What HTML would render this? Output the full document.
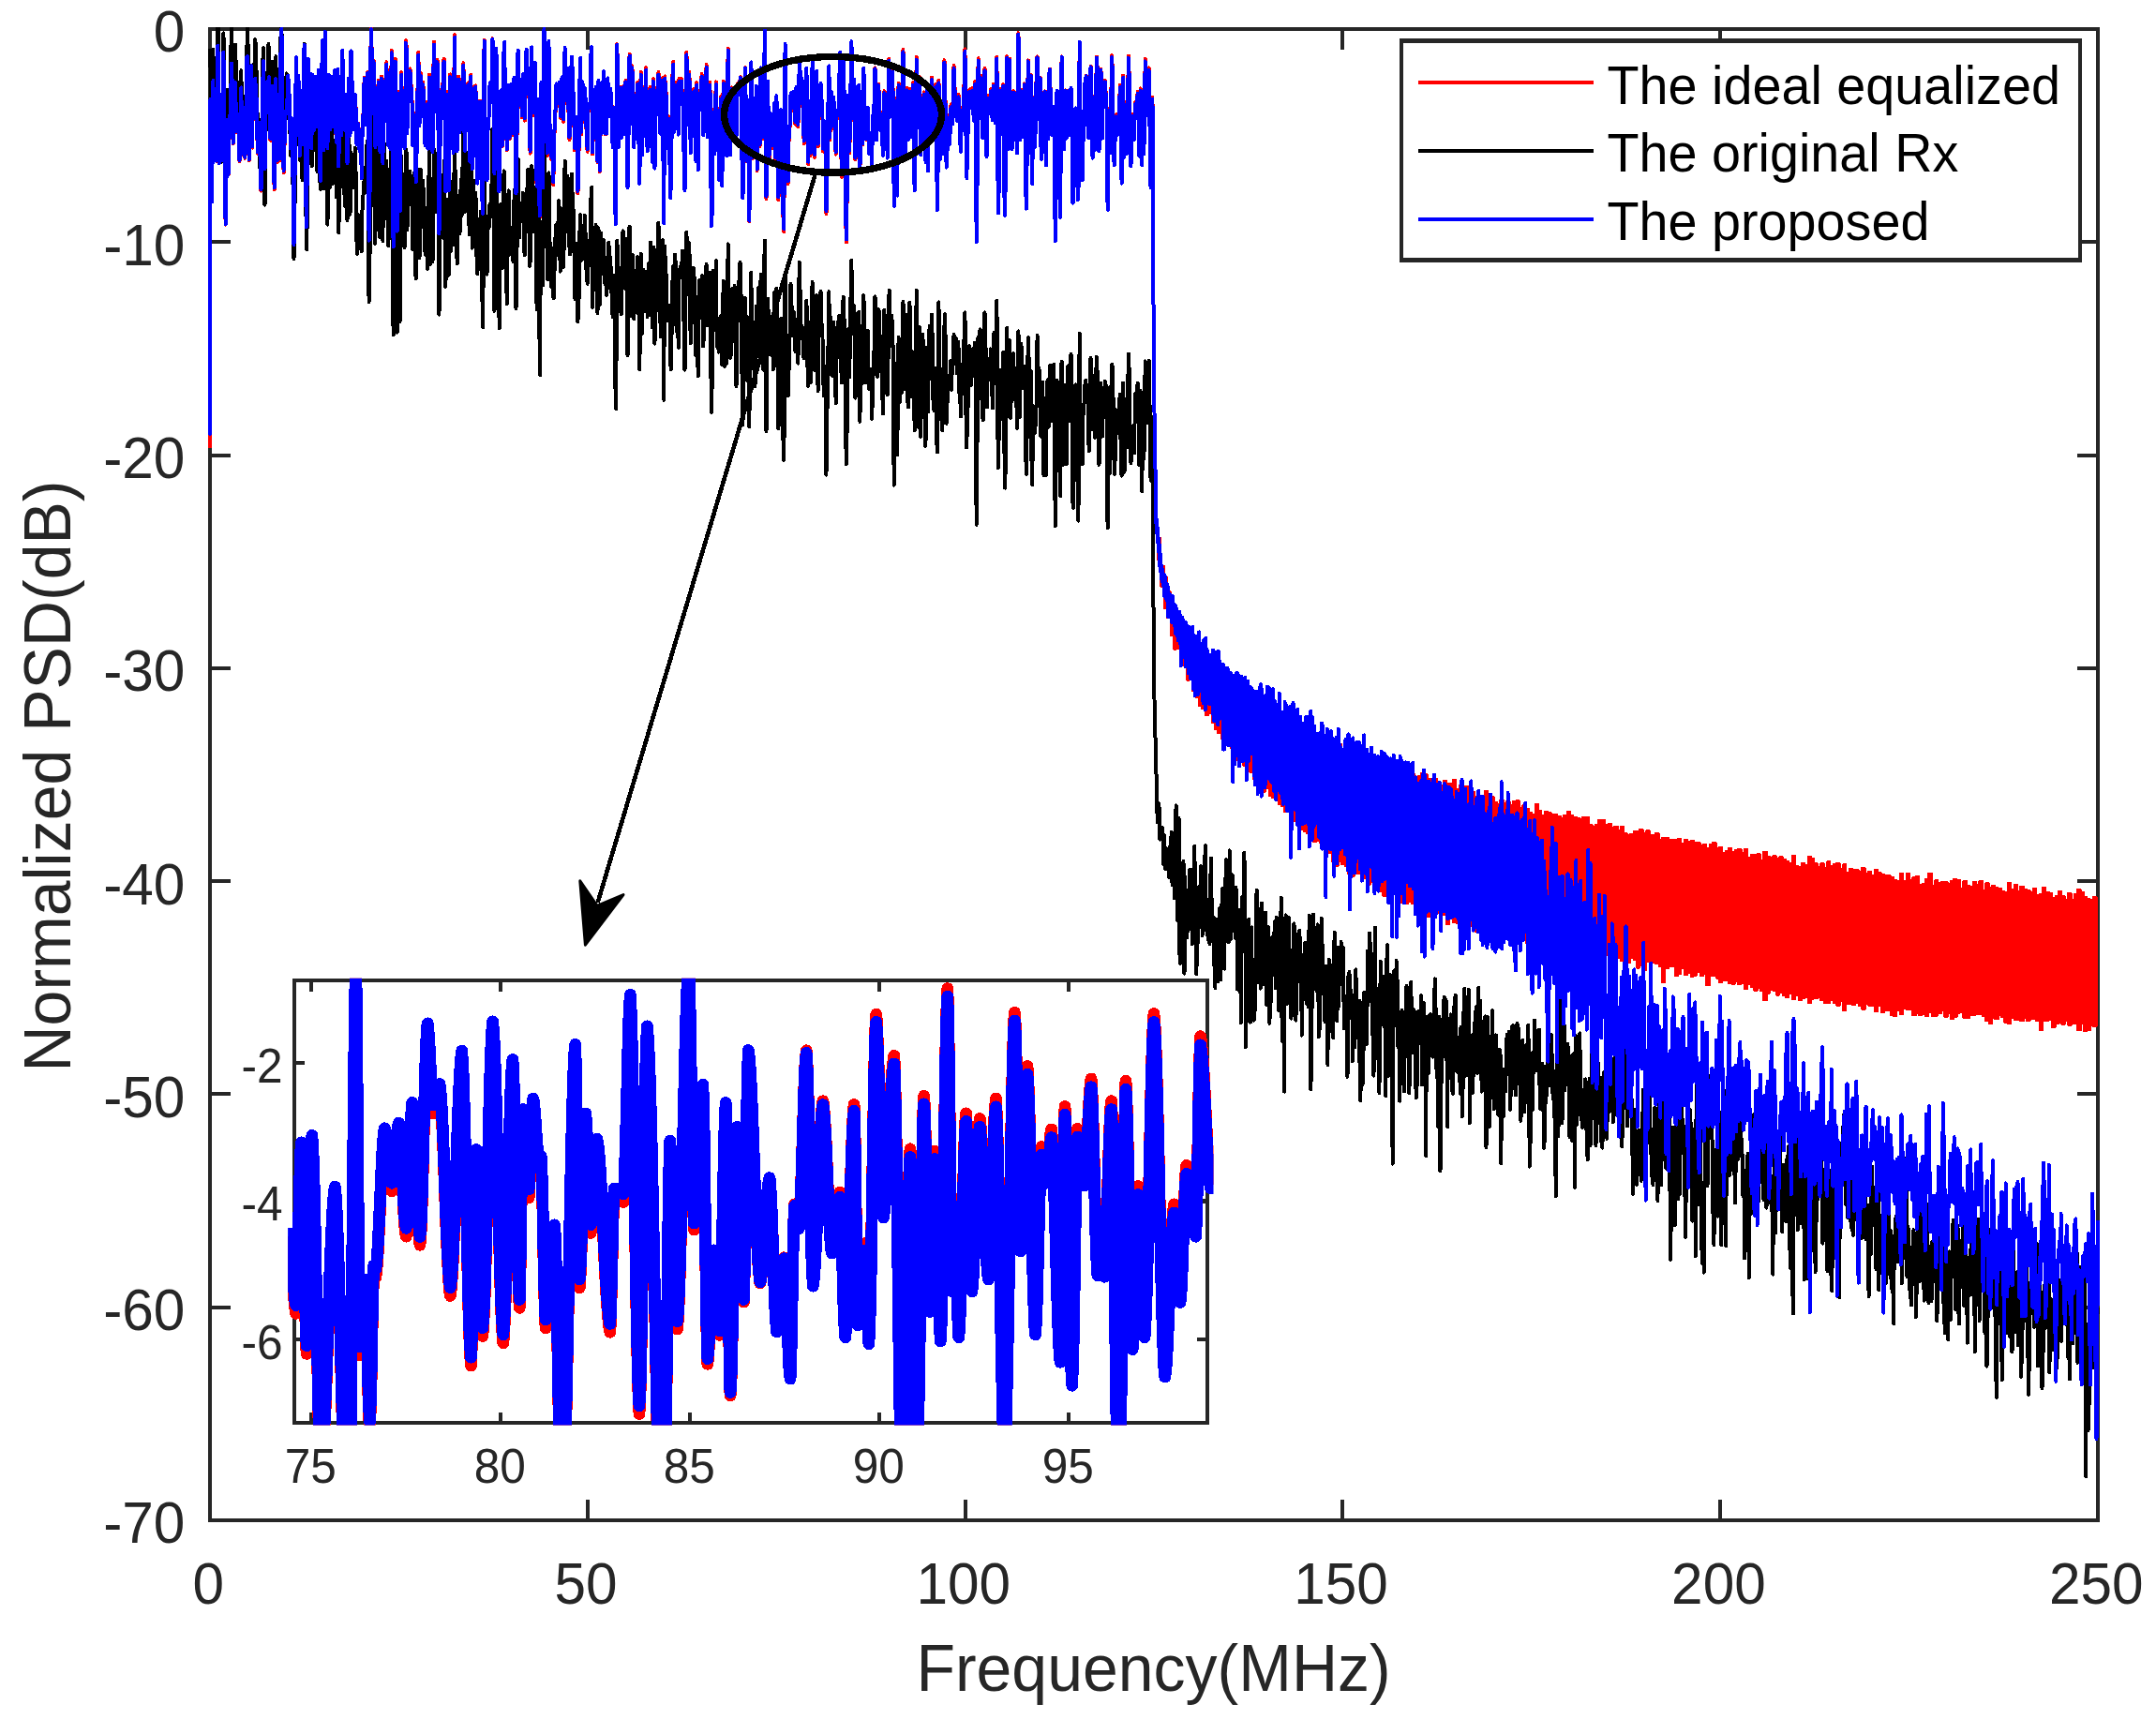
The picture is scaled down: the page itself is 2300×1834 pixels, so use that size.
<!DOCTYPE html>
<html><head><meta charset="utf-8"><title>Normalized PSD</title><style>html,body{margin:0;padding:0;background:#fff}svg{display:block}</style></head><body>
<svg width="2300" height="1834" viewBox="0 0 2300 1834" font-family="'Liberation Sans', Arial, Helvetica, sans-serif">
<rect width="2300" height="1834" fill="#fff"/>
<defs><clipPath id="cm"><rect x="222.0" y="29.0" width="2018.0" height="1595.0"/></clipPath><clipPath id="ci"><rect x="307.1" y="1043.8" width="987.4" height="476.7"/></clipPath></defs>
<g stroke="#262626" stroke-width="4" fill="none" stroke-linecap="butt" shape-rendering="crispEdges">
<rect x="224.0" y="31.0" width="2014.0" height="1591.0"/>
<path d="M626.8 1622.0v-22M626.8 31.0v22"/>
<path d="M1029.6 1622.0v-22M1029.6 31.0v22"/>
<path d="M1432.4 1622.0v-22M1432.4 31.0v22"/>
<path d="M1835.2 1622.0v-22M1835.2 31.0v22"/>
<path d="M224.0 258.3h22M2238.0 258.3h-22"/>
<path d="M224.0 485.6h22M2238.0 485.6h-22"/>
<path d="M224.0 712.9h22M2238.0 712.9h-22"/>
<path d="M224.0 940.1h22M2238.0 940.1h-22"/>
<path d="M224.0 1167.4h22M2238.0 1167.4h-22"/>
<path d="M224.0 1394.7h22M2238.0 1394.7h-22"/>
</g>
<g fill="#262626" font-size="60.3">
<text transform="translate(222.2 1711.2) scale(1 1.03)" text-anchor="middle">0</text>
<text transform="translate(625.0 1711.2) scale(1 1.03)" text-anchor="middle">50</text>
<text transform="translate(1027.8 1711.2) scale(1 1.03)" text-anchor="middle">100</text>
<text transform="translate(1430.6 1711.2) scale(1 1.03)" text-anchor="middle">150</text>
<text transform="translate(1833.4 1711.2) scale(1 1.03)" text-anchor="middle">200</text>
<text transform="translate(2236.2 1711.2) scale(1 1.03)" text-anchor="middle">250</text>
<text transform="translate(197.4 55.4) scale(1 1.03)" text-anchor="end">0</text>
<text transform="translate(197.4 282.7) scale(1 1.03)" text-anchor="end">-10</text>
<text transform="translate(197.4 510.0) scale(1 1.03)" text-anchor="end">-20</text>
<text transform="translate(197.4 737.3) scale(1 1.03)" text-anchor="end">-30</text>
<text transform="translate(197.4 964.5) scale(1 1.03)" text-anchor="end">-40</text>
<text transform="translate(197.4 1191.8) scale(1 1.03)" text-anchor="end">-50</text>
<text transform="translate(197.4 1419.1) scale(1 1.03)" text-anchor="end">-60</text>
<text transform="translate(197.4 1646.4) scale(1 1.03)" text-anchor="end">-70</text>
</g>
<g fill="#262626" font-size="68">
<text transform="translate(1230.5 1803.8) scale(1 1.035)" text-anchor="middle">Frequency(MHz)</text>
<text transform="translate(75.2 828.0) rotate(-90) scale(1 1.035)" text-anchor="middle">Normalized PSD(dB)</text>
</g>
<g clip-path="url(#cm)" fill="none" stroke-width="4" stroke-linejoin="round" stroke-linecap="round" shape-rendering="crispEdges">
<polygon points="1235.0,573.7 1238.4,573.7 1238.4,604.0 1241.8,604.0 1241.8,616.0 1245.2,616.0 1245.2,630.8 1248.6,630.8 1248.6,641.5 1251.9,641.5 1251.9,648.1 1255.3,648.1 1255.3,663.3 1258.7,663.3 1258.7,662.7 1262.1,662.7 1262.1,664.2 1265.5,664.2 1265.5,675.4 1268.9,675.4 1268.9,686.1 1272.2,686.1 1272.2,685.3 1275.6,685.3 1275.6,691.8 1279.0,691.8 1279.0,699.9 1282.4,699.9 1282.4,701.0 1285.8,701.0 1285.8,699.7 1289.2,699.7 1289.2,701.9 1292.5,701.9 1292.5,708.1 1295.9,708.1 1295.9,711.9 1299.3,711.9 1299.3,713.1 1302.7,713.1 1302.7,721.0 1306.1,721.0 1306.1,723.0 1309.5,723.0 1309.5,725.6 1312.8,725.6 1312.8,728.0 1316.2,728.0 1316.2,730.6 1319.6,730.6 1319.6,732.1 1323.0,732.1 1323.0,732.7 1326.4,732.7 1326.4,739.0 1329.8,739.0 1329.8,739.5 1333.2,739.5 1333.2,742.3 1336.5,742.3 1336.5,744.3 1339.9,744.3 1339.9,742.6 1343.3,742.6 1343.3,749.0 1346.7,749.0 1346.7,746.0 1350.1,746.0 1350.1,753.1 1353.5,753.1 1353.5,759.9 1356.8,759.9 1356.8,758.0 1360.2,758.0 1360.2,761.8 1363.6,761.8 1363.6,758.8 1367.0,758.8 1367.0,768.4 1370.4,768.4 1370.4,766.8 1373.8,766.8 1373.8,774.1 1377.1,774.1 1377.1,770.9 1380.5,770.9 1380.5,777.5 1383.9,777.5 1383.9,771.8 1387.3,771.8 1387.3,775.2 1390.7,775.2 1390.7,779.0 1394.1,779.0 1394.1,779.0 1397.4,779.0 1397.4,786.0 1400.8,786.0 1400.8,786.0 1404.2,786.0 1404.2,789.5 1407.6,789.5 1407.6,788.5 1411.0,788.5 1411.0,796.2 1414.4,796.2 1414.4,789.4 1417.7,789.4 1417.7,796.8 1421.1,796.8 1421.1,800.5 1424.5,800.5 1424.5,794.1 1427.9,794.1 1427.9,794.1 1431.3,794.1 1431.3,799.0 1434.7,799.0 1434.7,808.7 1438.0,808.7 1438.0,803.5 1441.4,803.5 1441.4,807.5 1444.8,807.5 1444.8,808.7 1448.2,808.7 1448.2,812.0 1451.6,812.0 1451.6,809.4 1455.0,809.4 1455.0,812.4 1458.3,812.4 1458.3,809.4 1461.7,809.4 1461.7,816.2 1465.1,816.2 1465.1,812.1 1468.5,812.1 1468.5,813.7 1471.9,813.7 1471.9,812.1 1475.3,812.1 1475.3,821.0 1478.6,821.0 1478.6,819.0 1482.0,819.0 1482.0,819.9 1485.4,819.9 1485.4,819.2 1488.8,819.2 1488.8,821.3 1492.2,821.3 1492.2,824.3 1495.6,824.3 1495.6,824.3 1498.9,824.3 1498.9,823.2 1502.3,823.2 1502.3,826.6 1505.7,826.6 1505.7,826.3 1509.1,826.3 1509.1,832.0 1512.5,832.0 1512.5,828.3 1515.9,828.3 1515.9,825.3 1519.2,825.3 1519.2,826.0 1522.6,826.0 1522.6,830.9 1526.0,830.9 1526.0,832.4 1529.4,832.4 1529.4,830.7 1532.8,830.7 1532.8,833.5 1536.2,833.5 1536.2,837.8 1539.5,837.8 1539.5,833.2 1542.9,833.2 1542.9,835.9 1546.3,835.9 1546.3,836.0 1549.7,836.0 1549.7,831.9 1553.1,831.9 1553.1,841.5 1556.5,841.5 1556.5,838.1 1559.8,838.1 1559.8,840.1 1563.2,840.1 1563.2,838.9 1566.6,838.9 1566.6,839.4 1570.0,839.4 1570.0,845.2 1573.4,845.2 1573.4,850.1 1576.8,850.1 1576.8,850.3 1580.1,850.3 1580.1,850.9 1583.5,850.9 1583.5,843.8 1586.9,843.8 1586.9,855.3 1590.3,855.3 1590.3,850.3 1593.7,850.3 1593.7,855.8 1597.1,855.8 1597.1,857.9 1600.4,857.9 1600.4,853.8 1603.8,853.8 1603.8,857.1 1607.2,857.1 1607.2,855.2 1610.6,855.2 1610.6,859.4 1614.0,859.4 1614.0,855.2 1617.4,855.2 1617.4,854.4 1620.7,854.4 1620.7,861.7 1624.1,861.7 1624.1,859.4 1627.5,859.4 1627.5,863.2 1630.9,863.2 1630.9,866.8 1634.3,866.8 1634.3,868.5 1637.7,868.5 1637.7,857.5 1641.1,857.5 1641.1,865.3 1644.4,865.3 1644.4,869.7 1647.8,869.7 1647.8,865.6 1651.2,865.6 1651.2,866.9 1654.6,866.9 1654.6,869.3 1658.0,869.3 1658.0,868.6 1661.4,868.6 1661.4,870.9 1664.7,870.9 1664.7,872.6 1668.1,872.6 1668.1,870.0 1671.5,870.0 1671.5,866.3 1674.9,866.3 1674.9,870.0 1678.3,870.0 1678.3,871.8 1681.7,871.8 1681.7,872.6 1685.0,872.6 1685.0,873.5 1688.4,873.5 1688.4,871.8 1691.8,871.8 1691.8,871.8 1695.2,871.8 1695.2,880.2 1698.6,880.2 1698.6,882.2 1702.0,882.2 1702.0,879.9 1705.3,879.9 1705.3,875.1 1708.7,875.1 1708.7,875.1 1712.1,875.1 1712.1,879.8 1715.5,879.8 1715.5,878.6 1718.9,878.6 1718.9,883.2 1722.3,883.2 1722.3,881.5 1725.6,881.5 1725.6,885.6 1729.0,885.6 1729.0,882.0 1732.4,882.0 1732.4,889.3 1735.8,889.3 1735.8,890.8 1739.2,890.8 1739.2,890.0 1742.6,890.0 1742.6,887.1 1745.9,887.1 1745.9,886.5 1749.3,886.5 1749.3,885.1 1752.7,885.1 1752.7,888.8 1756.1,888.8 1756.1,886.4 1759.5,886.4 1759.5,890.7 1762.9,890.7 1762.9,891.0 1766.2,891.0 1766.2,889.0 1769.6,889.0 1769.6,895.9 1773.0,895.9 1773.0,894.2 1776.4,894.2 1776.4,893.8 1779.8,893.8 1779.8,895.9 1783.2,895.9 1783.2,896.1 1786.5,896.1 1786.5,896.2 1789.9,896.2 1789.9,895.2 1793.3,895.2 1793.3,900.3 1796.7,900.3 1796.7,895.6 1800.1,895.6 1800.1,898.1 1803.5,898.1 1803.5,896.8 1806.8,896.8 1806.8,899.1 1810.2,899.1 1810.2,898.8 1813.6,898.8 1813.6,902.4 1817.0,902.4 1817.0,901.0 1820.4,901.0 1820.4,905.1 1823.8,905.1 1823.8,901.4 1827.1,901.4 1827.1,899.1 1830.5,899.1 1830.5,905.3 1833.9,905.3 1833.9,903.6 1837.3,903.6 1837.3,910.0 1840.7,910.0 1840.7,908.1 1844.1,908.1 1844.1,904.9 1847.4,904.9 1847.4,909.0 1850.8,909.0 1850.8,907.3 1854.2,907.3 1854.2,905.9 1857.6,905.9 1857.6,910.3 1861.0,910.3 1861.0,905.5 1864.4,905.5 1864.4,914.8 1867.7,914.8 1867.7,912.3 1871.1,912.3 1871.1,912.1 1874.5,912.1 1874.5,911.4 1877.9,911.4 1877.9,917.8 1881.3,917.8 1881.3,908.9 1884.7,908.9 1884.7,913.6 1888.0,913.6 1888.0,914.6 1891.4,914.6 1891.4,913.4 1894.8,913.4 1894.8,916.3 1898.2,916.3 1898.2,914.3 1901.6,914.3 1901.6,916.8 1905.0,916.8 1905.0,918.5 1908.3,918.5 1908.3,920.6 1911.7,920.6 1911.7,913.0 1915.1,913.0 1915.1,924.3 1918.5,924.3 1918.5,925.0 1921.9,925.0 1921.9,920.6 1925.3,920.6 1925.3,923.0 1928.6,923.0 1928.6,913.7 1932.0,913.7 1932.0,916.1 1935.4,916.1 1935.4,921.4 1938.8,921.4 1938.8,925.3 1942.2,925.3 1942.2,921.4 1945.6,921.4 1945.6,926.0 1949.0,926.0 1949.0,919.4 1952.3,919.4 1952.3,924.3 1955.7,924.3 1955.7,921.7 1959.1,921.7 1959.1,920.9 1962.5,920.9 1962.5,926.6 1965.9,926.6 1965.9,922.4 1969.3,922.4 1969.3,930.5 1972.6,930.5 1972.6,927.0 1976.0,927.0 1976.0,928.2 1979.4,928.2 1979.4,928.4 1982.8,928.4 1982.8,930.3 1986.2,930.3 1986.2,925.9 1989.6,925.9 1989.6,932.0 1992.9,932.0 1992.9,930.1 1996.3,930.1 1996.3,933.8 1999.7,933.8 1999.7,927.8 2003.1,927.8 2003.1,930.6 2006.5,930.6 2006.5,932.7 2009.9,932.7 2009.9,934.2 2013.2,934.2 2013.2,933.9 2016.6,933.9 2016.6,935.8 2020.0,935.8 2020.0,939.2 2023.4,939.2 2023.4,939.9 2026.8,939.9 2026.8,931.6 2030.2,931.6 2030.2,939.8 2033.5,939.8 2033.5,932.1 2036.9,932.1 2036.9,939.1 2040.3,939.1 2040.3,936.4 2043.7,936.4 2043.7,934.9 2047.1,934.9 2047.1,943.6 2050.5,943.6 2050.5,943.4 2053.8,943.4 2053.8,938.3 2057.2,938.3 2057.2,931.7 2060.6,931.7 2060.6,945.0 2064.0,945.0 2064.0,939.4 2067.4,939.4 2067.4,941.5 2070.8,941.5 2070.8,940.5 2074.1,940.5 2074.1,941.1 2077.5,941.1 2077.5,942.9 2080.9,942.9 2080.9,939.6 2084.3,939.6 2084.3,938.1 2087.7,938.1 2087.7,939.2 2091.1,939.2 2091.1,948.3 2094.4,948.3 2094.4,940.1 2097.8,940.1 2097.8,944.8 2101.2,944.8 2101.2,946.0 2104.6,946.0 2104.6,941.2 2108.0,941.2 2108.0,943.6 2111.4,943.6 2111.4,939.9 2114.7,939.9 2114.7,949.8 2118.1,949.8 2118.1,942.4 2121.5,942.4 2121.5,947.0 2124.9,947.0 2124.9,944.9 2128.3,944.9 2128.3,947.2 2131.7,947.2 2131.7,947.8 2135.0,947.8 2135.0,950.7 2138.4,950.7 2138.4,951.7 2141.8,951.7 2141.8,941.8 2145.2,941.8 2145.2,948.6 2148.6,948.6 2148.6,944.2 2152.0,944.2 2152.0,950.5 2155.3,950.5 2155.3,945.6 2158.7,945.6 2158.7,949.3 2162.1,949.3 2162.1,950.3 2165.5,950.3 2165.5,952.2 2168.9,952.2 2168.9,948.0 2172.3,948.0 2172.3,954.5 2175.6,954.5 2175.6,954.3 2179.0,954.3 2179.0,947.0 2182.4,947.0 2182.4,952.0 2185.8,952.0 2185.8,952.7 2189.2,952.7 2189.2,958.3 2192.6,958.3 2192.6,955.9 2195.9,955.9 2195.9,950.5 2199.3,950.5 2199.3,956.1 2202.7,956.1 2202.7,960.2 2206.1,960.2 2206.1,952.6 2209.5,952.6 2209.5,960.1 2212.9,960.1 2212.9,954.3 2216.2,954.3 2216.2,949.2 2219.6,949.2 2219.6,952.2 2223.0,952.2 2223.0,957.0 2226.4,957.0 2226.4,959.3 2229.8,959.3 2229.8,960.4 2233.2,960.4 2233.2,957.2 2236.5,957.2 2236.5,1095.2 2233.2,1095.2 2233.2,1093.9 2229.8,1093.9 2229.8,1099.1 2226.4,1099.1 2226.4,1100.3 2223.0,1100.3 2223.0,1091.8 2219.6,1091.8 2219.6,1099.4 2216.2,1099.4 2216.2,1092.0 2212.9,1092.0 2212.9,1091.7 2209.5,1091.7 2209.5,1093.5 2206.1,1093.5 2206.1,1089.3 2202.7,1089.3 2202.7,1092.5 2199.3,1092.5 2199.3,1090.5 2195.9,1090.5 2195.9,1092.0 2192.6,1092.0 2192.6,1096.0 2189.2,1096.0 2189.2,1088.3 2185.8,1088.3 2185.8,1088.6 2182.4,1088.6 2182.4,1089.3 2179.0,1089.3 2179.0,1099.4 2175.6,1099.4 2175.6,1089.4 2172.3,1089.4 2172.3,1087.2 2168.9,1087.2 2168.9,1087.3 2165.5,1087.3 2165.5,1089.3 2162.1,1089.3 2162.1,1086.2 2158.7,1086.2 2158.7,1089.3 2155.3,1089.3 2155.3,1088.4 2152.0,1088.4 2152.0,1088.4 2148.6,1088.4 2148.6,1086.3 2145.2,1086.3 2145.2,1092.3 2141.8,1092.3 2141.8,1090.8 2138.4,1090.8 2138.4,1084.7 2135.0,1084.7 2135.0,1083.4 2131.7,1083.4 2131.7,1087.2 2128.3,1087.2 2128.3,1085.6 2124.9,1085.6 2124.9,1092.2 2121.5,1092.2 2121.5,1089.2 2118.1,1089.2 2118.1,1084.1 2114.7,1084.1 2114.7,1082.2 2111.4,1082.2 2111.4,1081.5 2108.0,1081.5 2108.0,1082.5 2104.6,1082.5 2104.6,1082.9 2101.2,1082.9 2101.2,1085.9 2097.8,1085.9 2097.8,1086.0 2094.4,1086.0 2094.4,1080.0 2091.1,1080.0 2091.1,1080.5 2087.7,1080.5 2087.7,1084.5 2084.3,1084.5 2084.3,1087.3 2080.9,1087.3 2080.9,1080.9 2077.5,1080.9 2077.5,1084.6 2074.1,1084.6 2074.1,1077.8 2070.8,1077.8 2070.8,1080.9 2067.4,1080.9 2067.4,1083.5 2064.0,1083.5 2064.0,1084.3 2060.6,1084.3 2060.6,1080.1 2057.2,1080.1 2057.2,1084.4 2053.8,1084.4 2053.8,1082.0 2050.5,1082.0 2050.5,1083.2 2047.1,1083.2 2047.1,1081.4 2043.7,1081.4 2043.7,1083.0 2040.3,1083.0 2040.3,1077.4 2036.9,1077.4 2036.9,1077.1 2033.5,1077.1 2033.5,1075.8 2030.2,1075.8 2030.2,1082.4 2026.8,1082.4 2026.8,1078.1 2023.4,1078.1 2023.4,1084.3 2020.0,1084.3 2020.0,1083.0 2016.6,1083.0 2016.6,1078.1 2013.2,1078.1 2013.2,1077.9 2009.9,1077.9 2009.9,1079.8 2006.5,1079.8 2006.5,1072.5 2003.1,1072.5 2003.1,1079.4 1999.7,1079.4 1999.7,1072.8 1996.3,1072.8 1996.3,1072.5 1992.9,1072.5 1992.9,1071.1 1989.6,1071.1 1989.6,1076.5 1986.2,1076.5 1986.2,1073.2 1982.8,1073.2 1982.8,1070.0 1979.4,1070.0 1979.4,1071.7 1976.0,1071.7 1976.0,1070.6 1972.6,1070.6 1972.6,1071.3 1969.3,1071.3 1969.3,1077.8 1965.9,1077.8 1965.9,1068.2 1962.5,1068.2 1962.5,1072.5 1959.1,1072.5 1959.1,1070.0 1955.7,1070.0 1955.7,1066.8 1952.3,1066.8 1952.3,1070.3 1949.0,1070.3 1949.0,1069.7 1945.6,1069.7 1945.6,1066.9 1942.2,1066.9 1942.2,1063.8 1938.8,1063.8 1938.8,1064.8 1935.4,1064.8 1935.4,1065.5 1932.0,1065.5 1932.0,1070.2 1928.6,1070.2 1928.6,1064.4 1925.3,1064.4 1925.3,1065.1 1921.9,1065.1 1921.9,1067.1 1918.5,1067.1 1918.5,1062.2 1915.1,1062.2 1915.1,1066.1 1911.7,1066.1 1911.7,1059.8 1908.3,1059.8 1908.3,1064.1 1905.0,1064.1 1905.0,1062.4 1901.6,1062.4 1901.6,1058.9 1898.2,1058.9 1898.2,1061.6 1894.8,1061.6 1894.8,1057.0 1891.4,1057.0 1891.4,1056.2 1888.0,1056.2 1888.0,1059.6 1884.7,1059.6 1884.7,1067.4 1881.3,1067.4 1881.3,1056.8 1877.9,1056.8 1877.9,1054.3 1874.5,1054.3 1874.5,1056.6 1871.1,1056.6 1871.1,1052.9 1867.7,1052.9 1867.7,1050.1 1864.4,1050.1 1864.4,1055.1 1861.0,1055.1 1861.0,1048.7 1857.6,1048.7 1857.6,1049.8 1854.2,1049.8 1854.2,1047.2 1850.8,1047.2 1850.8,1049.7 1847.4,1049.7 1847.4,1048.9 1844.1,1048.9 1844.1,1046.3 1840.7,1046.3 1840.7,1046.4 1837.3,1046.4 1837.3,1047.9 1833.9,1047.9 1833.9,1043.5 1830.5,1043.5 1830.5,1041.1 1827.1,1041.1 1827.1,1041.3 1823.8,1041.3 1823.8,1051.3 1820.4,1051.3 1820.4,1038.7 1817.0,1038.7 1817.0,1040.7 1813.6,1040.7 1813.6,1037.0 1810.2,1037.0 1810.2,1040.5 1806.8,1040.5 1806.8,1041.7 1803.5,1041.7 1803.5,1038.4 1800.1,1038.4 1800.1,1040.4 1796.7,1040.4 1796.7,1032.9 1793.3,1032.9 1793.3,1038.9 1789.9,1038.9 1789.9,1040.9 1786.5,1040.9 1786.5,1031.1 1783.2,1031.1 1783.2,1030.8 1779.8,1030.8 1779.8,1033.1 1776.4,1033.1 1776.4,1048.2 1773.0,1048.2 1773.0,1031.2 1769.6,1031.2 1769.6,1028.1 1766.2,1028.1 1766.2,1026.5 1762.9,1026.5 1762.9,1026.1 1759.5,1026.1 1759.5,1026.1 1756.1,1026.1 1756.1,1034.9 1752.7,1034.9 1752.7,1030.3 1749.3,1030.3 1749.3,1032.5 1745.9,1032.5 1745.9,1023.9 1742.6,1023.9 1742.6,1021.8 1739.2,1021.8 1739.2,1027.2 1735.8,1027.2 1735.8,1023.7 1732.4,1023.7 1732.4,1024.9 1729.0,1024.9 1729.0,1022.1 1725.6,1022.1 1725.6,1019.5 1722.3,1019.5 1722.3,1027.1 1718.9,1027.1 1718.9,1020.9 1715.5,1020.9 1715.5,1018.7 1712.1,1018.7 1712.1,1023.5 1708.7,1023.5 1708.7,1016.3 1705.3,1016.3 1705.3,1017.0 1702.0,1017.0 1702.0,1019.4 1698.6,1019.4 1698.6,1017.7 1695.2,1017.7 1695.2,1017.9 1691.8,1017.9 1691.8,1014.3 1688.4,1014.3 1688.4,1016.1 1685.0,1016.1 1685.0,1020.5 1681.7,1020.5 1681.7,1013.7 1678.3,1013.7 1678.3,1012.6 1674.9,1012.6 1674.9,1012.6 1671.5,1012.6 1671.5,1016.0 1668.1,1016.0 1668.1,1013.9 1664.7,1013.9 1664.7,1008.7 1661.4,1008.7 1661.4,1011.2 1658.0,1011.2 1658.0,1010.1 1654.6,1010.1 1654.6,1011.2 1651.2,1011.2 1651.2,1004.4 1647.8,1004.4 1647.8,1007.3 1644.4,1007.3 1644.4,1006.0 1641.1,1006.0 1641.1,1003.7 1637.7,1003.7 1637.7,1003.3 1634.3,1003.3 1634.3,1002.4 1630.9,1002.4 1630.9,1006.3 1627.5,1006.3 1627.5,1000.3 1624.1,1000.3 1624.1,1001.1 1620.7,1001.1 1620.7,1001.1 1617.4,1001.1 1617.4,1000.8 1614.0,1000.8 1614.0,998.5 1610.6,998.5 1610.6,996.4 1607.2,996.4 1607.2,1001.5 1603.8,1001.5 1603.8,996.1 1600.4,996.1 1600.4,997.6 1597.1,997.6 1597.1,995.7 1593.7,995.7 1593.7,1001.1 1590.3,1001.1 1590.3,1002.5 1586.9,1002.5 1586.9,994.7 1583.5,994.7 1583.5,991.6 1580.1,991.6 1580.1,994.6 1576.8,994.6 1576.8,993.5 1573.4,993.5 1573.4,988.0 1570.0,988.0 1570.0,986.7 1566.6,986.7 1566.6,990.9 1563.2,990.9 1563.2,984.4 1559.8,984.4 1559.8,984.3 1556.5,984.3 1556.5,984.6 1553.1,984.6 1553.1,983.7 1549.7,983.7 1549.7,979.9 1546.3,979.9 1546.3,985.9 1542.9,985.9 1542.9,975.8 1539.5,975.8 1539.5,975.4 1536.2,975.4 1536.2,974.1 1532.8,974.1 1532.8,972.0 1529.4,972.0 1529.4,972.5 1526.0,972.5 1526.0,978.3 1522.6,978.3 1522.6,967.8 1519.2,967.8 1519.2,967.9 1515.9,967.9 1515.9,965.2 1512.5,965.2 1512.5,967.2 1509.1,967.2 1509.1,963.8 1505.7,963.8 1505.7,961.9 1502.3,961.9 1502.3,964.3 1498.9,964.3 1498.9,957.9 1495.6,957.9 1495.6,962.9 1492.2,962.9 1492.2,955.2 1488.8,955.2 1488.8,954.3 1485.4,954.3 1485.4,951.7 1482.0,951.7 1482.0,954.4 1478.6,954.4 1478.6,955.5 1475.3,955.5 1475.3,950.8 1471.9,950.8 1471.9,947.1 1468.5,947.1 1468.5,943.9 1465.1,943.9 1465.1,940.8 1461.7,940.8 1461.7,943.9 1458.3,943.9 1458.3,936.5 1455.0,936.5 1455.0,934.9 1451.6,934.9 1451.6,932.3 1448.2,932.3 1448.2,931.1 1444.8,931.1 1444.8,934.7 1441.4,934.7 1441.4,932.6 1438.0,932.6 1438.0,924.0 1434.7,924.0 1434.7,921.9 1431.3,921.9 1431.3,918.9 1427.9,918.9 1427.9,923.7 1424.5,923.7 1424.5,919.3 1421.1,919.3 1421.1,909.6 1417.7,909.6 1417.7,909.0 1414.4,909.0 1414.4,903.1 1411.0,903.1 1411.0,899.5 1407.6,899.5 1407.6,896.5 1404.2,896.5 1404.2,897.9 1400.8,897.9 1400.8,893.1 1397.4,893.1 1397.4,889.2 1394.1,889.2 1394.1,887.3 1390.7,887.3 1390.7,885.2 1387.3,885.2 1387.3,881.0 1383.9,881.0 1383.9,876.3 1380.5,876.3 1380.5,868.1 1377.1,868.1 1377.1,865.0 1373.8,865.0 1373.8,866.4 1370.4,866.4 1370.4,859.7 1367.0,859.7 1367.0,858.1 1363.6,858.1 1363.6,853.2 1360.2,853.2 1360.2,851.0 1356.8,851.0 1356.8,848.8 1353.5,848.8 1353.5,840.5 1350.1,840.5 1350.1,844.5 1346.7,844.5 1346.7,835.5 1343.3,835.5 1343.3,832.6 1339.9,832.6 1339.9,830.8 1336.5,830.8 1336.5,823.6 1333.2,823.6 1333.2,817.8 1329.8,817.8 1329.8,816.7 1326.4,816.7 1326.4,809.7 1323.0,809.7 1323.0,811.0 1319.6,811.0 1319.6,802.4 1316.2,802.4 1316.2,798.5 1312.8,798.5 1312.8,795.8 1309.5,795.8 1309.5,793.5 1306.1,793.5 1306.1,788.0 1302.7,788.0 1302.7,782.2 1299.3,782.2 1299.3,778.1 1295.9,778.1 1295.9,771.0 1292.5,771.0 1292.5,761.3 1289.2,761.3 1289.2,763.3 1285.8,763.3 1285.8,756.4 1282.4,756.4 1282.4,753.2 1279.0,753.2 1279.0,743.7 1275.6,743.7 1275.6,737.2 1272.2,737.2 1272.2,724.0 1268.9,724.0 1268.9,725.5 1265.5,725.5 1265.5,709.8 1262.1,709.8 1262.1,704.1 1258.7,704.1 1258.7,692.0 1255.3,692.0 1255.3,692.5 1251.9,692.5 1251.9,678.3 1248.6,678.3 1248.6,659.3 1245.2,659.3 1245.2,649.2 1241.8,649.2 1241.8,625.5 1238.4,625.5 1238.4,597.0 1235.0,597.0" fill="#f00" stroke="#f00" stroke-width="2"/>
<path stroke="#f00" d="M224.0 476.5L224.5 105.7L225.0 134.3L225.5 187.6L226.0 215.5L226.5 178.5L227.0 118.2L227.4 86.0L227.9 113.7L228.4 153.2L228.9 154.1L229.4 118.2L229.9 111.2L230.4 144.0L230.9 171.9L231.4 148.2L231.9 90.1L232.4 48.8L232.9 77.5L233.3 146.0L233.8 174.5L234.3 146.5L234.8 120.3L235.3 131.2L235.8 156.4L236.3 171.8L236.8 153.9L237.3 116.4L237.8 77.7L238.3 56.6L238.8 75.8L239.2 121.9L239.7 177.6L240.2 222.7L240.7 239.6L241.2 216.4L241.7 176.3L242.2 140.0L242.7 128.2L243.2 158.0L243.7 186.3L244.2 158.8L244.7 123.8L245.1 128.5L245.6 131.3L246.1 113.3L246.6 85.3L247.1 68.1L247.6 87.8L248.1 129.1L248.6 153.4L249.1 143.6L249.6 123.6L250.1 102.0L250.6 88.3L251.0 92.2L251.5 109.5L252.0 129.4L252.5 140.9L253.0 138.0L253.5 130.1L254.0 122.8L254.5 125.2L255.0 153.7L255.5 172.2L256.0 156.1L256.5 126.3L256.9 98.9L257.4 94.3L257.9 155.2L258.4 164.7L258.9 152.3L259.4 141.8L259.9 143.5L260.4 152.6L260.9 163.0L261.4 168.9L261.9 156.1L262.4 124.9L262.8 88.5L263.3 62.3L263.8 61.2L264.3 85.8L264.8 121.6L265.3 154.4L265.8 171.4L266.3 156.9L266.8 124.6L267.3 90.6L267.8 71.4L268.3 89.3L268.7 130.0L269.2 157.7L269.7 113.4L270.2 91.7L270.7 106.5L271.2 118.1L271.7 102.8L272.2 85.1L272.7 93.1L273.2 104.6L273.7 106.8L274.2 118.2L274.6 158.6L275.1 164.0L275.6 153.6L276.1 140.8L276.6 132.5L277.1 142.7L277.6 173.8L278.1 202.0L278.6 203.6L279.1 182.4L279.6 149.6L280.1 113.6L280.5 83.4L281.0 66.7L281.5 85.5L282.0 137.1L282.5 182.2L283.0 178.2L283.5 125.3L284.0 99.9L284.5 105.9L285.0 114.0L285.5 116.8L286.0 104.3L286.4 87.3L286.9 83.9L287.4 111.7L287.9 143.6L288.4 149.3L288.9 145.3L289.4 149.9L289.9 144.3L290.4 118.1L290.9 93.8L291.4 100.6L291.9 145.4L292.3 192.5L292.8 202.1L293.3 156.5L293.8 100.9L294.3 86.1L294.8 122.7L295.3 166.0L295.8 173.0L296.3 141.4L296.8 121.3L297.3 137.3L297.8 162.2L298.2 171.2L298.7 141.0L299.2 89.3L299.7 41.3L300.2 33.2L300.7 44.8L301.2 89.2L301.7 138.7L302.2 175.4L302.7 184.1L303.2 169.2L303.7 147.4L304.1 129.7L304.6 124.5L305.1 121.9L305.6 118.4L306.1 116.0L306.6 105.1L307.1 83.1L307.6 87.4L308.1 99.2L308.6 103.4L309.1 108.0L309.6 147.5L310.0 161.0L310.5 151.7L311.0 138.6L311.5 128.7L312.0 138.7L312.5 191.1L313.0 247.8L313.5 263.6L314.0 237.2L314.5 192.1L315.0 139.5L315.5 92.9L315.9 63.8L316.4 80.2L316.9 139.2L317.4 132.8L317.9 101.1L318.4 83.7L318.9 104.7L319.4 141.5L319.9 169.0L320.4 156.8L320.9 111.7L321.4 99.2L321.8 128.1L322.3 157.0L322.8 152.2L323.3 123.7L323.8 86.9L324.3 57.2L324.8 50.3L325.3 86.5L325.8 146.9L326.3 207.7L326.8 244.8L327.3 230.5L327.7 174.8L328.2 109.0L328.7 65.0L329.2 70.9L329.7 109.6L330.2 142.9L330.7 117.3L331.2 81.0L331.7 128.6L332.2 160.5L332.7 138.2L333.2 102.5L333.6 81.9L334.1 102.0L334.6 135.1L335.1 141.0L335.6 121.2L336.1 96.3L336.6 83.6L337.1 94.5L337.6 115.2L338.1 133.8L338.6 137.3L339.1 116.7L339.5 89.4L340.0 76.3L340.5 101.2L341.0 146.8L341.5 186.8L342.0 194.3L342.5 163.0L343.0 114.4L343.5 68.7L344.0 44.6L344.5 73.8L345.0 131.0L345.4 161.5L345.9 125.8L346.4 67.0L346.9 35.3L347.4 88.0L347.9 142.7L348.4 126.4L348.9 141.2L349.4 159.2L349.9 135.5L350.4 100.0L350.9 80.8L351.4 102.9L351.8 135.4L352.3 139.5L352.8 119.0L353.3 94.3L353.8 82.9L354.3 94.5L354.8 115.4L355.3 133.6L355.8 135.8L356.3 114.4L356.8 87.4L357.3 75.6L357.7 94.6L358.2 127.0L358.7 152.6L359.2 147.5L359.7 106.2L360.2 74.6L360.7 117.3L361.2 178.2L361.7 157.0L362.2 110.1L362.7 82.2L363.2 99.7L363.6 130.3L364.1 144.5L364.6 93.0L365.1 54.3L365.6 65.1L366.1 85.6L366.6 109.5L367.1 129.3L367.6 139.0L368.1 132.9L368.6 120.5L369.1 107.7L369.5 100.7L370.0 130.4L370.5 174.6L371.0 164.0L371.5 118.4L372.0 83.9L372.5 94.0L373.0 124.2L373.5 144.6L374.0 105.5L374.5 54.3L375.0 61.6L375.4 80.7L375.9 104.5L376.4 125.6L376.9 137.6L377.4 134.2L377.9 122.6L378.4 109.3L378.9 100.9L379.4 108.4L379.9 132.6L380.4 153.3L380.9 153.7L381.3 142.7L381.8 132.0L382.3 131.8L382.8 144.0L383.3 157.6L383.8 160.3L384.3 146.2L384.8 138.0L385.3 165.6L385.8 189.3L386.3 153.5L386.8 132.1L387.2 130.3L387.7 115.8L388.2 96.6L388.7 83.1L389.2 87.6L389.7 110.4L390.2 132.0L390.7 132.1L391.2 108.9L391.7 82.7L392.2 76.9L392.7 124.2L393.1 197.9L393.6 255.4L394.1 253.9L394.6 193.9L395.1 110.0L395.6 37.2L396.1 29.6L396.6 54.2L397.1 114.7L397.6 119.4L398.1 90.6L398.6 64.7L399.0 71.0L399.5 105.2L400.0 141.9L400.5 155.7L401.0 130.2L401.5 98.1L402.0 92.4L402.5 98.6L403.0 100.2L403.5 90.2L404.0 85.8L404.5 104.3L404.9 134.6L405.4 160.1L405.9 158.1L406.4 97.9L406.9 81.6L407.4 117.8L407.9 160.5L408.4 171.9L408.9 125.1L409.4 85.2L409.9 88.7L410.4 97.0L410.8 102.3L411.3 93.7L411.8 76.2L412.3 66.2L412.8 83.3L413.3 116.2L413.8 145.4L414.3 152.4L414.8 141.5L415.3 129.3L415.8 131.8L416.3 156.1L416.7 148.4L417.2 100.5L417.7 53.5L418.2 57.8L418.7 142.0L419.2 235.7L419.7 260.8L420.2 223.0L420.7 162.1L421.2 101.2L421.7 63.0L422.2 77.5L422.6 141.8L423.1 212.0L423.6 244.0L424.1 207.2L424.6 143.7L425.1 97.6L425.6 113.9L426.1 175.9L426.6 222.7L427.1 197.7L427.6 128.4L428.1 77.2L428.5 91.2L429.0 132.5L429.5 147.5L430.0 114.9L430.5 95.0L431.0 122.1L431.5 155.4L432.0 147.2L432.5 93.2L433.0 43.1L433.5 46.4L434.0 95.3L434.4 139.5L434.9 116.8L435.4 76.8L435.9 89.5L436.4 103.6L436.9 95.6L437.4 73.4L437.9 77.3L438.4 89.3L438.9 93.9L439.4 98.1L439.9 137.3L440.3 152.3L440.8 143.3L441.3 130.4L441.8 120.5L442.3 124.4L442.8 152.1L443.3 182.6L443.8 191.6L444.3 174.1L444.8 143.7L445.3 107.9L445.8 76.0L446.2 55.8L446.7 72.2L447.2 131.9L447.7 127.4L448.2 96.0L448.7 77.7L449.2 96.3L449.7 117.4L450.2 111.0L450.7 94.6L451.2 87.5L451.7 95.2L452.1 109.4L452.6 126.5L453.1 142.3L453.6 152.7L454.1 145.6L454.6 109.2L455.1 112.9L455.6 135.0L456.1 155.4L456.6 155.8L457.1 132.7L457.6 101.7L458.0 79.9L458.5 103.1L459.0 155.7L459.5 148.0L460.0 134.8L460.5 128.7L461.0 149.9L461.5 159.5L462.0 121.3L462.5 68.8L463.0 44.7L463.5 65.0L463.9 97.3L464.4 116.0L464.9 109.1L465.4 94.1L465.9 76.7L466.4 63.5L466.9 66.0L467.4 119.4L467.9 195.1L468.4 246.7L468.9 231.4L469.4 170.3L469.8 111.1L470.3 95.4L470.8 106.6L471.3 116.0L471.8 110.2L472.3 95.7L472.8 78.2L473.3 64.4L473.8 62.8L474.3 101.1L474.8 159.2L475.3 201.6L475.8 195.5L476.2 153.1L476.7 109.1L477.2 98.0L477.7 140.6L478.2 192.6L478.7 200.7L479.2 150.3L479.7 92.1L480.2 79.4L480.7 115.9L481.2 148.8L481.7 132.6L482.1 98.7L482.6 108.0L483.1 144.1L483.6 160.1L484.1 120.2L484.6 61.9L485.1 37.2L485.6 95.7L486.1 143.5L486.6 125.3L487.1 144.6L487.6 158.3L488.0 132.3L488.5 97.3L489.0 81.9L489.5 106.7L490.0 138.1L490.5 138.6L491.0 117.0L491.5 93.0L492.0 84.8L492.5 112.5L493.0 127.7L493.5 104.8L493.9 74.5L494.4 67.2L494.9 94.7L495.4 133.6L495.9 158.5L496.4 144.9L496.9 110.7L497.4 94.3L497.9 99.6L498.4 104.4L498.9 97.4L499.4 88.3L499.8 99.2L500.3 127.1L500.8 156.2L501.3 170.6L501.8 123.4L502.3 80.0L502.8 106.1L503.3 150.8L503.8 178.8L504.3 148.3L504.8 97.1L505.3 99.4L505.7 140.5L506.2 164.5L506.7 131.3L507.2 91.4L507.7 99.5L508.2 134.1L508.7 172.7L509.2 194.3L509.7 188.5L510.2 173.5L510.7 153.4L511.2 132.7L511.6 116.2L512.1 107.5L512.6 115.8L513.1 137.4L513.6 166.2L514.1 195.3L514.6 217.6L515.1 226.8L515.6 179.1L516.1 97.6L516.6 42.6L517.1 96.2L517.5 166.2L518.0 154.7L518.5 142.3L519.0 161.3L519.5 191.8L520.0 170.2L520.5 136.6L521.0 137.1L521.5 125.3L522.0 106.3L522.5 90.6L523.0 87.9L523.4 98.0L523.9 108.6L524.4 102.8L524.9 70.3L525.4 41.2L525.9 50.2L526.4 95.1L526.9 149.3L527.4 184.9L527.9 171.7L528.4 118.1L528.9 65.3L529.3 51.5L529.8 66.7L530.3 92.4L530.8 124.5L531.3 157.4L531.8 185.6L532.3 204.3L532.8 203.3L533.3 156.1L533.8 104.1L534.3 96.7L534.8 122.0L535.2 149.9L535.7 156.1L536.2 136.8L536.7 105.3L537.2 71.8L537.7 47.4L538.2 45.3L538.7 87.6L539.2 135.8L539.7 142.0L540.2 132.0L540.7 160.1L541.1 155.4L541.6 122.6L542.1 91.9L542.6 92.9L543.1 125.2L543.6 148.2L544.1 136.2L544.6 111.5L545.1 91.4L545.6 92.2L546.1 109.8L546.6 131.0L547.0 143.7L547.5 132.9L548.0 106.2L548.5 84.3L549.0 91.5L549.5 132.2L550.0 180.3L550.5 208.2L551.0 190.7L551.5 146.3L552.0 94.9L552.5 57.9L552.9 55.9L553.4 86.9L553.9 109.2L554.4 104.1L554.9 93.9L555.4 87.6L555.9 96.2L556.4 113.5L556.9 125.6L557.4 116.1L557.9 92.1L558.4 80.9L558.8 93.7L559.3 114.4L559.8 128.7L560.3 118.1L560.8 85.9L561.3 57.2L561.8 55.3L562.3 71.7L562.8 81.6L563.3 79.0L563.8 75.2L564.3 77.5L564.7 113.6L565.2 157.0L565.7 163.6L566.2 121.2L566.7 70.1L567.2 53.0L567.7 76.2L568.2 108.1L568.7 122.9L569.2 114.5L569.7 98.8L570.2 81.6L570.6 69.4L571.1 74.2L571.6 115.9L572.1 169.1L572.6 201.3L573.1 185.4L573.6 144.3L574.1 108.6L574.6 113.4L575.1 174.4L575.6 233.0L576.1 224.9L576.5 156.3L577.0 92.6L577.5 91.0L578.0 130.7L578.5 177.5L579.0 203.2L579.5 160.7L580.0 79.1L580.5 33.7L581.0 67.6L581.5 137.0L582.0 152.5L582.4 117.4L582.9 105.0L583.4 135.7L583.9 166.1L584.4 148.8L584.9 92.0L585.4 46.7L585.9 72.0L586.4 139.9L586.9 140.1L587.4 136.0L587.9 158.6L588.3 170.5L588.8 158.0L589.3 146.5L589.8 168.5L590.3 197.3L590.8 170.9L591.3 141.1L591.8 141.0L592.3 128.3L592.8 109.3L593.3 94.2L593.8 92.2L594.2 99.8L594.7 108.2L595.2 109.9L595.7 101.8L596.2 92.1L596.7 90.4L597.2 103.5L597.7 120.4L598.2 126.5L598.7 108.7L599.2 86.4L599.7 85.2L600.1 102.3L600.6 122.1L601.1 129.8L601.6 108.4L602.1 74.7L602.6 53.6L603.1 61.9L603.6 78.3L604.1 82.1L604.6 78.6L605.1 75.4L605.6 80.0L606.1 97.0L606.5 119.8L607.0 139.7L607.5 149.2L608.0 139.1L608.5 118.3L609.0 93.5L609.5 72.9L610.0 63.2L610.5 73.1L611.0 90.5L611.5 102.0L612.0 101.6L612.4 128.3L612.9 160.6L613.4 155.4L613.9 143.4L614.4 131.6L614.9 127.3L615.4 149.1L615.9 184.2L616.4 206.5L616.9 196.5L617.4 169.6L617.9 133.7L618.3 98.0L618.8 71.6L619.3 64.3L619.8 119.7L620.3 143.4L620.8 117.1L621.3 90.1L621.8 95.0L622.3 119.7L622.8 124.0L623.3 109.4L623.8 96.7L624.2 99.9L624.7 111.6L625.2 127.7L625.7 144.2L626.2 156.9L626.7 161.8L627.2 129.9L627.7 113.7L628.2 114.1L628.7 114.7L629.2 115.2L629.7 112.8L630.1 85.9L630.6 53.2L631.1 52.5L631.6 114.6L632.1 164.4L632.6 147.8L633.1 114.4L633.6 101.5L634.1 106.9L634.6 110.9L635.1 102.9L635.6 94.7L636.0 107.7L636.5 135.6L637.0 163.1L637.5 173.4L638.0 122.5L638.5 87.4L639.0 115.7L639.5 159.0L640.0 183.0L640.5 147.4L641.0 99.8L641.5 96.4L641.9 104.0L642.4 110.4L642.9 106.2L643.4 89.9L643.9 77.0L644.4 88.7L644.9 121.9L645.4 142.8L645.9 139.3L646.4 139.2L646.9 143.0L647.4 125.8L647.8 98.2L648.3 83.7L648.8 94.2L649.3 112.3L649.8 124.0L650.3 116.7L650.8 100.8L651.3 94.5L651.8 102.1L652.3 115.9L652.8 132.5L653.3 147.5L653.7 157.3L654.2 149.1L654.7 114.4L655.2 125.1L655.7 164.2L656.2 209.6L656.7 239.0L657.2 210.9L657.7 117.8L658.2 47.2L658.7 62.3L659.2 113.3L659.6 156.4L660.1 155.7L660.6 124.9L661.1 94.5L661.6 92.8L662.1 122.9L662.6 146.5L663.1 136.6L663.6 113.1L664.1 93.0L664.6 92.3L665.1 108.5L665.5 128.9L666.0 141.7L666.5 132.9L667.0 107.7L667.5 85.8L668.0 89.9L668.5 126.3L669.0 171.2L669.5 198.7L670.0 184.8L670.5 144.4L671.0 96.3L671.4 60.4L671.9 57.9L672.4 97.8L672.9 130.8L673.4 118.6L673.9 88.9L674.4 70.3L674.9 87.6L675.4 123.6L675.9 154.3L676.4 155.2L676.9 125.1L677.3 99.8L677.8 104.8L678.3 122.1L678.8 137.4L679.3 135.9L679.8 112.1L680.3 87.6L680.8 89.8L681.3 130.9L681.8 178.1L682.3 193.2L682.8 152.5L683.2 97.4L683.7 76.9L684.2 108.7L684.7 151.1L685.2 162.7L685.7 134.3L686.2 111.9L686.7 117.3L687.2 127.1L687.7 130.5L688.2 109.6L688.7 80.6L689.1 72.3L689.6 97.4L690.1 134.1L690.6 158.6L691.1 147.3L691.6 115.0L692.1 98.2L692.6 103.0L693.1 107.7L693.6 101.6L694.1 92.7L694.6 102.0L695.0 127.8L695.5 155.5L696.0 170.0L696.5 128.0L697.0 84.3L697.5 107.6L698.0 149.6L698.5 177.0L699.0 150.8L699.5 101.9L700.0 93.8L700.5 100.8L700.9 107.6L701.4 105.6L701.9 90.8L702.4 77.0L702.9 83.9L703.4 115.1L703.9 138.8L704.4 137.2L704.9 135.8L705.4 140.4L705.9 127.0L706.4 100.3L706.8 83.3L707.3 132.1L707.8 221.7L708.3 235.4L708.8 115.0L709.3 81.4L709.8 91.9L710.3 99.9L710.8 99.1L711.3 127.3L711.8 155.4L712.3 149.5L712.7 138.0L713.2 127.1L713.7 124.4L714.2 149.2L714.7 186.2L715.2 208.2L715.7 196.3L716.2 168.3L716.7 131.8L717.2 96.1L717.7 70.3L718.2 65.9L718.6 120.3L719.1 138.0L719.6 112.1L720.1 87.6L720.6 94.7L721.1 117.8L721.6 120.1L722.1 105.9L722.6 94.6L723.1 109.8L723.6 140.9L724.1 132.6L724.5 84.1L725.0 94.1L725.5 108.2L726.0 105.8L726.5 84.1L727.0 83.8L727.5 94.8L728.0 101.0L728.5 101.2L729.0 122.7L729.5 159.6L730.0 192.1L730.5 200.2L730.9 171.9L731.4 125.7L731.9 80.8L732.4 55.7L732.9 75.4L733.4 117.5L733.9 130.3L734.4 107.4L734.9 80.3L735.4 77.1L735.9 104.4L736.4 139.9L736.8 160.6L737.3 144.3L737.8 112.9L738.3 100.8L738.8 106.0L739.3 109.8L739.8 102.4L740.3 94.7L740.8 107.0L741.3 133.4L741.8 159.4L742.3 169.1L742.7 121.1L743.2 88.2L743.7 115.0L744.2 155.9L744.7 178.5L745.2 144.9L745.7 100.1L746.2 97.1L746.7 104.3L747.2 110.4L747.7 106.5L748.2 91.2L748.6 79.1L749.1 90.3L749.6 121.6L750.1 141.4L750.6 138.1L751.1 135.6L751.6 130.0L752.1 126.0L752.6 113.2L753.1 87.9L753.6 69.1L754.1 79.4L754.5 115.9L755.0 143.5L755.5 139.1L756.0 122.1L756.5 102.0L757.0 87.7L757.5 94.1L758.0 139.5L758.5 198.3L759.0 238.4L759.5 229.5L760.0 183.5L760.4 134.9L760.9 117.1L761.4 139.9L761.9 161.7L762.4 151.9L762.9 126.3L763.4 99.9L763.9 87.4L764.4 136.5L764.9 157.0L765.4 146.8L765.9 136.0L766.3 143.3L766.8 182.3L767.3 189.2L767.8 158.8L768.3 121.3L768.8 103.2L769.3 131.6L769.8 176.7L770.3 195.3L770.8 160.1L771.3 108.8L771.8 86.5L772.2 114.2L772.7 148.5L773.2 144.6L773.7 112.2L774.2 110.6L774.7 141.5L775.2 164.2L775.7 137.8L776.2 85.1L776.7 51.5L777.2 90.6L777.7 145.5L778.1 135.0L778.6 143.2L779.1 163.6L779.6 145.1L780.1 113.3L780.6 93.3L781.1 109.2L781.6 139.3L782.1 146.9L782.6 130.0L783.1 107.7L783.6 95.2L784.0 104.0L784.5 122.4L785.0 139.6L785.5 144.2L786.0 126.8L786.5 102.4L787.0 89.1L787.5 89.0L788.0 88.9L788.5 88.8L789.0 88.2L789.5 85.1L789.9 82.3L790.4 91.8L790.9 122.3L791.4 162.0L791.9 195.9L792.4 210.8L792.9 193.4L793.4 159.1L793.9 119.0L794.4 86.4L794.9 72.3L795.4 91.1L795.8 125.9L796.3 159.0L796.8 172.0L797.3 140.8L797.8 107.1L798.3 134.4L798.8 203.0L799.3 236.0L799.8 207.3L800.3 155.0L800.8 100.7L801.3 67.0L801.7 80.0L802.2 128.8L802.7 169.3L803.2 168.6L803.7 150.5L804.2 139.0L804.7 148.0L805.2 162.0L805.7 159.3L806.2 124.1L806.7 93.2L807.2 123.1L807.6 182.0L808.1 169.4L808.6 128.0L809.1 99.9L809.6 112.2L810.1 139.5L810.6 155.9L811.1 115.2L811.6 74.1L812.1 94.6L812.6 129.6L813.1 148.2L813.5 144.7L814.0 145.4L814.5 147.3L815.0 111.1L815.5 57.8L816.0 35.2L816.5 84.4L817.0 162.7L817.5 212.0L818.0 187.3L818.5 129.2L819.0 89.5L819.4 106.4L819.9 147.4L820.4 173.0L820.9 154.6L821.4 126.6L821.9 123.5L822.4 127.3L822.9 131.9L823.4 134.9L823.9 139.0L824.4 149.9L824.9 158.3L825.3 144.1L825.8 113.1L826.3 113.2L826.8 151.3L827.3 170.7L827.8 138.3L828.3 104.9L828.8 117.4L829.3 154.3L829.8 193.2L830.3 213.2L830.8 205.4L831.2 188.8L831.7 167.2L832.2 145.5L832.7 128.6L833.2 120.1L833.7 130.9L834.2 155.0L834.7 186.4L835.2 217.4L835.7 240.4L836.2 247.0L836.7 190.8L837.1 103.5L837.6 49.7L838.1 112.7L838.6 172.1L839.1 160.8L839.6 150.6L840.1 170.6L840.6 196.1L841.1 172.1L841.6 145.8L842.1 145.7L842.6 134.2L843.0 117.1L843.5 103.7L844.0 102.0L844.5 108.8L845.0 116.4L845.5 117.8L846.0 110.5L846.5 101.7L847.0 100.3L847.5 112.2L848.0 127.3L848.5 132.6L848.9 116.4L849.4 96.5L849.9 95.5L850.4 111.0L850.9 128.7L851.4 135.5L851.9 116.0L852.4 85.7L852.9 66.8L853.4 74.5L853.9 89.3L854.4 92.5L854.9 89.4L855.3 86.4L855.8 90.6L856.3 106.1L856.8 126.7L857.3 144.5L857.8 153.0L858.3 143.7L858.8 124.8L859.3 102.5L859.8 83.9L860.3 75.3L860.8 93.1L861.2 127.5L861.7 160.9L862.2 175.4L862.7 145.5L863.2 110.7L863.7 119.7L864.2 149.9L864.7 165.8L865.2 150.0L865.7 120.0L866.2 88.4L866.7 68.2L867.1 73.0L867.6 97.9L868.1 130.3L868.6 157.5L869.1 167.7L869.6 150.2L870.1 119.8L870.6 91.0L871.1 78.6L871.6 101.6L872.1 138.1L872.6 156.3L873.0 104.9L873.5 99.0L874.0 113.0L874.5 120.4L875.0 102.1L875.5 91.6L876.0 100.3L876.5 109.6L877.0 110.0L877.5 127.5L878.0 161.1L878.5 159.9L878.9 149.7L879.4 138.6L879.9 132.6L880.4 153.6L880.9 195.9L881.4 227.9L881.9 223.0L882.4 196.3L882.9 158.5L883.4 119.0L883.9 88.0L884.4 73.1L884.8 116.2L885.3 149.5L885.8 128.7L886.3 102.0L886.8 100.6L887.3 122.7L887.8 131.3L888.3 119.3L888.8 106.3L889.3 106.8L889.8 116.4L890.3 130.7L890.7 146.0L891.2 158.3L891.7 164.7L892.2 141.4L892.7 120.6L893.2 120.9L893.7 121.5L894.2 122.0L894.7 121.6L895.2 100.8L895.7 69.6L896.2 58.8L896.6 87.7L897.1 135.4L897.6 177.4L898.1 188.7L898.6 152.5L899.1 100.2L899.6 68.3L900.1 77.9L900.6 103.4L901.1 139.0L901.6 178.8L902.1 215.8L902.5 243.7L903.0 258.2L903.5 221.3L904.0 147.4L904.5 104.8L905.0 119.8L905.5 146.3L906.0 163.4L906.5 152.9L907.0 125.9L907.5 92.0L908.0 62.3L908.4 46.5L908.9 73.8L909.4 122.2L909.9 128.1L910.4 114.5L910.9 97.7L911.4 86.6L911.9 113.6L912.4 170.5L912.9 168.2L913.4 149.7L913.9 139.8L914.3 149.9L914.8 163.3L915.3 157.4L915.8 120.6L916.3 92.0L916.8 129.2L917.3 184.1L917.8 165.8L918.3 123.9L918.8 98.6L919.3 113.8L919.8 141.1L920.2 154.2L920.7 108.7L921.2 73.3L921.7 82.9L922.2 101.1L922.7 122.4L923.2 140.1L923.7 148.8L924.2 143.5L924.7 132.3L925.2 120.9L925.7 114.6L926.1 125.1L926.6 147.5L927.1 163.6L927.6 160.8L928.1 150.3L928.6 141.7L929.1 146.6L929.6 166.6L930.1 179.8L930.6 149.7L931.1 123.1L931.6 127.7L932.0 128.7L932.5 110.9L933.0 85.9L933.5 72.4L934.0 93.9L934.5 130.7L935.0 148.6L935.5 138.5L936.0 120.0L936.5 101.0L937.0 89.8L937.5 95.1L937.9 111.2L938.4 128.4L938.9 137.5L939.4 133.9L939.9 126.5L940.4 120.3L940.9 124.7L941.4 151.0L941.9 164.0L942.4 147.8L942.9 120.6L943.4 97.2L943.8 98.6L944.3 153.6L944.8 156.6L945.3 145.1L945.8 136.4L946.3 148.2L946.8 166.3L947.3 142.5L947.8 95.4L948.3 62.6L948.8 71.8L949.3 99.7L949.7 122.0L950.2 121.2L950.7 109.4L951.2 93.9L951.7 80.4L952.2 74.3L952.7 105.2L953.2 162.7L953.7 211.8L954.2 217.1L954.7 177.4L955.2 128.6L955.6 105.3L956.1 136.6L956.6 185.9L957.1 206.0L957.6 167.7L958.1 112.4L958.6 88.5L959.1 116.1L959.6 149.9L960.1 145.6L960.6 113.4L961.1 112.0L961.5 142.7L962.0 165.0L962.5 138.3L963.0 85.9L963.5 52.7L964.0 92.0L964.5 146.1L965.0 135.4L965.5 143.8L966.0 163.8L966.5 145.2L967.0 113.4L967.4 93.6L967.9 109.5L968.4 139.4L968.9 146.7L969.4 129.7L969.9 107.3L970.4 94.9L970.9 103.8L971.4 122.0L971.9 139.1L972.4 143.5L972.9 126.0L973.3 101.5L973.8 88.2L974.3 109.8L974.8 152.1L975.3 190.7L975.8 200.3L976.3 172.7L976.8 128.0L977.3 84.8L977.8 61.0L978.3 80.8L978.8 121.5L979.2 133.1L979.7 110.6L980.2 84.5L980.7 81.9L981.2 108.7L981.7 143.0L982.2 162.7L982.7 146.2L983.2 115.8L983.7 104.5L984.2 109.6L984.7 113.1L985.2 105.7L985.6 98.4L986.1 110.7L986.6 136.5L987.1 161.6L987.6 170.4L988.1 123.0L988.6 92.1L989.1 118.6L989.6 158.4L990.1 179.7L990.6 146.2L991.1 103.0L991.5 100.5L992.0 107.5L992.5 113.4L993.0 109.3L993.5 94.2L994.0 82.6L994.5 94.0L995.0 124.6L995.5 143.5L996.0 140.2L996.5 140.3L997.0 143.6L997.4 127.5L997.9 102.0L998.4 89.6L998.9 123.9L999.4 182.2L999.9 221.3L1000.4 197.0L1000.9 132.6L1001.4 85.6L1001.9 98.9L1002.4 139.5L1002.9 167.0L1003.3 150.9L1003.8 122.2L1004.3 122.3L1004.8 143.2L1005.3 161.6L1005.8 155.1L1006.3 125.5L1006.8 89.4L1007.3 64.2L1007.8 66.8L1008.3 91.8L1008.8 126.4L1009.2 158.2L1009.7 175.9L1010.2 170.0L1010.7 152.6L1011.2 133.9L1011.7 123.3L1012.2 130.8L1012.7 146.1L1013.2 151.1L1013.7 133.9L1014.2 113.9L1014.7 111.4L1015.1 117.0L1015.6 124.2L1016.1 129.6L1016.6 120.5L1017.1 78.1L1017.6 70.1L1018.1 80.9L1018.6 96.0L1019.1 109.2L1019.6 115.0L1020.1 118.8L1020.6 124.4L1021.0 126.2L1021.5 115.0L1022.0 101.5L1022.5 100.7L1023.0 109.9L1023.5 123.9L1024.0 139.2L1024.5 152.0L1025.0 158.9L1025.5 138.9L1026.0 115.0L1026.5 115.3L1026.9 115.8L1027.4 116.4L1027.9 116.6L1028.4 97.7L1028.9 66.3L1029.4 52.3L1029.9 81.3L1030.4 132.1L1030.9 177.1L1031.4 187.3L1031.9 149.4L1032.4 141.1L1032.8 136.4L1033.3 121.5L1033.8 104.8L1034.3 95.4L1034.8 98.8L1035.3 106.8L1035.8 112.6L1036.3 109.7L1036.8 100.8L1037.3 93.9L1037.8 98.6L1038.3 113.5L1038.7 126.0L1039.2 122.0L1039.7 101.2L1040.2 86.9L1040.7 122.5L1041.2 196.0L1041.7 255.9L1042.2 246.7L1042.7 168.4L1043.2 86.4L1043.7 62.2L1044.2 75.6L1044.6 87.1L1045.1 85.8L1045.6 82.3L1046.1 80.8L1046.6 90.6L1047.1 109.2L1047.6 129.5L1048.1 144.0L1048.6 144.8L1049.1 130.9L1049.6 109.6L1050.1 88.0L1050.5 73.1L1051.0 74.5L1051.5 101.2L1052.0 137.5L1052.5 164.8L1053.0 161.2L1053.5 121.9L1054.0 102.3L1054.5 104.8L1055.0 108.8L1055.5 112.2L1056.0 111.8L1056.4 104.1L1056.9 95.6L1057.4 95.2L1057.9 107.8L1058.4 122.6L1058.9 126.3L1059.4 109.0L1059.9 89.8L1060.4 90.8L1060.9 106.9L1061.4 124.2L1061.9 129.1L1062.3 108.1L1062.8 77.8L1063.3 60.7L1063.8 96.4L1064.3 167.1L1064.8 225.4L1065.3 225.2L1065.8 175.3L1066.3 118.6L1066.8 95.1L1067.3 106.4L1067.8 125.3L1068.2 141.0L1068.7 141.3L1069.2 121.3L1069.7 97.6L1070.2 90.1L1070.7 124.4L1071.2 180.2L1071.7 225.4L1072.2 228.1L1072.7 189.0L1073.2 132.7L1073.7 82.7L1074.1 60.2L1074.6 97.5L1075.1 151.1L1075.6 157.3L1076.1 112.5L1076.6 64.3L1077.1 62.8L1077.6 124.1L1078.1 145.3L1078.6 132.9L1079.1 157.1L1079.6 157.3L1080.0 129.3L1080.5 100.4L1081.0 97.2L1081.5 124.7L1082.0 147.6L1082.5 139.6L1083.0 118.0L1083.5 98.9L1084.0 101.0L1084.5 134.4L1085.0 162.1L1085.5 139.9L1085.9 81.5L1086.4 35.2L1086.9 51.6L1087.4 115.5L1087.9 148.2L1088.4 134.4L1088.9 111.8L1089.4 96.0L1089.9 100.3L1090.4 117.3L1090.9 135.6L1091.4 144.6L1091.8 130.9L1092.3 106.4L1092.8 89.3L1093.3 104.5L1093.8 150.4L1094.3 199.0L1094.8 221.6L1095.3 196.8L1095.8 149.0L1096.3 97.7L1096.8 64.3L1097.3 72.4L1097.7 112.8L1098.2 135.0L1098.7 116.7L1099.2 89.0L1099.7 80.0L1100.2 125.7L1100.7 184.9L1101.2 195.4L1101.7 153.7L1102.2 108.9L1102.7 103.6L1103.2 126.4L1103.6 151.1L1104.1 156.0L1104.6 138.8L1105.1 111.2L1105.6 82.1L1106.1 61.1L1106.6 60.4L1107.1 99.1L1107.6 126.1L1108.1 117.5L1108.6 101.3L1109.1 86.2L1109.6 82.6L1110.0 114.2L1110.5 156.1L1111.0 169.1L1111.5 153.7L1112.0 137.4L1112.5 139.2L1113.0 153.3L1113.5 161.1L1114.0 135.0L1114.5 97.3L1115.0 97.5L1115.5 161.0L1115.9 175.8L1116.4 139.7L1116.9 102.2L1117.4 100.0L1117.9 124.8L1118.4 147.9L1118.9 132.0L1119.4 77.7L1119.9 73.6L1120.4 88.4L1120.9 109.2L1121.4 129.4L1121.8 142.9L1122.3 143.8L1122.8 134.8L1123.3 122.8L1123.8 113.6L1124.3 118.9L1124.8 160.2L1125.3 216.2L1125.8 256.7L1126.3 244.0L1126.8 169.1L1127.3 99.5L1127.7 96.6L1128.2 132.4L1128.7 155.5L1129.2 131.7L1129.7 105.9L1130.2 146.3L1130.7 218.7L1131.2 231.4L1131.7 159.9L1132.2 77.1L1132.7 60.3L1133.2 120.2L1133.6 146.7L1134.1 132.5L1134.6 155.7L1135.1 158.9L1135.6 131.9L1136.1 102.3L1136.6 96.5L1137.1 122.9L1137.6 147.3L1138.1 141.2L1138.6 120.1L1139.1 100.3L1139.5 97.1L1140.0 111.1L1140.5 130.3L1141.0 143.6L1141.5 138.2L1142.0 115.5L1142.5 93.9L1143.0 96.0L1143.5 140.5L1144.0 194.1L1144.5 216.7L1145.0 206.4L1145.4 187.1L1145.9 163.1L1146.4 139.7L1146.9 122.3L1147.4 115.3L1147.9 126.0L1148.4 146.4L1148.9 171.9L1149.4 196.1L1149.9 213.1L1150.4 212.6L1150.9 156.6L1151.3 81.7L1151.8 44.5L1152.3 123.3L1152.8 166.0L1153.3 153.5L1153.8 145.9L1154.3 170.3L1154.8 191.9L1155.3 160.4L1155.8 139.1L1156.3 125.6L1156.8 105.2L1157.2 90.1L1157.7 86.7L1158.2 83.4L1158.7 80.8L1159.2 86.8L1159.7 103.4L1160.2 124.0L1160.7 140.9L1161.2 146.8L1161.7 135.8L1162.2 116.0L1162.7 93.7L1163.1 76.2L1163.6 70.7L1164.1 91.6L1164.6 127.0L1165.1 158.7L1165.6 167.7L1166.1 133.4L1166.6 102.7L1167.1 117.6L1167.6 147.9L1168.1 158.7L1168.6 140.3L1169.0 109.2L1169.5 78.4L1170.0 60.7L1170.5 69.5L1171.0 96.2L1171.5 128.7L1172.0 154.1L1172.5 160.1L1173.0 140.1L1173.5 108.9L1174.0 81.6L1174.5 73.8L1174.9 100.4L1175.4 136.2L1175.9 146.3L1176.4 92.5L1176.9 94.2L1177.4 108.4L1177.9 112.6L1178.4 92.4L1178.9 85.8L1179.4 95.3L1179.9 103.6L1180.4 103.2L1180.8 140.4L1181.3 209.0L1181.8 222.0L1182.3 159.2L1182.8 115.8L1183.3 129.6L1183.8 152.0L1184.3 161.6L1184.8 141.8L1185.3 106.9L1185.8 73.8L1186.3 59.1L1186.7 75.0L1187.2 105.9L1187.7 140.8L1188.2 167.1L1188.7 173.8L1189.2 161.1L1189.7 141.7L1190.2 125.8L1190.7 122.2L1191.2 129.5L1191.7 138.3L1192.2 141.5L1192.6 137.6L1193.1 139.7L1193.6 140.0L1194.1 120.1L1194.6 95.6L1195.1 90.7L1195.6 124.6L1196.1 170.2L1196.6 193.3L1197.1 162.0L1197.6 109.6L1198.1 80.7L1198.5 105.3L1199.0 146.3L1199.5 165.4L1200.0 142.1L1200.5 116.9L1201.0 124.2L1201.5 146.5L1202.0 161.6L1202.5 148.2L1203.0 115.6L1203.5 80.5L1204.0 59.8L1204.4 69.3L1204.9 97.4L1205.4 132.5L1205.9 162.0L1206.4 175.0L1206.9 165.0L1207.4 146.4L1207.9 128.8L1208.4 121.6L1208.9 132.4L1209.4 147.0L1209.9 147.0L1210.3 127.0L1210.8 109.7L1211.3 108.8L1211.8 110.0L1212.3 111.1L1212.8 110.3L1213.3 101.3L1213.8 97.8L1214.3 114.7L1214.8 141.8L1215.3 164.3L1215.8 161.3L1216.2 107.1L1216.7 94.3L1217.2 127.0L1217.7 164.9L1218.2 173.8L1218.7 131.3L1219.2 96.7L1219.7 124.7L1220.2 162.0L1220.7 145.9L1221.2 99.9L1221.7 63.0L1222.1 66.8L1222.6 93.7L1223.1 118.1L1223.6 120.3L1224.1 109.5L1224.6 94.2L1225.1 80.1L1225.6 72.5L1226.1 93.3L1226.6 141.3L1227.1 186.4L1227.6 198.0L1228.0 168.5L1228.5 127.4L1229.0 103.4L1229.5 111.3L1230.0 185.3L1230.5 324.8L1231.0 407.4L1231.5 440.3L1232.0 466.0L1232.5 499.9L1233.0 523.3L1233.5 558.9L1234.0 554.8L1234.4 569.9L1234.9 562.9L1235.4 579.2L1235.9 574.4L1236.4 589.8L1236.9 581.4L1237.4 604.7L1237.9 591.2L1238.4 610.9L1238.9 603.5"/>
<path stroke="#000" d="M224.0 53.7L224.5 72.0L225.0 119.5L225.5 182.4L226.0 192.4L226.5 143.1L227.0 81.5L227.4 53.0L227.9 81.3L228.4 123.7L228.9 131.4L229.4 94.6L229.9 81.4L230.4 110.0L230.9 136.2L231.4 113.1L231.9 54.9L232.4 10.6L232.9 38.1L233.3 112.2L233.8 157.0L234.3 145.3L234.8 109.7L235.3 114.4L235.8 145.9L236.3 172.6L236.8 168.4L237.3 131.4L237.8 68.3L238.3 35.4L238.8 47.1L239.2 84.3L239.7 137.0L240.2 181.2L240.7 191.4L241.2 166.6L241.7 139.6L242.2 115.7L242.7 95.7L243.2 123.2L243.7 163.5L244.2 154.1L244.7 115.6L245.1 100.2L245.6 93.0L246.1 73.4L246.6 43.5L247.1 26.2L247.6 53.4L248.1 109.2L248.6 149.3L249.1 136.7L249.6 96.6L250.1 66.5L250.6 49.1L251.0 47.5L251.5 63.7L252.0 86.5L252.5 95.1L253.0 89.3L253.5 87.8L254.0 90.5L254.5 98.9L255.0 134.5L255.5 159.3L256.0 143.5L256.5 120.9L256.9 96.8L257.4 75.2L257.9 125.6L258.4 139.1L258.9 131.0L259.4 112.6L259.9 108.3L260.4 116.7L260.9 123.5L261.4 125.8L261.9 118.6L262.4 104.7L262.8 91.7L263.3 63.9L263.8 26.4L264.3 30.8L264.8 67.7L265.3 122.6L265.8 149.5L266.3 118.9L266.8 89.9L267.3 83.9L267.8 93.2L268.3 81.7L268.7 110.5L269.2 141.0L269.7 98.5L270.2 69.1L270.7 77.0L271.2 88.1L271.7 69.8L272.2 42.1L272.7 46.7L273.2 67.5L273.7 79.2L274.2 86.0L274.6 129.6L275.1 146.4L275.6 137.6L276.1 127.9L276.6 141.0L277.1 168.2L277.6 182.7L278.1 197.8L278.6 190.2L279.1 168.2L279.6 136.2L280.1 95.0L280.5 62.1L281.0 51.3L281.5 83.5L282.0 154.9L282.5 218.7L283.0 206.1L283.5 141.6L284.0 109.1L284.5 111.7L285.0 94.3L285.5 76.8L286.0 58.7L286.4 47.1L286.9 54.5L287.4 95.9L287.9 140.8L288.4 131.7L288.9 111.5L289.4 112.6L289.9 113.3L290.4 90.4L290.9 65.8L291.4 77.3L291.9 129.4L292.3 182.9L292.8 196.1L293.3 143.5L293.8 80.2L294.3 60.2L294.8 89.1L295.3 121.4L295.8 124.1L296.3 102.2L296.8 105.1L297.3 129.3L297.8 139.5L298.2 140.6L298.7 109.9L299.2 65.2L299.7 24.7L300.2 20.8L300.7 44.2L301.2 98.9L301.7 136.1L302.2 162.0L302.7 170.7L303.2 163.2L303.7 147.6L304.1 130.8L304.6 115.6L305.1 92.3L305.6 78.5L306.1 84.7L306.6 105.5L307.1 124.1L307.6 117.6L308.1 127.2L308.6 121.1L309.1 112.8L309.6 149.3L310.0 165.8L310.5 157.1L311.0 145.0L311.5 138.4L312.0 146.9L312.5 196.5L313.0 254.3L313.5 276.0L314.0 257.8L314.5 220.0L315.0 176.4L315.5 137.9L315.9 87.9L316.4 84.9L316.9 138.6L317.4 136.6L317.9 113.6L318.4 110.9L318.9 132.5L319.4 151.8L319.9 170.8L320.4 161.4L320.9 127.4L321.4 129.1L321.8 164.3L322.3 190.5L322.8 192.2L323.3 181.9L323.8 122.4L324.3 62.1L324.8 46.6L325.3 84.6L325.8 145.6L326.3 208.9L326.8 259.8L327.3 266.5L327.7 225.9L328.2 177.7L328.7 147.6L329.2 140.2L329.7 148.3L330.2 162.4L330.7 125.5L331.2 81.7L331.7 128.9L332.2 172.9L332.7 177.3L333.2 159.6L333.6 123.9L334.1 136.6L334.6 159.9L335.1 151.1L335.6 126.2L336.1 110.1L336.6 115.0L337.1 137.7L337.6 162.8L338.1 180.1L338.6 183.4L339.1 158.5L339.5 118.9L340.0 101.4L340.5 124.2L341.0 162.4L341.5 194.9L342.0 201.9L342.5 180.5L343.0 146.0L343.5 100.9L344.0 74.2L344.5 110.5L345.0 171.2L345.4 201.0L345.9 167.6L346.4 111.4L346.9 73.1L347.4 113.2L347.9 164.7L348.4 160.0L348.9 199.4L349.4 239.7L349.9 216.5L350.4 172.5L350.9 149.6L351.4 169.0L351.8 200.1L352.3 193.3L352.8 154.5L353.3 123.1L353.8 122.1L354.3 162.9L354.8 196.3L355.3 182.3L355.8 169.1L356.3 152.3L356.8 150.0L357.3 159.1L357.7 153.4L358.2 171.9L358.7 201.3L359.2 210.6L359.7 172.0L360.2 135.6L360.7 181.9L361.2 248.2L361.7 230.6L362.2 187.5L362.7 151.0L363.2 158.0L363.6 184.0L364.1 199.1L364.6 154.9L365.1 123.3L365.6 123.1L366.1 132.3L366.6 156.1L367.1 184.8L367.6 211.9L368.1 220.1L368.6 203.7L369.1 193.3L369.5 199.2L370.0 217.3L370.5 235.0L371.0 212.5L371.5 165.5L372.0 134.5L372.5 151.7L373.0 194.4L373.5 228.6L374.0 199.1L374.5 162.9L375.0 168.0L375.4 172.8L375.9 190.0L376.4 200.3L376.9 198.3L377.4 190.5L377.9 183.6L378.4 169.6L378.9 157.7L379.4 173.1L379.9 217.1L380.4 255.5L380.9 264.2L381.3 270.9L381.8 262.5L382.3 235.5L382.8 229.3L383.3 236.9L383.8 242.2L384.3 233.7L384.8 232.5L385.3 256.1L385.8 268.4L386.3 231.4L386.8 214.1L387.2 212.5L387.7 204.4L388.2 203.8L388.7 186.2L389.2 179.3L389.7 201.0L390.2 204.2L390.7 186.0L391.2 161.1L391.7 150.7L392.2 171.5L392.7 225.9L393.1 283.9L393.6 322.1L394.1 313.0L394.6 261.7L395.1 200.4L395.6 132.1L396.1 110.6L396.6 133.9L397.1 204.1L397.6 218.7L398.1 189.2L398.6 159.5L399.0 166.3L399.5 210.9L400.0 259.9L400.5 249.2L401.0 205.7L401.5 170.7L402.0 166.4L402.5 173.0L403.0 169.2L403.5 151.1L404.0 147.5L404.5 180.9L404.9 227.5L405.4 253.3L405.9 253.4L406.4 189.7L406.9 164.0L407.4 197.5L407.9 249.8L408.4 257.0L408.9 193.5L409.4 149.4L409.9 161.3L410.4 177.4L410.8 182.2L411.3 178.5L411.8 172.2L412.3 172.0L412.8 189.4L413.3 221.2L413.8 254.1L414.3 262.4L414.8 245.3L415.3 230.3L415.8 237.8L416.3 254.1L416.7 232.0L417.2 181.5L417.7 145.1L418.2 156.3L418.7 235.1L419.2 330.0L419.7 357.2L420.2 317.9L420.7 256.4L421.2 192.3L421.7 147.9L422.2 160.6L422.6 229.0L423.1 309.2L423.6 354.8L424.1 329.3L424.6 272.8L425.1 226.2L425.6 238.3L426.1 296.5L426.6 343.1L427.1 306.8L427.6 222.4L428.1 166.4L428.5 181.7L429.0 222.0L429.5 241.1L430.0 228.7L430.5 240.7L431.0 252.4L431.5 263.9L432.0 253.3L432.5 209.9L433.0 167.2L433.5 160.1L434.0 200.6L434.4 245.5L434.9 229.4L435.4 189.6L435.9 191.7L436.4 200.1L436.9 194.9L437.4 182.6L437.9 196.4L438.4 211.4L438.9 209.7L439.4 210.1L439.9 251.4L440.3 266.5L440.8 247.9L441.3 209.3L441.8 184.8L442.3 193.0L442.8 243.8L443.3 293.5L443.8 297.2L444.3 283.0L444.8 260.5L445.3 230.7L445.8 200.2L446.2 181.2L446.7 204.2L447.2 275.3L447.7 272.5L448.2 217.7L448.7 180.8L449.2 198.0L449.7 235.9L450.2 242.4L450.7 208.6L451.2 193.0L451.7 204.6L452.1 222.1L452.6 237.2L453.1 257.8L453.6 271.6L454.1 257.6L454.6 222.3L455.1 239.8L455.6 268.6L456.1 286.8L456.6 279.7L457.1 226.7L457.6 178.8L458.0 160.0L458.5 205.8L459.0 281.9L459.5 269.9L460.0 246.3L460.5 229.5L461.0 252.0L461.5 278.9L462.0 254.8L462.5 189.7L463.0 159.2L463.5 186.1L463.9 220.7L464.4 225.6L464.9 209.2L465.4 196.1L465.9 189.6L466.4 176.5L466.9 163.4L467.4 210.6L467.9 286.2L468.4 335.7L468.9 320.9L469.4 266.0L469.8 215.9L470.3 219.1L470.8 250.3L471.3 248.8L471.8 245.3L472.3 253.7L472.8 245.5L473.3 194.2L473.8 171.1L474.3 203.2L474.8 266.0L475.3 305.9L475.8 289.8L476.2 247.5L476.7 215.4L477.2 212.5L477.7 250.9L478.2 293.6L478.7 293.0L479.2 243.7L479.7 199.2L480.2 203.4L480.7 243.6L481.2 267.9L481.7 235.4L482.1 193.5L482.6 200.5L483.1 236.7L483.6 261.0L484.1 240.4L484.6 173.0L485.1 131.7L485.6 190.9L486.1 244.4L486.6 225.1L487.1 248.5L487.6 281.4L488.0 274.5L488.5 232.0L489.0 209.2L489.5 227.0L490.0 249.4L490.5 248.3L491.0 230.5L491.5 202.6L492.0 191.8L492.5 230.4L493.0 226.6L493.5 179.2L493.9 142.8L494.4 138.2L494.9 160.0L495.4 193.1L495.9 225.9L496.4 221.8L496.9 182.6L497.4 163.1L497.9 173.1L498.4 182.0L498.9 177.5L499.4 175.1L499.8 195.3L500.3 234.7L500.8 250.2L501.3 247.4L501.8 199.4L502.3 167.3L502.8 191.4L503.3 228.9L503.8 264.6L504.3 248.6L504.8 198.0L505.3 192.8L505.7 229.2L506.2 255.7L506.7 235.0L507.2 205.7L507.7 213.7L508.2 254.3L508.7 284.9L509.2 292.0L509.7 286.8L510.2 284.7L510.7 268.0L511.2 244.6L511.6 237.4L512.1 243.3L512.6 229.2L513.1 225.7L513.6 247.6L514.1 286.9L514.6 329.7L515.1 349.1L515.6 298.5L516.1 205.8L516.6 132.2L517.1 169.4L517.5 235.1L518.0 233.5L518.5 238.6L519.0 262.8L519.5 292.8L520.0 269.4L520.5 230.9L521.0 237.4L521.5 243.5L522.0 233.2L522.5 217.8L523.0 227.3L523.4 231.9L523.9 225.3L524.4 206.1L524.9 164.9L525.4 137.7L525.9 158.9L526.4 215.6L526.9 277.4L527.4 331.8L527.9 326.3L528.4 249.7L528.9 181.8L529.3 161.3L529.8 175.9L530.3 207.2L530.8 242.8L531.3 269.0L531.8 296.0L532.3 330.6L532.8 350.0L533.3 295.2L533.8 232.3L534.3 217.8L534.8 238.5L535.2 270.4L535.7 286.4L536.2 261.2L536.7 219.4L537.2 188.5L537.7 182.3L538.2 198.4L538.7 231.2L539.2 271.6L539.7 285.3L540.2 293.9L540.7 324.2L541.1 304.9L541.6 264.4L542.1 217.1L542.6 203.5L543.1 236.4L543.6 271.6L544.1 267.8L544.6 247.2L545.1 243.3L545.6 256.4L546.1 251.6L546.6 254.4L547.0 268.4L547.5 279.2L548.0 262.6L548.5 213.5L549.0 202.9L549.5 240.1L550.0 297.2L550.5 329.1L551.0 305.4L551.5 266.0L552.0 219.5L552.5 172.2L552.9 170.0L553.4 218.3L553.9 253.5L554.4 241.1L554.9 228.5L555.4 227.7L555.9 232.4L556.4 230.0L556.9 228.5L557.4 218.2L557.9 206.0L558.4 217.5L558.8 251.6L559.3 268.0L559.8 272.0L560.3 258.5L560.8 236.1L561.3 224.5L561.8 211.6L562.3 205.3L562.8 194.2L563.3 181.1L563.8 182.6L564.3 205.2L564.7 257.1L565.2 283.9L565.7 277.6L566.2 235.8L566.7 197.0L567.2 177.1L567.7 181.4L568.2 206.9L568.7 231.3L569.2 247.2L569.7 244.6L570.2 221.8L570.6 204.2L571.1 199.9L571.6 237.5L572.1 295.2L572.6 330.3L573.1 310.8L573.6 263.2L574.1 216.7L574.6 217.7L575.1 290.0L575.6 378.4L576.1 400.0L576.5 316.5L577.0 237.8L577.5 236.8L578.0 261.1L578.5 286.2L579.0 304.5L579.5 269.1L580.0 198.1L580.5 153.4L581.0 174.0L581.5 231.7L582.0 249.5L582.4 224.3L582.9 212.6L583.4 243.2L583.9 288.5L584.4 298.2L584.9 250.6L585.4 184.4L585.9 193.8L586.4 257.8L586.9 259.0L587.4 259.2L587.9 292.2L588.3 306.3L588.8 285.2L589.3 264.6L589.8 281.8L590.3 317.2L590.8 318.2L591.3 299.3L591.8 274.3L592.3 257.7L592.8 245.9L593.3 240.2L593.8 250.1L594.2 269.7L594.7 271.6L595.2 252.0L595.7 227.1L596.2 214.1L596.7 223.5L597.2 259.3L597.7 289.6L598.2 286.2L598.7 253.6L599.2 223.3L599.7 225.2L600.1 252.9L600.6 275.8L601.1 284.8L601.6 262.9L602.1 210.9L602.6 171.6L603.1 174.1L603.6 199.3L604.1 220.1L604.6 208.0L605.1 187.4L605.6 189.2L606.1 218.6L606.5 249.0L607.0 256.3L607.5 263.5L608.0 271.6L608.5 267.6L609.0 224.0L609.5 193.0L610.0 185.6L610.5 204.6L611.0 227.2L611.5 231.7L612.0 224.6L612.4 257.9L612.9 311.1L613.4 318.9L613.9 299.3L614.4 275.2L614.9 260.0L615.4 282.4L615.9 323.8L616.4 343.3L616.9 333.4L617.4 323.3L617.9 303.8L618.3 258.3L618.8 230.2L619.3 229.3L619.8 268.6L620.3 277.7L620.8 254.6L621.3 240.9L621.8 246.2L622.3 268.5L622.8 276.3L623.3 253.0L623.8 229.9L624.2 233.7L624.7 257.3L625.2 281.5L625.7 291.1L626.2 298.7L626.7 302.8L627.2 269.5L627.7 257.4L628.2 268.0L628.7 273.0L629.2 278.6L629.7 283.3L630.1 248.6L630.6 203.5L631.1 199.7L631.6 269.5L632.1 327.8L632.6 307.8L633.1 274.9L633.6 269.9L634.1 264.7L634.6 256.0L635.1 245.2L635.6 239.9L636.0 257.6L636.5 290.2L637.0 323.5L637.5 334.0L638.0 277.6L638.5 243.4L639.0 281.7L639.5 318.4L640.0 324.7L640.5 284.3L641.0 248.8L641.5 267.8L641.9 280.0L642.4 286.6L642.9 292.5L643.4 273.2L643.9 255.7L644.4 267.7L644.9 292.7L645.4 303.0L645.9 295.3L646.4 298.8L646.9 314.7L647.4 314.5L647.8 295.2L648.3 286.8L648.8 265.7L649.3 259.0L649.8 266.0L650.3 271.3L650.8 275.4L651.3 278.5L651.8 292.7L652.3 307.4L652.8 321.0L653.3 333.3L653.7 338.1L654.2 324.8L654.7 294.1L655.2 313.1L655.7 347.0L656.2 388.0L656.7 429.7L657.2 436.5L657.7 356.9L658.2 256.8L658.7 263.6L659.2 302.2L659.6 330.8L660.1 328.9L660.6 311.6L661.1 294.0L661.6 291.8L662.1 324.9L662.6 335.4L663.1 309.2L663.6 278.7L664.1 251.9L664.6 246.2L665.1 266.5L665.5 297.2L666.0 306.8L666.5 290.9L667.0 267.8L667.5 254.9L668.0 269.5L668.5 310.0L669.0 353.2L669.5 379.4L670.0 367.7L670.5 329.7L671.0 281.0L671.4 242.6L671.9 241.7L672.4 293.5L672.9 336.9L673.4 320.8L673.9 294.6L674.4 276.5L674.9 271.8L675.4 293.1L675.9 325.9L676.4 340.5L676.9 318.6L677.3 293.1L677.8 292.7L678.3 299.6L678.8 302.9L679.3 294.8L679.8 276.6L680.3 274.1L680.8 289.2L681.3 316.3L681.8 365.3L682.3 394.3L682.8 355.5L683.2 294.9L683.7 271.0L684.2 298.6L684.7 340.1L685.2 355.8L685.7 320.8L686.2 287.5L686.7 292.0L687.2 306.2L687.7 312.6L688.2 299.4L688.7 292.2L689.1 289.6L689.6 291.7L690.1 316.8L690.6 338.0L691.1 321.4L691.6 287.3L692.1 281.0L692.6 307.2L693.1 311.6L693.6 282.6L694.1 258.6L694.6 265.4L695.0 300.8L695.5 337.8L696.0 349.4L696.5 303.5L697.0 263.7L697.5 299.9L698.0 363.0L698.5 366.6L699.0 316.0L699.5 266.7L700.0 281.9L700.5 331.8L700.9 330.4L701.4 289.3L701.9 252.5L702.4 237.5L702.9 255.6L703.4 291.9L703.9 319.0L704.4 340.4L704.9 359.2L705.4 342.0L705.9 309.1L706.4 272.0L706.8 256.2L707.3 317.4L707.8 421.0L708.3 426.8L708.8 295.0L709.3 262.7L709.8 288.1L710.3 301.5L710.8 292.7L711.3 317.3L711.8 341.6L712.3 334.0L712.7 330.8L713.2 338.7L713.7 325.7L714.2 325.7L714.7 353.7L715.2 384.0L715.7 394.5L716.2 381.1L716.7 342.9L717.2 310.6L717.7 293.3L718.2 284.1L718.6 325.8L719.1 339.6L719.6 307.0L720.1 271.5L720.6 279.2L721.1 324.5L721.6 353.0L722.1 314.5L722.6 292.0L723.1 314.9L723.6 370.8L724.1 370.9L724.5 297.0L725.0 287.7L725.5 295.2L726.0 296.2L726.5 282.8L727.0 289.0L727.5 278.9L728.0 267.6L728.5 268.9L729.0 302.8L729.5 342.6L730.0 375.6L730.5 394.7L730.9 372.7L731.4 327.2L731.9 280.8L732.4 247.8L732.9 264.2L733.4 302.1L733.9 309.4L734.4 283.7L734.9 258.6L735.4 261.6L735.9 302.2L736.4 348.4L736.8 366.3L737.3 347.4L737.8 313.3L738.3 298.2L738.8 297.6L739.3 294.3L739.8 285.8L740.3 286.2L740.8 305.9L741.3 334.2L741.8 362.7L742.3 378.9L742.7 340.7L743.2 316.7L743.7 339.3L744.2 375.4L744.7 401.2L745.2 367.7L745.7 311.1L746.2 299.1L746.7 309.1L747.2 329.5L747.7 339.4L748.2 324.7L748.6 295.5L749.1 294.2L749.6 330.4L750.1 369.5L750.6 362.5L751.1 341.9L751.6 323.6L752.1 310.3L752.6 298.3L753.1 287.3L753.6 281.9L754.1 287.5L754.5 320.6L755.0 347.5L755.5 336.3L756.0 314.0L756.5 296.0L757.0 290.9L757.5 307.4L758.0 349.6L758.5 403.7L759.0 439.8L759.5 418.5L760.0 363.2L760.4 310.0L760.9 288.4L761.4 311.4L761.9 342.7L762.4 352.5L762.9 336.2L763.4 298.0L763.9 278.1L764.4 331.8L764.9 364.3L765.4 370.8L765.9 371.5L766.3 362.8L766.8 375.7L767.3 369.6L767.8 345.4L768.3 338.2L768.8 341.1L769.3 337.2L769.8 369.4L770.3 389.3L770.8 364.5L771.3 321.0L771.8 299.5L772.2 334.2L772.7 389.4L773.2 390.8L773.7 337.8L774.2 325.6L774.7 355.5L775.2 387.9L775.7 371.4L776.2 304.7L776.7 260.4L777.2 306.0L777.7 379.4L778.1 363.9L778.6 358.6L779.1 381.9L779.6 379.0L780.1 344.3L780.6 308.4L781.1 321.7L781.6 358.1L782.1 364.0L782.6 339.6L783.1 315.4L783.6 304.9L784.0 318.7L784.5 350.2L785.0 390.5L785.5 412.4L786.0 383.0L786.5 344.2L787.0 331.7L787.5 341.1L788.0 327.8L788.5 299.9L789.0 283.5L789.5 280.0L789.9 287.7L790.4 305.8L790.9 339.6L791.4 387.6L791.9 434.2L792.4 453.4L792.9 431.1L793.4 396.3L793.9 361.9L794.4 330.4L794.9 317.7L795.4 330.6L795.8 351.3L796.3 381.1L796.8 405.8L797.3 395.0L797.8 358.7L798.3 371.7L798.8 430.3L799.3 455.3L799.8 416.4L800.3 357.9L800.8 307.6L801.3 290.7L801.7 320.9L802.2 357.7L802.7 392.3L803.2 393.2L803.7 373.4L804.2 364.5L804.7 387.9L805.2 412.2L805.7 408.5L806.2 369.4L806.7 326.9L807.2 337.7L807.6 380.7L808.1 364.8L808.6 329.9L809.1 306.8L809.6 321.6L810.1 359.1L810.6 378.2L811.1 331.3L811.6 293.1L812.1 314.2L812.6 330.3L813.1 336.3L813.5 337.5L814.0 363.4L814.5 394.8L815.0 336.0L815.5 271.6L816.0 256.5L816.5 328.5L817.0 419.6L817.5 460.1L818.0 431.0L818.5 366.1L819.0 318.6L819.4 323.3L819.9 353.2L820.4 378.4L820.9 373.5L821.4 365.9L821.9 365.5L822.4 363.9L822.9 355.4L823.4 347.7L823.9 352.9L824.4 377.4L824.9 394.3L825.3 375.4L825.8 328.2L826.3 311.7L826.8 348.1L827.3 378.2L827.8 347.5L828.3 307.7L828.8 323.9L829.3 370.8L829.8 421.9L830.3 457.0L830.8 451.9L831.2 425.1L831.7 400.0L832.2 376.2L832.7 352.1L833.2 339.6L833.7 354.9L834.2 388.4L834.7 426.1L835.2 456.5L835.7 477.3L836.2 490.8L836.7 452.9L837.1 374.5L837.6 294.9L838.1 336.7L838.6 385.9L839.1 375.1L839.6 371.7L840.1 394.8L840.6 422.2L841.1 410.5L841.6 391.5L842.1 375.8L842.6 352.8L843.0 323.9L843.5 303.0L844.0 305.7L844.5 325.8L845.0 341.9L845.5 350.4L846.0 358.5L846.5 348.6L847.0 333.0L847.5 338.7L848.0 358.1L848.5 375.2L848.9 371.8L849.4 357.0L849.9 355.5L850.4 367.4L850.9 378.5L851.4 387.7L851.9 351.0L852.4 300.8L852.9 279.8L853.4 301.9L853.9 332.4L854.4 343.3L854.9 354.3L855.3 353.2L855.8 352.2L856.3 357.8L856.8 370.6L857.3 380.9L857.8 382.4L858.3 373.3L858.8 367.2L859.3 357.7L859.8 334.9L860.3 320.7L860.8 334.5L861.2 369.4L861.7 405.1L862.2 411.9L862.7 374.2L863.2 344.4L863.7 368.4L864.2 408.4L864.7 407.8L865.2 375.5L865.7 340.0L866.2 312.3L866.7 301.1L867.1 317.4L867.6 347.1L868.1 366.2L868.6 383.6L869.1 395.1L869.6 384.7L870.1 355.9L870.6 327.0L871.1 315.3L871.6 338.1L872.1 380.6L872.6 416.9L873.0 379.1L873.5 339.3L874.0 330.7L874.5 336.1L875.0 324.1L875.5 310.9L876.0 320.2L876.5 344.7L877.0 352.7L877.5 359.6L878.0 394.6L878.5 410.8L878.9 422.5L879.4 409.2L879.9 390.9L880.4 406.8L880.9 455.9L881.4 506.7L881.9 491.6L882.4 445.3L882.9 406.3L883.4 378.5L883.9 340.1L884.4 311.2L884.8 357.1L885.3 399.2L885.8 371.0L886.3 339.1L886.8 348.6L887.3 390.3L887.8 400.8L888.3 382.7L888.8 355.8L889.3 344.0L889.8 352.3L890.3 373.4L890.7 394.1L891.2 411.5L891.7 430.2L892.2 403.2L892.7 371.2L893.2 369.8L893.7 360.4L894.2 344.2L894.7 341.0L895.2 336.7L895.7 338.3L896.2 338.2L896.6 351.9L897.1 376.9L897.6 402.3L898.1 408.5L898.6 377.2L899.1 336.9L899.6 316.8L900.1 326.1L900.6 342.9L901.1 372.1L901.6 409.3L902.1 448.3L902.5 479.2L903.0 495.1L903.5 465.2L904.0 398.7L904.5 351.3L905.0 363.9L905.5 394.0L906.0 402.5L906.5 384.3L907.0 357.0L907.5 317.6L908.0 283.6L908.4 277.6L908.9 322.3L909.4 355.8L909.9 348.4L910.4 339.3L910.9 335.1L911.4 326.2L911.9 356.1L912.4 424.7L912.9 419.8L913.4 395.9L913.9 388.4L914.3 395.4L914.8 403.6L915.3 401.1L915.8 366.3L916.3 333.1L916.8 376.1L917.3 449.8L917.8 424.8L918.3 368.9L918.8 348.0L919.3 375.0L919.8 401.0L920.2 408.7L920.7 356.0L921.2 315.1L921.7 325.0L922.2 345.2L922.7 370.6L923.2 400.4L923.7 408.4L924.2 385.2L924.7 365.5L925.2 354.6L925.7 352.9L926.1 370.7L926.6 400.2L927.1 414.8L927.6 410.5L928.1 403.5L928.6 394.1L929.1 395.7L929.6 421.0L930.1 446.9L930.6 432.6L931.1 411.6L931.6 398.4L932.0 390.4L932.5 373.9L933.0 341.7L933.5 316.3L934.0 335.8L934.5 377.1L935.0 400.2L935.5 400.4L936.0 401.8L936.5 366.8L937.0 330.1L937.5 330.3L937.9 356.2L938.4 383.9L938.9 396.3L939.4 389.1L939.9 368.9L940.4 358.6L940.9 375.5L941.4 422.9L941.9 441.6L942.4 405.2L942.9 358.7L943.4 330.6L943.8 343.7L944.3 399.9L944.8 388.4L945.3 378.4L945.8 393.4L946.3 420.0L946.8 421.0L947.3 397.6L947.8 362.8L948.3 318.0L948.8 309.8L949.3 337.6L949.7 369.5L950.2 363.4L950.7 343.5L951.2 336.6L951.7 344.3L952.2 345.9L952.7 379.8L953.2 461.1L953.7 517.6L954.2 502.3L954.7 457.1L955.2 409.9L955.6 387.5L956.1 416.3L956.6 463.3L957.1 485.1L957.6 452.6L958.1 394.3L958.6 360.0L959.1 386.2L959.6 429.8L960.1 420.4L960.6 373.7L961.1 367.9L961.5 398.6L962.0 419.1L962.5 392.8L963.0 345.4L963.5 322.0L964.0 368.2L964.5 415.0L965.0 401.8L965.5 405.0L966.0 414.2L966.5 386.4L967.0 350.6L967.4 336.2L967.9 372.3L968.4 428.8L968.9 434.4L969.4 398.0L969.9 347.4L970.4 322.7L970.9 337.8L971.4 378.9L971.9 419.1L972.4 423.5L972.9 401.9L973.3 379.5L973.8 375.3L974.3 385.0L974.8 408.2L975.3 441.8L975.8 459.4L976.3 445.1L976.8 395.7L977.3 337.5L977.8 310.0L978.3 343.2L978.8 419.8L979.2 455.7L979.7 406.9L980.2 361.3L980.7 349.0L981.2 378.8L981.7 430.5L982.2 465.8L982.7 437.4L983.2 386.0L983.7 358.0L984.2 356.7L984.7 365.8L985.2 371.0L985.6 369.6L986.1 384.5L986.6 425.1L987.1 475.8L987.6 468.3L988.1 405.1L988.6 371.4L989.1 398.9L989.6 430.3L990.1 439.1L990.6 398.9L991.1 357.6L991.5 350.8L992.0 347.7L992.5 355.6L993.0 365.9L993.5 353.8L994.0 335.7L994.5 353.2L995.0 396.8L995.5 426.8L996.0 432.7L996.5 438.2L997.0 434.4L997.4 411.9L997.9 392.7L998.4 404.2L998.9 444.2L999.4 472.4L999.9 482.5L1000.4 434.9L1000.9 361.7L1001.4 322.3L1001.9 356.2L1002.4 413.4L1002.9 447.1L1003.3 430.9L1003.8 393.5L1004.3 396.4L1004.8 434.4L1005.3 459.2L1005.8 444.5L1006.3 415.3L1006.8 386.0L1007.3 355.6L1007.8 335.2L1008.3 344.1L1008.8 375.7L1009.2 416.9L1009.7 451.8L1010.2 448.1L1010.7 420.2L1011.2 403.4L1011.7 400.7L1012.2 401.8L1012.7 407.8L1013.2 408.8L1013.7 392.8L1014.2 384.5L1014.7 410.7L1015.1 415.7L1015.6 396.3L1016.1 392.2L1016.6 389.4L1017.1 362.0L1017.6 357.1L1018.1 360.0L1018.6 372.1L1019.1 371.6L1019.6 360.9L1020.1 362.9L1020.6 382.1L1021.0 398.0L1021.5 382.0L1022.0 364.6L1022.5 370.2L1023.0 396.7L1023.5 420.0L1024.0 423.0L1024.5 430.9L1025.0 444.5L1025.5 423.1L1026.0 388.5L1026.5 390.3L1026.9 402.0L1027.4 402.2L1027.9 392.3L1028.4 368.9L1028.9 339.1L1029.4 333.3L1029.9 373.2L1030.4 432.8L1030.9 477.6L1031.4 475.6L1031.9 431.5L1032.4 431.2L1032.8 434.5L1033.3 408.5L1033.8 381.2L1034.3 369.1L1034.8 376.4L1035.3 394.2L1035.8 411.5L1036.3 407.6L1036.8 389.5L1037.3 375.5L1037.8 372.7L1038.3 376.7L1038.7 381.5L1039.2 377.5L1039.7 365.6L1040.2 368.1L1040.7 422.7L1041.2 503.8L1041.7 559.8L1042.2 530.8L1042.7 439.4L1043.2 361.4L1043.7 359.8L1044.2 394.3L1044.6 379.3L1045.1 359.1L1045.6 351.3L1046.1 356.5L1046.6 376.3L1047.1 404.9L1047.6 430.9L1048.1 442.7L1048.6 448.2L1049.1 447.9L1049.6 398.4L1050.1 352.2L1050.5 333.5L1051.0 342.9L1051.5 370.4L1052.0 401.6L1052.5 431.0L1053.0 434.4L1053.5 406.8L1054.0 396.8L1054.5 394.4L1055.0 394.9L1055.5 404.7L1056.0 404.2L1056.4 384.0L1056.9 372.4L1057.4 379.4L1057.9 399.2L1058.4 418.6L1058.9 435.6L1059.4 400.8L1059.9 360.7L1060.4 355.2L1060.9 373.6L1061.4 397.7L1061.9 409.0L1062.3 388.1L1062.8 345.9L1063.3 320.7L1063.8 362.1L1064.3 448.3L1064.8 499.4L1065.3 488.6L1065.8 443.9L1066.3 401.8L1066.8 394.8L1067.3 423.2L1067.8 445.4L1068.2 447.0L1068.7 436.2L1069.2 414.4L1069.7 390.5L1070.2 375.6L1070.7 399.1L1071.2 450.9L1071.7 502.2L1072.2 520.6L1072.7 497.4L1073.2 440.2L1073.7 384.4L1074.1 349.8L1074.6 376.6L1075.1 429.5L1075.6 443.9L1076.1 406.7L1076.6 362.7L1077.1 367.3L1077.6 426.7L1078.1 445.8L1078.6 419.6L1079.1 428.0L1079.6 427.9L1080.0 418.9L1080.5 402.8L1081.0 377.3L1081.5 394.8L1082.0 416.8L1082.5 409.0L1083.0 392.5L1083.5 393.1L1084.0 413.5L1084.5 434.7L1085.0 456.8L1085.5 438.7L1085.9 390.8L1086.4 353.3L1086.9 367.1L1087.4 427.8L1087.9 445.3L1088.4 411.1L1088.9 379.5L1089.4 366.5L1089.9 379.8L1090.4 400.4L1090.9 410.9L1091.4 414.3L1091.8 406.9L1092.3 397.2L1092.8 390.7L1093.3 400.3L1093.8 438.8L1094.3 483.3L1094.8 505.8L1095.3 485.9L1095.8 444.3L1096.3 393.7L1096.8 360.2L1097.3 363.6L1097.7 394.5L1098.2 417.6L1098.7 412.3L1099.2 396.9L1099.7 396.3L1100.2 455.2L1100.7 513.7L1101.2 517.3L1101.7 477.6L1102.2 442.1L1102.7 433.4L1103.2 442.9L1103.6 458.5L1104.1 461.9L1104.6 452.9L1105.1 444.9L1105.6 433.2L1106.1 388.2L1106.6 357.8L1107.1 374.8L1107.6 394.4L1108.1 393.0L1108.6 394.7L1109.1 398.3L1109.6 410.8L1110.0 444.5L1110.5 465.8L1111.0 459.6L1111.5 428.6L1112.0 407.8L1112.5 421.1L1113.0 466.0L1113.5 507.3L1114.0 485.1L1114.5 455.0L1115.0 447.9L1115.5 501.1L1115.9 506.9L1116.4 459.0L1116.9 414.4L1117.4 406.1L1117.9 426.6L1118.4 455.6L1118.9 455.3L1119.4 405.9L1119.9 394.0L1120.4 389.6L1120.9 394.6L1121.4 415.2L1121.8 440.7L1122.3 449.4L1122.8 438.8L1123.3 421.4L1123.8 394.0L1124.3 388.5L1124.8 435.8L1125.3 514.1L1125.8 561.1L1126.3 534.8L1126.8 462.5L1127.3 406.0L1127.7 409.7L1128.2 440.5L1128.7 457.6L1129.2 431.8L1129.7 407.6L1130.2 447.9L1130.7 517.6L1131.2 529.5L1131.7 462.1L1132.2 389.7L1132.7 385.7L1133.2 455.3L1133.6 496.5L1134.1 463.3L1134.6 466.3L1135.1 469.2L1135.6 452.9L1136.1 420.4L1136.6 410.8L1137.1 449.6L1137.6 495.4L1138.1 494.4L1138.6 440.1L1139.1 397.0L1139.5 390.3L1140.0 413.4L1140.5 436.8L1141.0 449.0L1141.5 442.2L1142.0 407.9L1142.5 378.1L1143.0 382.7L1143.5 434.9L1144.0 498.0L1144.5 537.1L1145.0 541.7L1145.4 509.9L1145.9 466.3L1146.4 430.6L1146.9 411.7L1147.4 410.4L1147.9 425.1L1148.4 445.6L1148.9 473.0L1149.4 505.7L1149.9 539.1L1150.4 555.7L1150.9 485.1L1151.3 394.2L1151.8 355.6L1152.3 437.1L1152.8 478.1L1153.3 467.2L1153.8 466.3L1154.3 489.7L1154.8 495.2L1155.3 451.4L1155.8 431.3L1156.3 432.4L1156.8 429.1L1157.2 415.3L1157.7 407.5L1158.2 405.6L1158.7 410.5L1159.2 418.0L1159.7 414.1L1160.2 419.4L1160.7 437.6L1161.2 464.9L1161.7 481.0L1162.2 449.6L1162.7 410.9L1163.1 385.4L1163.6 381.9L1164.1 406.2L1164.6 439.4L1165.1 457.9L1165.6 456.9L1166.1 422.7L1166.6 400.5L1167.1 423.5L1167.6 455.5L1168.1 466.7L1168.6 448.1L1169.0 419.4L1169.5 392.2L1170.0 381.0L1170.5 394.0L1171.0 423.9L1171.5 463.4L1172.0 493.1L1172.5 495.8L1173.0 467.6L1173.5 432.6L1174.0 408.7L1174.5 410.9L1174.9 436.0L1175.4 458.4L1175.9 465.7L1176.4 417.9L1176.9 420.4L1177.4 434.9L1177.9 445.0L1178.4 424.5L1178.9 406.7L1179.4 407.6L1179.9 417.4L1180.4 429.2L1180.8 478.5L1181.3 553.0L1181.8 563.5L1182.3 472.7L1182.8 414.2L1183.3 432.0L1183.8 475.2L1184.3 504.7L1184.8 472.0L1185.3 424.3L1185.8 393.5L1186.3 388.8L1186.7 391.5L1187.2 405.4L1187.7 434.7L1188.2 465.9L1188.7 489.4L1189.2 505.9L1189.7 484.2L1190.2 448.6L1190.7 437.3L1191.2 443.2L1191.7 454.5L1192.2 461.6L1192.6 454.9L1193.1 453.2L1193.6 454.4L1194.1 437.2L1194.6 420.6L1195.1 432.5L1195.6 476.6L1196.1 502.1L1196.6 507.8L1197.1 473.3L1197.6 433.2L1198.1 408.6L1198.5 421.7L1199.0 465.5L1199.5 503.8L1200.0 487.5L1200.5 441.7L1201.0 435.7L1201.5 455.2L1202.0 477.3L1202.5 474.0L1203.0 440.2L1203.5 399.4L1204.0 377.4L1204.4 386.5L1204.9 411.0L1205.4 445.7L1205.9 477.4L1206.4 494.1L1206.9 488.3L1207.4 470.7L1207.9 458.9L1208.4 460.7L1208.9 465.6L1209.4 474.0L1209.9 483.4L1210.3 467.6L1210.8 431.2L1211.3 419.4L1211.8 421.3L1212.3 427.8L1212.8 425.9L1213.3 411.5L1213.8 408.9L1214.3 435.8L1214.8 473.1L1215.3 496.4L1215.8 490.3L1216.2 430.9L1216.7 417.1L1217.2 455.9L1217.7 503.5L1218.2 524.1L1218.7 489.0L1219.2 435.5L1219.7 450.0L1220.2 489.0L1220.7 478.1L1221.2 428.0L1221.7 385.4L1222.1 387.7L1222.6 419.7L1223.1 451.6L1223.6 447.5L1224.1 425.4L1224.6 408.6L1225.1 400.0L1225.6 384.6L1226.1 392.9L1226.6 440.6L1227.1 494.8L1227.6 512.6L1228.0 489.1L1228.5 461.3L1229.0 444.8L1229.5 451.1L1230.0 521.0L1230.5 648.2L1231.0 723.2L1231.5 746.2L1232.0 767.5L1232.5 786.7L1233.0 804.0L1233.5 826.1L1234.0 840.4L1234.4 865.0L1234.9 877.3L1235.4 867.2L1235.9 857.3L1236.4 862.6L1236.9 862.0L1237.4 895.7L1237.9 895.2L1238.4 887.5L1238.9 886.1L1239.4 890.3L1239.9 882.9L1240.3 893.3L1240.8 894.2L1241.3 922.3L1241.8 890.5L1242.3 905.0L1242.8 913.1L1243.3 927.1L1243.8 904.6L1244.3 911.0L1244.8 923.2L1245.3 917.4L1245.8 905.7L1246.2 924.5L1246.7 931.9L1247.2 935.7L1247.7 903.7L1248.2 918.8L1248.7 901.7L1249.2 901.4L1249.7 887.7L1250.2 940.8L1250.7 933.8L1251.2 944.7L1251.7 925.4L1252.1 942.4L1252.6 921.9L1253.1 958.5L1253.6 893.8L1254.1 879.0L1254.6 859.3L1255.1 917.9L1255.6 962.1L1256.1 982.2L1256.6 929.5L1257.1 915.9L1257.6 872.8L1258.0 943.4L1258.5 1019.1L1259.0 1027.7L1259.5 947.1L1260.0 986.9L1260.5 985.2L1261.0 965.0L1261.5 939.8L1262.0 946.0L1262.5 918.9L1263.0 961.1L1263.5 1038.8L1263.9 1017.5L1264.4 935.8L1264.9 987.5L1265.4 974.2L1265.9 998.7L1266.4 1000.3L1266.9 976.9L1267.4 955.2L1267.9 968.8L1268.4 956.9L1268.9 944.7L1269.4 927.8L1269.8 961.4L1270.3 933.7L1270.8 991.0L1271.3 939.9L1271.8 1007.5L1272.3 973.9L1272.8 977.0L1273.3 926.3L1273.8 930.4L1274.3 903.0L1274.8 942.1L1275.3 943.5L1275.7 1006.1L1276.2 1039.5L1276.7 1026.0L1277.2 965.1L1277.7 1006.6L1278.2 987.9L1278.7 976.7L1279.2 945.5L1279.7 969.3L1280.2 983.4L1280.7 988.9L1281.2 924.1L1281.6 970.4L1282.1 950.9L1282.6 998.2L1283.1 956.7L1283.6 980.8L1284.1 949.9L1284.6 992.0L1285.1 913.6L1285.6 940.5L1286.1 902.3L1286.6 970.1L1287.1 991.5L1287.5 981.0L1288.0 985.8L1288.5 999.2L1289.0 1002.7L1289.5 987.0L1290.0 973.4L1290.5 1007.0L1291.0 935.7L1291.5 932.3L1292.0 915.4L1292.5 957.9L1293.0 963.1L1293.4 997.0L1293.9 994.2L1294.4 982.3L1294.9 979.2L1295.4 1026.4L1295.9 1048.0L1296.4 1054.1L1296.9 983.7L1297.4 980.6L1297.9 983.6L1298.4 1019.6L1298.9 1004.6L1299.3 1047.4L1299.8 1003.5L1300.3 990.9L1300.8 969.3L1301.3 1045.2L1301.8 1011.4L1302.3 1045.0L1302.8 976.2L1303.3 975.1L1303.8 948.2L1304.3 1018.9L1304.8 969.3L1305.2 973.6L1305.7 978.5L1306.2 1033.7L1306.7 991.0L1307.2 946.1L1307.7 930.1L1308.2 917.1L1308.7 939.8L1309.2 998.3L1309.7 984.4L1310.2 1003.8L1310.7 1005.4L1311.1 975.7L1311.6 907.4L1312.1 978.6L1312.6 989.6L1313.1 1002.0L1313.6 972.4L1314.1 979.0L1314.6 933.3L1315.1 948.3L1315.6 951.5L1316.1 993.2L1316.6 949.4L1317.0 980.3L1317.5 986.3L1318.0 1000.9L1318.5 947.1L1319.0 969.2L1319.5 994.9L1320.0 1055.5L1320.5 1055.5L1321.0 1045.2L1321.5 977.4L1322.0 970.4L1322.5 980.9L1322.9 1054.2L1323.4 1051.4L1323.9 1091.3L1324.4 1020.0L1324.9 1005.2L1325.4 956.8L1325.9 1012.9L1326.4 1006.0L1326.9 971.8L1327.4 909.6L1327.9 942.2L1328.4 977.9L1328.8 1117.6L1329.3 1072.3L1329.8 1090.5L1330.3 1068.1L1330.8 1080.1L1331.3 1025.2L1331.8 1030.2L1332.3 980.6L1332.8 1019.2L1333.3 1065.1L1333.8 1090.7L1334.3 1006.7L1334.7 1004.6L1335.2 989.4L1335.7 1041.4L1336.2 1033.6L1336.7 1084.0L1337.2 1026.7L1337.7 1088.6L1338.2 1035.2L1338.7 1061.0L1339.2 1077.3L1339.7 1030.6L1340.2 963.8L1340.6 949.7L1341.1 982.5L1341.6 1022.8L1342.1 969.1L1342.6 1047.9L1343.1 1035.5L1343.6 1022.0L1344.1 994.9L1344.6 1054.6L1345.1 1015.3L1345.6 1009.1L1346.1 963.5L1346.5 983.2L1347.0 993.4L1347.5 1050.4L1348.0 1027.5L1348.5 1009.7L1349.0 1031.1L1349.5 1019.6L1350.0 973.7L1350.5 1015.8L1351.0 1028.8L1351.5 1072.5L1352.0 1042.0L1352.4 1053.8L1352.9 988.7L1353.4 1017.6L1353.9 1068.1L1354.4 1091.8L1354.9 1066.4L1355.4 1085.7L1355.9 1023.2L1356.4 1024.9L1356.9 1000.6L1357.4 1002.7L1357.9 999.4L1358.4 1039.6L1358.8 1017.5L1359.3 1002.0L1359.8 983.1L1360.3 1032.6L1360.8 1054.4L1361.3 1038.0L1361.8 978.7L1362.3 1034.5L1362.8 1028.4L1363.3 1039.1L1363.8 1049.6L1364.3 1078.1L1364.7 1035.3L1365.2 1028.9L1365.7 988.6L1366.2 996.9L1366.7 957.9L1367.2 1042.1L1367.7 1110.9L1368.2 1101.7L1368.7 994.9L1369.2 982.2L1369.7 992.6L1370.2 1164.7L1370.6 1010.6L1371.1 985.1L1371.6 976.3L1372.1 1053.6L1372.6 1028.5L1373.1 1070.8L1373.6 991.6L1374.1 1010.6L1374.6 978.5L1375.1 1061.4L1375.6 1031.5L1376.1 1052.1L1376.5 1014.1L1377.0 1055.3L1377.5 1086.8L1378.0 1042.9L1378.5 1021.0L1379.0 1061.7L1379.5 1036.5L1380.0 1063.6L1380.5 985.4L1381.0 1021.3L1381.5 1009.5L1382.0 1081.5L1382.4 1088.7L1382.9 1064.3L1383.4 996.7L1383.9 1004.9L1384.4 1010.6L1384.9 1047.6L1385.4 1034.3L1385.9 1027.6L1386.4 992.8L1386.9 1016.8L1387.4 1010.1L1387.9 1040.1L1388.3 1060.2L1388.8 1104.6L1389.3 1031.9L1389.8 1048.3L1390.3 1027.7L1390.8 1060.9L1391.3 1059.8L1391.8 1066.2L1392.3 1005.9L1392.8 1039.1L1393.3 1049.2L1393.8 1070.9L1394.2 1044.7L1394.7 1058.9L1395.2 1045.1L1395.7 1074.5L1396.2 1018.7L1396.7 977.0L1397.2 982.5L1397.7 1036.7L1398.2 1162.0L1398.7 1149.5L1399.2 1049.1L1399.7 1075.5L1400.1 1053.6L1400.6 1039.0L1401.1 975.4L1401.6 1016.8L1402.1 1055.4L1402.6 1050.9L1403.1 997.1L1403.6 1000.2L1404.1 1027.8L1404.6 1057.4L1405.1 997.8L1405.6 986.5L1406.0 997.9L1406.5 1069.3L1407.0 1106.1L1407.5 1100.5L1408.0 1067.7L1408.5 1063.0L1409.0 1046.4L1409.5 1021.6L1410.0 980.0L1410.5 1016.1L1411.0 1008.4L1411.5 1058.5L1411.9 1044.0L1412.4 1049.7L1412.9 1047.1L1413.4 1090.1L1413.9 1057.1L1414.4 1055.4L1414.9 1030.9L1415.4 1084.9L1415.9 1115.1L1416.4 1135.9L1416.9 1066.6L1417.4 1053.0L1417.8 1023.5L1418.3 1065.0L1418.8 1028.9L1419.3 1054.1L1419.8 1078.5L1420.3 1100.0L1420.8 1100.5L1421.3 1095.3L1421.8 1077.9L1422.3 1107.4L1422.8 1021.1L1423.3 1013.6L1423.7 994.5L1424.2 1066.6L1424.7 1009.8L1425.2 1034.5L1425.7 1022.4L1426.2 1089.0L1426.7 1072.0L1427.2 1073.9L1427.7 1026.0L1428.2 1073.4L1428.7 1011.0L1429.2 1025.5L1429.6 1012.4L1430.1 1034.7L1430.6 1005.0L1431.1 1042.1L1431.6 1009.3L1432.1 1051.0L1432.6 1010.4L1433.1 1068.2L1433.6 1068.2L1434.1 1097.3L1434.6 1066.1L1435.1 1080.6L1435.5 1063.4L1436.0 1079.4L1436.5 1079.0L1437.0 1143.5L1437.5 1148.8L1438.0 1088.5L1438.5 1041.4L1439.0 1053.5L1439.5 1036.7L1440.0 1082.4L1440.5 1054.4L1441.0 1086.2L1441.4 1058.4L1441.9 1064.6L1442.4 1069.2L1442.9 1132.1L1443.4 1078.2L1443.9 1091.8L1444.4 1090.0L1444.9 1117.6L1445.4 1079.6L1445.9 1066.4L1446.4 1034.3L1446.9 1072.0L1447.3 1107.5L1447.8 1103.4L1448.3 1071.1L1448.8 1074.6L1449.3 1071.0L1449.8 1132.7L1450.3 1068.0L1450.8 1116.3L1451.3 1174.2L1451.8 1149.8L1452.3 1069.5L1452.8 1110.9L1453.2 1128.0L1453.7 1156.9L1454.2 1106.0L1454.7 1120.1L1455.2 1058.7L1455.7 1092.0L1456.2 1086.6L1456.7 1107.9L1457.2 1085.3L1457.7 1114.0L1458.2 1112.9L1458.7 1053.1L1459.1 1014.7L1459.6 1033.3L1460.1 1068.0L1460.6 1059.7L1461.1 995.4L1461.6 1029.6L1462.1 1006.1L1462.6 1061.6L1463.1 1018.0L1463.6 1041.9L1464.1 1064.7L1464.6 1113.2L1465.0 1094.0L1465.5 1147.7L1466.0 1089.2L1466.5 1032.1L1467.0 989.4L1467.5 1080.6L1468.0 1077.5L1468.5 1054.2L1469.0 1059.3L1469.5 1114.0L1470.0 1074.8L1470.5 1130.9L1470.9 1142.0L1471.4 1166.1L1471.9 1118.8L1472.4 1056.4L1472.9 1025.8L1473.4 1074.2L1473.9 1041.4L1474.4 1064.9L1474.9 1045.2L1475.4 1051.4L1475.9 1042.1L1476.4 1095.1L1476.8 1055.8L1477.3 1094.0L1477.8 1090.9L1478.3 1169.5L1478.8 1040.9L1479.3 1031.1L1479.8 1008.2L1480.3 1116.3L1480.8 1148.3L1481.3 1085.5L1481.8 1054.3L1482.3 1047.4L1482.8 1039.5L1483.2 1069.4L1483.7 1045.0L1484.2 1095.4L1484.7 1110.6L1485.2 1193.1L1485.7 1241.6L1486.2 1092.1L1486.7 1036.4L1487.2 1063.4L1487.7 1075.5L1488.2 1094.2L1488.7 1068.7L1489.1 1070.5L1489.6 1024.8L1490.1 1072.4L1490.6 1045.5L1491.1 1112.4L1491.6 1117.3L1492.1 1101.4L1492.6 1093.5L1493.1 1174.7L1493.6 1130.2L1494.1 1120.7L1494.6 1100.8L1495.0 1106.1L1495.5 1077.7L1496.0 1150.6L1496.5 1155.8L1497.0 1152.5L1497.5 1113.1L1498.0 1164.1L1498.5 1125.0L1499.0 1117.3L1499.5 1089.8L1500.0 1127.2L1500.5 1051.9L1500.9 1056.2L1501.4 1066.3L1501.9 1093.5L1502.4 1072.3L1502.9 1144.5L1503.4 1166.4L1503.9 1136.0L1504.4 1090.7L1504.9 1090.7L1505.4 1047.5L1505.9 1118.6L1506.4 1115.1L1506.8 1123.1L1507.3 1106.6L1507.8 1115.5L1508.3 1077.1L1508.8 1103.7L1509.3 1079.5L1509.8 1154.0L1510.3 1155.4L1510.8 1171.5L1511.3 1162.4L1511.8 1154.5L1512.3 1079.4L1512.7 1099.9L1513.2 1078.6L1513.7 1113.0L1514.2 1087.5L1514.7 1106.5L1515.2 1111.9L1515.7 1092.0L1516.2 1062.1L1516.7 1122.6L1517.2 1157.6L1517.7 1145.1L1518.2 1076.9L1518.6 1069.7L1519.1 1075.1L1519.6 1102.4L1520.1 1084.8L1520.6 1130.7L1521.1 1233.2L1521.6 1152.1L1522.1 1095.9L1522.6 1115.0L1523.1 1122.5L1523.6 1145.5L1524.1 1083.9L1524.5 1085.9L1525.0 1093.6L1525.5 1120.2L1526.0 1082.1L1526.5 1096.8L1527.0 1088.6L1527.5 1091.8L1528.0 1088.9L1528.5 1127.8L1529.0 1104.1L1529.5 1117.5L1530.0 1058.0L1530.4 1057.5L1530.9 1044.4L1531.4 1068.2L1531.9 1097.8L1532.4 1140.2L1532.9 1128.4L1533.4 1150.9L1533.9 1148.6L1534.4 1202.3L1534.9 1095.2L1535.4 1084.7L1535.9 1089.4L1536.3 1249.0L1536.8 1246.2L1537.3 1179.3L1537.8 1123.8L1538.3 1130.5L1538.8 1110.8L1539.3 1117.2L1539.8 1067.7L1540.3 1072.9L1540.8 1063.7L1541.3 1103.1L1541.8 1116.6L1542.2 1128.4L1542.7 1067.1L1543.2 1131.3L1543.7 1129.7L1544.2 1202.4L1544.7 1123.8L1545.2 1127.1L1545.7 1111.3L1546.2 1109.1L1546.7 1086.9L1547.2 1093.2L1547.7 1082.3L1548.1 1114.4L1548.6 1108.4L1549.1 1164.0L1549.6 1157.7L1550.1 1167.0L1550.6 1121.8L1551.1 1091.9L1551.6 1069.5L1552.1 1068.3L1552.6 1061.8L1553.1 1095.5L1553.6 1107.7L1554.0 1132.2L1554.5 1143.8L1555.0 1131.4L1555.5 1111.4L1556.0 1106.5L1556.5 1106.4L1557.0 1151.4L1557.5 1155.3L1558.0 1166.8L1558.5 1096.1L1559.0 1114.4L1559.5 1142.7L1559.9 1191.2L1560.4 1125.9L1560.9 1160.7L1561.4 1080.1L1561.9 1075.9L1562.4 1054.6L1562.9 1139.9L1563.4 1122.4L1563.9 1147.7L1564.4 1072.9L1564.9 1123.8L1565.4 1089.7L1565.8 1125.5L1566.3 1066.9L1566.8 1055.9L1567.3 1057.7L1567.8 1198.6L1568.3 1107.7L1568.8 1124.5L1569.3 1118.9L1569.8 1165.8L1570.3 1104.3L1570.8 1166.4L1571.3 1162.7L1571.7 1137.3L1572.2 1114.5L1572.7 1133.0L1573.2 1090.6L1573.7 1134.4L1574.2 1084.4L1574.7 1074.3L1575.2 1102.8L1575.7 1144.9L1576.2 1143.4L1576.7 1103.9L1577.2 1053.9L1577.6 1101.9L1578.1 1097.4L1578.6 1096.3L1579.1 1067.7L1579.6 1093.1L1580.1 1102.3L1580.6 1164.7L1581.1 1090.2L1581.6 1094.0L1582.1 1109.7L1582.6 1135.0L1583.1 1110.4L1583.5 1122.6L1584.0 1096.5L1584.5 1084.5L1585.0 1119.5L1585.5 1224.3L1586.0 1134.3L1586.5 1106.2L1587.0 1085.0L1587.5 1108.0L1588.0 1152.0L1588.5 1198.2L1589.0 1202.1L1589.4 1161.4L1589.9 1121.3L1590.4 1131.1L1590.9 1106.8L1591.4 1112.4L1591.9 1078.2L1592.4 1123.3L1592.9 1129.3L1593.4 1169.5L1593.9 1183.1L1594.4 1182.8L1594.9 1129.2L1595.3 1115.2L1595.8 1104.4L1596.3 1128.4L1596.8 1150.3L1597.3 1161.2L1597.8 1137.1L1598.3 1189.6L1598.8 1188.8L1599.3 1180.1L1599.8 1119.6L1600.3 1125.1L1600.8 1126.4L1601.2 1241.1L1601.7 1203.0L1602.2 1196.9L1602.7 1160.9L1603.2 1149.1L1603.7 1141.2L1604.2 1190.7L1604.7 1149.2L1605.2 1164.1L1605.7 1153.9L1606.2 1164.0L1606.7 1139.1L1607.1 1122.9L1607.6 1103.5L1608.1 1139.6L1608.6 1125.7L1609.1 1120.8L1609.6 1101.1L1610.1 1118.0L1610.6 1126.6L1611.1 1183.9L1611.6 1162.5L1612.1 1168.4L1612.6 1123.0L1613.1 1139.7L1613.5 1094.3L1614.0 1097.3L1614.5 1094.2L1615.0 1136.4L1615.5 1120.1L1616.0 1161.5L1616.5 1134.7L1617.0 1168.5L1617.5 1125.3L1618.0 1125.5L1618.5 1091.7L1619.0 1156.5L1619.4 1125.9L1619.9 1097.1L1620.4 1098.8L1620.9 1151.5L1621.4 1152.6L1621.9 1176.2L1622.4 1195.8L1622.9 1179.6L1623.4 1119.0L1623.9 1116.0L1624.4 1109.6L1624.9 1169.6L1625.3 1173.5L1625.8 1163.5L1626.3 1186.0L1626.8 1167.1L1627.3 1126.8L1627.8 1130.7L1628.3 1114.9L1628.8 1138.8L1629.3 1118.7L1629.8 1151.8L1630.3 1093.8L1630.8 1126.0L1631.2 1159.5L1631.7 1244.7L1632.2 1202.2L1632.7 1219.0L1633.2 1159.9L1633.7 1174.1L1634.2 1153.1L1634.7 1184.1L1635.2 1123.0L1635.7 1135.0L1636.2 1144.4L1636.7 1142.1L1637.1 1088.7L1637.6 1122.3L1638.1 1105.0L1638.6 1114.7L1639.1 1100.0L1639.6 1142.5L1640.1 1121.5L1640.6 1131.6L1641.1 1118.8L1641.6 1125.4L1642.1 1098.6L1642.6 1170.8L1643.0 1182.5L1643.5 1183.0L1644.0 1136.6L1644.5 1155.6L1645.0 1134.6L1645.5 1150.3L1646.0 1141.9L1646.5 1185.6L1647.0 1224.7L1647.5 1220.9L1648.0 1152.4L1648.5 1152.5L1648.9 1137.5L1649.4 1176.3L1649.9 1142.2L1650.4 1167.9L1650.9 1117.7L1651.4 1142.7L1651.9 1064.9L1652.4 1108.1L1652.9 1137.6L1653.4 1157.9L1653.9 1136.1L1654.4 1148.8L1654.8 1103.6L1655.3 1145.7L1655.8 1125.1L1656.3 1166.7L1656.8 1152.9L1657.3 1173.4L1657.8 1153.3L1658.3 1192.3L1658.8 1142.7L1659.3 1239.4L1659.8 1276.5L1660.3 1192.8L1660.7 1122.7L1661.2 1131.3L1661.7 1133.5L1662.2 1212.1L1662.7 1196.0L1663.2 1167.9L1663.7 1112.7L1664.2 1108.6L1664.7 1048.0L1665.2 1104.5L1665.7 1153.4L1666.2 1198.4L1666.6 1193.6L1667.1 1188.5L1667.6 1136.3L1668.1 1130.8L1668.6 1093.3L1669.1 1163.1L1669.6 1138.7L1670.1 1151.4L1670.6 1137.5L1671.1 1150.8L1671.6 1123.4L1672.1 1142.8L1672.5 1113.8L1673.0 1157.8L1673.5 1123.1L1674.0 1160.2L1674.5 1213.4L1675.0 1212.8L1675.5 1153.0L1676.0 1162.2L1676.5 1169.3L1677.0 1216.7L1677.5 1190.1L1678.0 1172.2L1678.4 1124.3L1678.9 1127.0L1679.4 1163.4L1679.9 1266.9L1680.4 1151.5L1680.9 1105.0L1681.4 1117.6L1681.9 1200.0L1682.4 1158.9L1682.9 1189.4L1683.4 1166.5L1683.9 1179.9L1684.3 1149.2L1684.8 1128.7L1685.3 1102.3L1685.8 1144.9L1686.3 1138.0L1686.8 1194.0L1687.3 1177.2L1687.8 1202.9L1688.3 1164.1L1688.8 1179.4L1689.3 1164.9L1689.8 1167.5L1690.2 1177.3L1690.7 1191.6L1691.2 1151.3L1691.7 1186.0L1692.2 1168.4L1692.7 1227.9L1693.2 1227.4L1693.7 1237.0L1694.2 1190.0L1694.7 1212.3L1695.2 1156.8L1695.7 1151.0L1696.1 1171.1L1696.6 1222.1L1697.1 1181.9L1697.6 1163.2L1698.1 1101.2L1698.6 1149.5L1699.1 1192.7L1699.6 1189.9L1700.1 1150.4L1700.6 1149.6L1701.1 1141.4L1701.6 1179.9L1702.0 1165.0L1702.5 1221.9L1703.0 1178.1L1703.5 1174.6L1704.0 1162.0L1704.5 1155.0L1705.0 1134.6L1705.5 1153.5L1706.0 1166.0L1706.5 1198.4L1707.0 1149.7L1707.5 1175.4L1707.9 1207.3L1708.4 1218.6L1708.9 1165.4L1709.4 1224.7L1709.9 1176.5L1710.4 1216.5L1710.9 1150.7L1711.4 1143.6L1711.9 1146.4L1712.4 1182.4L1712.9 1128.9L1713.4 1182.8L1713.8 1181.4L1714.3 1214.8L1714.8 1171.8L1715.3 1191.8L1715.8 1153.3L1716.3 1163.4L1716.8 1185.8L1717.3 1175.4L1717.8 1163.5L1718.3 1169.7L1718.8 1156.0L1719.3 1176.0L1719.7 1129.4L1720.2 1163.7L1720.7 1197.0L1721.2 1187.4L1721.7 1137.0L1722.2 1157.6L1722.7 1138.7L1723.2 1130.3L1723.7 1113.9L1724.2 1172.0L1724.7 1158.4L1725.2 1189.7L1725.6 1134.7L1726.1 1129.9L1726.6 1132.5L1727.1 1141.1L1727.6 1136.8L1728.1 1162.1L1728.6 1165.2L1729.1 1205.2L1729.6 1170.1L1730.1 1223.2L1730.6 1211.6L1731.1 1185.1L1731.5 1127.4L1732.0 1143.3L1732.5 1141.1L1733.0 1141.0L1733.5 1092.3L1734.0 1152.8L1734.5 1157.9L1735.0 1182.7L1735.5 1157.6L1736.0 1201.6L1736.5 1164.4L1737.0 1172.6L1737.5 1138.8L1737.9 1188.4L1738.4 1189.8L1738.9 1185.6L1739.4 1126.3L1739.9 1157.5L1740.4 1166.3L1740.9 1193.7L1741.4 1220.5L1741.9 1273.8L1742.4 1227.6L1742.9 1195.3L1743.4 1183.6L1743.8 1227.3L1744.3 1211.1L1744.8 1262.2L1745.3 1240.1L1745.8 1263.8L1746.3 1240.0L1746.8 1254.0L1747.3 1253.0L1747.8 1244.6L1748.3 1206.0L1748.8 1222.0L1749.3 1233.3L1749.7 1243.7L1750.2 1208.1L1750.7 1259.8L1751.2 1257.8L1751.7 1206.5L1752.2 1187.1L1752.7 1205.8L1753.2 1162.4L1753.7 1180.2L1754.2 1200.4L1754.7 1255.2L1755.2 1260.3L1755.6 1233.1L1756.1 1205.4L1756.6 1188.0L1757.1 1161.9L1757.6 1200.1L1758.1 1161.1L1758.6 1166.5L1759.1 1140.0L1759.6 1168.2L1760.1 1179.2L1760.6 1230.5L1761.1 1207.3L1761.5 1204.4L1762.0 1228.3L1762.5 1256.1L1763.0 1230.2L1763.5 1264.4L1764.0 1207.3L1764.5 1259.4L1765.0 1192.0L1765.5 1181.3L1766.0 1191.2L1766.5 1207.1L1767.0 1206.4L1767.4 1248.7L1767.9 1257.9L1768.4 1281.1L1768.9 1251.7L1769.4 1225.5L1769.9 1154.2L1770.4 1207.3L1770.9 1216.1L1771.4 1250.0L1771.9 1264.6L1772.4 1242.5L1772.9 1215.9L1773.3 1225.5L1773.8 1168.9L1774.3 1203.7L1774.8 1213.7L1775.3 1237.3L1775.8 1203.7L1776.3 1231.8L1776.8 1212.8L1777.3 1246.6L1777.8 1196.5L1778.3 1201.3L1778.8 1178.1L1779.2 1182.1L1779.7 1147.6L1780.2 1195.3L1780.7 1186.6L1781.2 1237.6L1781.7 1290.2L1782.2 1343.8L1782.7 1297.1L1783.2 1303.7L1783.7 1207.1L1784.2 1202.6L1784.7 1217.1L1785.1 1263.1L1785.6 1270.3L1786.1 1305.1L1786.6 1307.3L1787.1 1272.8L1787.6 1247.8L1788.1 1180.8L1788.6 1135.9L1789.1 1186.7L1789.6 1246.1L1790.1 1279.4L1790.6 1221.1L1791.0 1223.1L1791.5 1228.5L1792.0 1273.8L1792.5 1231.8L1793.0 1230.4L1793.5 1182.8L1794.0 1182.6L1794.5 1191.1L1795.0 1227.6L1795.5 1205.5L1796.0 1209.9L1796.5 1201.2L1796.9 1268.9L1797.4 1264.2L1797.9 1319.8L1798.4 1292.4L1798.9 1255.2L1799.4 1215.1L1799.9 1205.3L1800.4 1210.7L1800.9 1211.2L1801.4 1243.5L1801.9 1249.1L1802.4 1209.2L1802.8 1208.5L1803.3 1184.2L1803.8 1245.1L1804.3 1199.0L1804.8 1261.1L1805.3 1302.6L1805.8 1294.3L1806.3 1213.0L1806.8 1205.0L1807.3 1220.2L1807.8 1276.5L1808.3 1248.2L1808.7 1340.5L1809.2 1229.7L1809.7 1174.7L1810.2 1130.4L1810.7 1182.9L1811.2 1244.7L1811.7 1285.1L1812.2 1210.6L1812.7 1206.5L1813.2 1164.4L1813.7 1220.7L1814.2 1250.6L1814.6 1272.6L1815.1 1272.2L1815.6 1347.8L1816.1 1309.1L1816.6 1298.5L1817.1 1313.8L1817.6 1357.8L1818.1 1293.2L1818.6 1252.7L1819.1 1204.5L1819.6 1223.0L1820.1 1183.0L1820.5 1222.6L1821.0 1200.7L1821.5 1265.1L1822.0 1189.5L1822.5 1203.2L1823.0 1173.5L1823.5 1185.1L1824.0 1147.7L1824.5 1199.0L1825.0 1186.1L1825.5 1195.9L1826.0 1158.9L1826.4 1212.3L1826.9 1230.1L1827.4 1286.8L1827.9 1318.9L1828.4 1327.9L1828.9 1284.3L1829.4 1293.2L1829.9 1255.9L1830.4 1290.3L1830.9 1227.0L1831.4 1229.4L1831.9 1234.3L1832.3 1297.6L1832.8 1279.5L1833.3 1284.2L1833.8 1219.7L1834.3 1232.1L1834.8 1186.9L1835.3 1247.2L1835.8 1252.5L1836.3 1328.1L1836.8 1280.4L1837.3 1273.3L1837.8 1231.9L1838.2 1297.8L1838.7 1236.3L1839.2 1194.9L1839.7 1163.7L1840.2 1216.3L1840.7 1232.9L1841.2 1329.3L1841.7 1246.1L1842.2 1225.4L1842.7 1181.3L1843.2 1237.4L1843.7 1239.6L1844.1 1233.9L1844.6 1211.5L1845.1 1253.8L1845.6 1219.0L1846.1 1248.3L1846.6 1206.7L1847.1 1244.7L1847.6 1233.8L1848.1 1189.0L1848.6 1162.0L1849.1 1191.2L1849.6 1231.6L1850.0 1252.4L1850.5 1247.3L1851.0 1283.3L1851.5 1249.5L1852.0 1249.3L1852.5 1194.4L1853.0 1230.4L1853.5 1200.4L1854.0 1237.0L1854.5 1217.3L1855.0 1233.2L1855.5 1218.0L1855.9 1223.8L1856.4 1185.6L1856.9 1181.6L1857.4 1209.8L1857.9 1229.0L1858.4 1218.0L1858.9 1274.9L1859.4 1245.2L1859.9 1254.7L1860.4 1259.6L1860.9 1342.4L1861.4 1315.7L1861.9 1335.4L1862.3 1263.0L1862.8 1258.1L1863.3 1260.5L1863.8 1270.7L1864.3 1233.1L1864.8 1230.7L1865.3 1241.4L1865.8 1363.4L1866.3 1259.8L1866.8 1242.1L1867.3 1262.5L1867.8 1295.6L1868.2 1287.9L1868.7 1283.8L1869.2 1267.8L1869.7 1257.0L1870.2 1216.9L1870.7 1204.1L1871.2 1189.0L1871.7 1254.7L1872.2 1235.5L1872.7 1246.2L1873.2 1208.6L1873.7 1260.5L1874.1 1237.3L1874.6 1262.9L1875.1 1260.1L1875.6 1282.6L1876.1 1232.3L1876.6 1226.2L1877.1 1193.1L1877.6 1207.1L1878.1 1189.0L1878.6 1232.3L1879.1 1237.2L1879.6 1259.0L1880.0 1238.4L1880.5 1263.0L1881.0 1239.8L1881.5 1280.1L1882.0 1271.6L1882.5 1235.5L1883.0 1214.6L1883.5 1253.2L1884.0 1269.1L1884.5 1288.7L1885.0 1255.6L1885.5 1271.1L1885.9 1235.5L1886.4 1237.1L1886.9 1271.7L1887.4 1244.8L1887.9 1226.0L1888.4 1261.7L1888.9 1253.9L1889.4 1284.2L1889.9 1274.7L1890.4 1288.5L1890.9 1306.4L1891.4 1359.7L1891.8 1256.4L1892.3 1271.0L1892.8 1246.3L1893.3 1233.3L1893.8 1215.9L1894.3 1315.5L1894.8 1264.8L1895.3 1232.2L1895.8 1206.5L1896.3 1273.5L1896.8 1256.0L1897.3 1242.5L1897.7 1222.7L1898.2 1248.2L1898.7 1206.0L1899.2 1235.1L1899.7 1255.7L1900.2 1285.7L1900.7 1295.2L1901.2 1314.1L1901.7 1279.9L1902.2 1270.5L1902.7 1242.5L1903.2 1286.6L1903.6 1283.5L1904.1 1294.6L1904.6 1274.3L1905.1 1303.2L1905.6 1244.6L1906.1 1247.1L1906.6 1234.0L1907.1 1283.2L1907.6 1223.3L1908.1 1272.6L1908.6 1287.2L1909.1 1332.8L1909.5 1257.1L1910.0 1317.0L1910.5 1353.5L1911.0 1348.0L1911.5 1323.6L1912.0 1338.2L1912.5 1383.4L1913.0 1401.4L1913.5 1298.9L1914.0 1264.5L1914.5 1216.5L1915.0 1242.9L1915.4 1250.3L1915.9 1278.0L1916.4 1202.8L1916.9 1216.6L1917.4 1221.7L1917.9 1312.3L1918.4 1260.4L1918.9 1300.9L1919.4 1265.1L1919.9 1278.9L1920.4 1275.3L1920.9 1305.2L1921.3 1228.7L1921.8 1256.0L1922.3 1253.7L1922.8 1288.6L1923.3 1220.8L1923.8 1247.0L1924.3 1272.7L1924.8 1365.0L1925.3 1325.1L1925.8 1267.0L1926.3 1222.3L1926.8 1279.7L1927.2 1325.0L1927.7 1364.3L1928.2 1299.1L1928.7 1265.4L1929.2 1228.5L1929.7 1258.4L1930.2 1289.0L1930.7 1322.9L1931.2 1302.6L1931.7 1283.7L1932.2 1334.7L1932.7 1305.5L1933.1 1220.8L1933.6 1213.9L1934.1 1220.6L1934.6 1260.5L1935.1 1247.4L1935.6 1310.5L1936.1 1306.1L1936.6 1357.0L1937.1 1319.6L1937.6 1300.9L1938.1 1254.5L1938.6 1281.2L1939.0 1225.2L1939.5 1228.9L1940.0 1245.2L1940.5 1275.6L1941.0 1221.6L1941.5 1272.2L1942.0 1269.8L1942.5 1276.5L1943.0 1236.5L1943.5 1257.8L1944.0 1288.7L1944.5 1326.8L1944.9 1299.9L1945.4 1289.2L1945.9 1247.8L1946.4 1296.8L1946.9 1284.2L1947.4 1279.6L1947.9 1277.5L1948.4 1283.1L1948.9 1292.7L1949.4 1356.0L1949.9 1284.4L1950.4 1277.1L1950.8 1263.5L1951.3 1300.6L1951.8 1248.6L1952.3 1249.5L1952.8 1254.2L1953.3 1360.4L1953.8 1343.6L1954.3 1377.3L1954.8 1322.4L1955.3 1279.1L1955.8 1266.0L1956.3 1280.0L1956.7 1265.9L1957.2 1303.7L1957.7 1289.4L1958.2 1279.5L1958.7 1277.7L1959.2 1332.6L1959.7 1285.3L1960.2 1335.3L1960.7 1342.2L1961.2 1311.2L1961.7 1325.7L1962.2 1384.0L1962.6 1306.9L1963.1 1307.7L1963.6 1259.0L1964.1 1260.0L1964.6 1219.6L1965.1 1252.9L1965.6 1240.0L1966.1 1260.2L1966.6 1190.0L1967.1 1226.9L1967.6 1243.5L1968.1 1258.8L1968.5 1230.6L1969.0 1265.0L1969.5 1285.8L1970.0 1239.9L1970.5 1254.5L1971.0 1277.6L1971.5 1299.5L1972.0 1289.9L1972.5 1258.1L1973.0 1287.9L1973.5 1278.2L1974.0 1302.7L1974.4 1257.3L1974.9 1310.1L1975.4 1310.3L1975.9 1311.4L1976.4 1313.4L1976.9 1317.7L1977.4 1289.9L1977.9 1291.6L1978.4 1271.5L1978.9 1279.8L1979.4 1248.5L1979.9 1285.7L1980.3 1254.9L1980.8 1301.5L1981.3 1241.9L1981.8 1294.6L1982.3 1285.0L1982.8 1295.1L1983.3 1293.7L1983.8 1301.4L1984.3 1268.0L1984.8 1301.9L1985.3 1315.6L1985.8 1321.4L1986.2 1278.7L1986.7 1319.5L1987.2 1294.3L1987.7 1320.0L1988.2 1254.7L1988.7 1262.0L1989.2 1235.2L1989.7 1274.4L1990.2 1285.6L1990.7 1322.3L1991.2 1287.1L1991.7 1289.2L1992.2 1285.7L1992.6 1327.1L1993.1 1345.7L1993.6 1382.9L1994.1 1342.6L1994.6 1331.5L1995.1 1312.8L1995.6 1338.4L1996.1 1269.1L1996.6 1250.8L1997.1 1244.6L1997.6 1269.8L1998.1 1295.7L1998.5 1300.6L1999.0 1307.4L1999.5 1305.6L2000.0 1281.7L2000.5 1291.9L2001.0 1309.5L2001.5 1354.3L2002.0 1282.8L2002.5 1286.9L2003.0 1241.4L2003.5 1263.8L2004.0 1309.4L2004.4 1376.2L2004.9 1306.5L2005.4 1326.9L2005.9 1311.1L2006.4 1352.4L2006.9 1296.6L2007.4 1297.8L2007.9 1298.8L2008.4 1333.0L2008.9 1307.6L2009.4 1369.5L2009.9 1346.1L2010.3 1368.6L2010.8 1328.1L2011.3 1328.7L2011.8 1296.8L2012.3 1368.7L2012.8 1325.0L2013.3 1282.4L2013.8 1286.9L2014.3 1327.5L2014.8 1277.6L2015.3 1321.8L2015.8 1313.5L2016.2 1360.4L2016.7 1313.0L2017.2 1350.3L2017.7 1374.2L2018.2 1366.1L2018.7 1353.0L2019.2 1377.3L2019.7 1381.6L2020.2 1412.5L2020.7 1325.4L2021.2 1345.6L2021.7 1300.7L2022.1 1304.8L2022.6 1307.6L2023.1 1318.7L2023.6 1291.2L2024.1 1319.9L2024.6 1332.0L2025.1 1346.5L2025.6 1298.6L2026.1 1329.4L2026.6 1286.9L2027.1 1314.4L2027.6 1286.7L2028.0 1314.3L2028.5 1323.6L2029.0 1369.0L2029.5 1302.8L2030.0 1342.2L2030.5 1314.4L2031.0 1314.4L2031.5 1296.2L2032.0 1302.8L2032.5 1272.6L2033.0 1260.8L2033.5 1235.2L2033.9 1280.1L2034.4 1362.0L2034.9 1361.2L2035.4 1308.5L2035.9 1314.1L2036.4 1351.1L2036.9 1375.2L2037.4 1344.2L2037.9 1359.5L2038.4 1383.7L2038.9 1392.5L2039.4 1348.8L2039.8 1371.6L2040.3 1329.2L2040.8 1352.9L2041.3 1312.2L2041.8 1350.2L2042.3 1315.6L2042.8 1340.2L2043.3 1340.2L2043.8 1405.0L2044.3 1341.6L2044.8 1366.7L2045.3 1379.6L2045.7 1322.7L2046.2 1281.1L2046.7 1310.0L2047.2 1326.7L2047.7 1367.2L2048.2 1349.4L2048.7 1299.0L2049.2 1265.2L2049.7 1260.2L2050.2 1256.8L2050.7 1267.9L2051.2 1296.1L2051.6 1295.5L2052.1 1322.9L2052.6 1387.7L2053.1 1313.2L2053.6 1311.5L2054.1 1329.5L2054.6 1372.6L2055.1 1284.6L2055.6 1313.4L2056.1 1325.9L2056.6 1360.4L2057.1 1329.5L2057.5 1390.2L2058.0 1354.7L2058.5 1354.2L2059.0 1343.3L2059.5 1347.3L2060.0 1343.6L2060.5 1387.9L2061.0 1326.0L2061.5 1350.0L2062.0 1324.3L2062.5 1367.8L2063.0 1348.7L2063.4 1366.8L2063.9 1333.4L2064.4 1366.4L2064.9 1334.6L2065.4 1338.8L2065.9 1306.9L2066.4 1409.4L2066.9 1376.7L2067.4 1368.0L2067.9 1267.4L2068.4 1275.6L2068.9 1270.0L2069.3 1322.9L2069.8 1285.2L2070.3 1345.4L2070.8 1373.9L2071.3 1363.5L2071.8 1316.5L2072.3 1336.1L2072.8 1341.2L2073.3 1390.2L2073.8 1361.7L2074.3 1406.2L2074.8 1422.0L2075.2 1352.0L2075.7 1290.8L2076.2 1327.4L2076.7 1340.3L2077.2 1367.5L2077.7 1387.2L2078.2 1429.4L2078.7 1374.6L2079.2 1365.0L2079.7 1335.3L2080.2 1368.2L2080.7 1350.2L2081.1 1407.9L2081.6 1345.8L2082.1 1339.0L2082.6 1352.1L2083.1 1326.1L2083.6 1301.5L2084.1 1325.0L2084.6 1303.3L2085.1 1338.6L2085.6 1368.7L2086.1 1396.3L2086.6 1389.1L2087.0 1397.3L2087.5 1343.7L2088.0 1326.8L2088.5 1308.0L2089.0 1349.1L2089.5 1401.6L2090.0 1412.4L2090.5 1347.0L2091.0 1359.8L2091.5 1373.0L2092.0 1371.0L2092.5 1355.4L2092.9 1352.1L2093.4 1323.4L2093.9 1316.9L2094.4 1274.0L2094.9 1333.3L2095.4 1393.3L2095.9 1346.0L2096.4 1314.7L2096.9 1349.2L2097.4 1387.6L2097.9 1383.3L2098.4 1391.1L2098.8 1432.7L2099.3 1355.6L2099.8 1343.0L2100.3 1342.2L2100.8 1350.4L2101.3 1361.5L2101.8 1381.7L2102.3 1339.2L2102.8 1321.8L2103.3 1284.1L2103.8 1332.1L2104.3 1380.3L2104.7 1336.9L2105.2 1287.2L2105.7 1325.6L2106.2 1340.2L2106.7 1442.2L2107.2 1364.7L2107.7 1368.2L2108.2 1351.8L2108.7 1354.0L2109.2 1368.8L2109.7 1369.1L2110.2 1300.5L2110.6 1308.0L2111.1 1325.0L2111.6 1409.1L2112.1 1376.4L2112.6 1376.5L2113.1 1334.5L2113.6 1346.1L2114.1 1320.8L2114.6 1355.5L2115.1 1356.8L2115.6 1350.7L2116.1 1304.2L2116.6 1323.9L2117.0 1385.3L2117.5 1421.9L2118.0 1400.9L2118.5 1419.4L2119.0 1430.1L2119.5 1457.6L2120.0 1401.5L2120.5 1407.2L2121.0 1376.0L2121.5 1370.4L2122.0 1351.9L2122.5 1358.4L2122.9 1311.7L2123.4 1329.8L2123.9 1354.0L2124.4 1385.4L2124.9 1345.8L2125.4 1362.6L2125.9 1353.0L2126.4 1394.8L2126.9 1379.6L2127.4 1387.6L2127.9 1364.0L2128.4 1401.7L2128.8 1413.3L2129.3 1460.8L2129.8 1490.9L2130.3 1441.7L2130.8 1375.8L2131.3 1357.8L2131.8 1340.4L2132.3 1378.8L2132.8 1381.8L2133.3 1367.7L2133.8 1329.5L2134.3 1345.5L2134.7 1332.2L2135.2 1421.4L2135.7 1472.0L2136.2 1422.4L2136.7 1357.0L2137.2 1387.7L2137.7 1380.6L2138.2 1425.3L2138.7 1423.4L2139.2 1388.3L2139.7 1364.9L2140.2 1391.9L2140.6 1378.1L2141.1 1422.5L2141.6 1381.2L2142.1 1418.6L2142.6 1395.2L2143.1 1406.1L2143.6 1360.3L2144.1 1425.9L2144.6 1380.7L2145.1 1361.8L2145.6 1356.1L2146.1 1434.7L2146.5 1442.4L2147.0 1396.1L2147.5 1317.4L2148.0 1360.1L2148.5 1378.3L2149.0 1421.1L2149.5 1365.8L2150.0 1363.9L2150.5 1388.0L2151.0 1389.7L2151.5 1357.5L2152.0 1386.5L2152.4 1410.2L2152.9 1435.2L2153.4 1406.9L2153.9 1412.6L2154.4 1361.2L2154.9 1354.8L2155.4 1386.2L2155.9 1468.9L2156.4 1458.0L2156.9 1444.7L2157.4 1415.2L2157.9 1418.3L2158.3 1403.9L2158.8 1410.5L2159.3 1357.9L2159.8 1332.1L2160.3 1298.1L2160.8 1337.4L2161.3 1343.1L2161.8 1349.9L2162.3 1395.5L2162.8 1419.4L2163.3 1422.1L2163.8 1487.9L2164.2 1476.8L2164.7 1455.4L2165.2 1368.7L2165.7 1400.8L2166.2 1369.5L2166.7 1365.1L2167.2 1363.6L2167.7 1385.8L2168.2 1377.7L2168.7 1397.0L2169.2 1394.2L2169.7 1408.4L2170.1 1415.7L2170.6 1396.3L2171.1 1349.8L2171.6 1378.4L2172.1 1360.5L2172.6 1326.7L2173.1 1332.3L2173.6 1413.3L2174.1 1457.4L2174.6 1407.4L2175.1 1341.3L2175.6 1349.4L2176.0 1345.2L2176.5 1402.8L2177.0 1386.0L2177.5 1413.5L2178.0 1420.8L2178.5 1480.9L2179.0 1466.8L2179.5 1446.2L2180.0 1382.4L2180.5 1377.4L2181.0 1371.7L2181.5 1403.8L2181.9 1406.0L2182.4 1416.6L2182.9 1371.2L2183.4 1382.4L2183.9 1320.1L2184.4 1340.8L2184.9 1342.0L2185.4 1355.2L2185.9 1375.1L2186.4 1464.3L2186.9 1417.0L2187.4 1418.2L2187.8 1385.7L2188.3 1386.4L2188.8 1393.9L2189.3 1440.0L2189.8 1424.4L2190.3 1428.1L2190.8 1392.2L2191.3 1412.1L2191.8 1392.2L2192.3 1409.8L2192.8 1398.1L2193.3 1402.7L2193.7 1388.3L2194.2 1459.3L2194.7 1445.3L2195.2 1437.9L2195.7 1382.6L2196.2 1406.8L2196.7 1366.2L2197.2 1397.3L2197.7 1380.5L2198.2 1394.4L2198.7 1418.6L2199.2 1430.9L2199.6 1400.0L2200.1 1405.4L2200.6 1386.9L2201.1 1401.7L2201.6 1365.3L2202.1 1391.0L2202.6 1365.3L2203.1 1389.3L2203.6 1358.1L2204.1 1379.9L2204.6 1386.7L2205.1 1413.6L2205.5 1382.2L2206.0 1436.3L2206.5 1448.9L2207.0 1433.2L2207.5 1397.7L2208.0 1471.3L2208.5 1418.3L2209.0 1421.5L2209.5 1356.6L2210.0 1367.7L2210.5 1367.0L2211.0 1433.5L2211.4 1414.9L2211.9 1406.4L2212.4 1353.2L2212.9 1394.4L2213.4 1415.5L2213.9 1421.7L2214.4 1397.4L2214.9 1363.5L2215.4 1322.8L2215.9 1379.1L2216.4 1453.8L2216.9 1397.8L2217.3 1359.2L2217.8 1394.6L2218.3 1393.7L2218.8 1394.0L2219.3 1352.1L2219.8 1368.8L2220.3 1373.0L2220.8 1402.2L2221.3 1389.5L2221.8 1413.8L2222.3 1412.0L2222.8 1431.9L2223.2 1375.5L2223.7 1362.1L2224.2 1356.7L2224.7 1442.3L2225.2 1575.2L2225.7 1471.2L2226.2 1417.7L2226.7 1460.5L2227.2 1494.3L2227.7 1525.9L2228.2 1469.4L2228.7 1498.6L2229.1 1468.3L2229.6 1431.6L2230.1 1408.1L2230.6 1433.9L2231.1 1385.4L2231.6 1419.7L2232.1 1426.4L2232.6 1454.0L2233.1 1458.8L2233.6 1449.2L2234.1 1415.7L2234.6 1407.9L2235.0 1375.4L2235.5 1408.1L2236.0 1382.0L2236.5 1398.2L2237.0 1385.6L2237.5 1395.2L2238.0 1400.1"/>
<path stroke="#00f" d="M224.0 462.8L224.5 105.7L225.0 134.3L225.5 187.6L226.0 215.4L226.5 178.5L227.0 118.1L227.4 85.9L227.9 113.5L228.4 153.1L228.9 153.9L229.4 118.0L229.9 111.1L230.4 143.9L230.9 171.7L231.4 148.0L231.9 89.9L232.4 48.5L232.9 77.2L233.3 145.8L233.8 174.3L234.3 146.3L234.8 120.0L235.3 130.9L235.8 156.1L236.3 171.5L236.8 153.5L237.3 116.1L237.8 77.4L238.3 56.1L238.8 75.4L239.2 121.5L239.7 177.2L240.2 222.3L240.7 239.2L241.2 215.9L241.7 175.8L242.2 139.4L242.7 127.6L243.2 157.5L243.7 185.8L244.2 158.3L244.7 123.2L245.1 127.9L245.6 130.7L246.1 112.7L246.6 84.6L247.1 67.4L247.6 87.1L248.1 128.4L248.6 152.7L249.1 142.9L249.6 122.9L250.1 101.3L250.6 87.6L251.0 91.4L251.5 108.8L252.0 128.6L252.5 140.1L253.0 137.2L253.5 129.3L254.0 122.0L254.5 124.4L255.0 152.8L255.5 171.3L256.0 155.2L256.5 125.4L256.9 98.0L257.4 93.3L257.9 154.3L258.4 163.7L258.9 151.3L259.4 140.8L259.9 142.5L260.4 151.6L260.9 161.9L261.4 167.9L261.9 155.0L262.4 123.8L262.8 87.4L263.3 61.2L263.8 60.1L264.3 84.7L264.8 120.4L265.3 153.2L265.8 170.2L266.3 155.7L266.8 123.4L267.3 89.4L267.8 70.2L268.3 88.1L268.7 128.7L269.2 156.5L269.7 112.1L270.2 90.4L270.7 105.2L271.2 116.8L271.7 101.5L272.2 83.8L272.7 91.7L273.2 103.2L273.7 105.4L274.2 116.8L274.6 157.2L275.1 162.6L275.6 152.2L276.1 139.3L276.6 131.0L277.1 141.2L277.6 172.3L278.1 200.5L278.6 202.0L279.1 180.8L279.6 148.1L280.1 112.0L280.5 81.8L281.0 65.1L281.5 83.9L282.0 135.4L282.5 180.5L283.0 176.6L283.5 123.7L284.0 98.2L284.5 104.2L285.0 112.3L285.5 115.0L286.0 102.5L286.4 85.5L286.9 82.2L287.4 109.9L287.9 141.8L288.4 147.5L288.9 143.5L289.4 148.0L289.9 142.5L290.4 116.2L290.9 91.9L291.4 98.7L291.9 143.4L292.3 190.6L292.8 200.2L293.3 154.5L293.8 98.9L294.3 84.1L294.8 120.7L295.3 164.0L295.8 171.0L296.3 139.4L296.8 119.2L297.3 135.2L297.8 160.1L298.2 169.1L298.7 138.9L299.2 87.2L299.7 39.1L300.2 31.0L300.7 42.6L301.2 87.0L301.7 136.5L302.2 173.2L302.7 181.9L303.2 167.0L303.7 145.1L304.1 127.4L304.6 122.2L305.1 119.6L305.6 116.1L306.1 113.7L306.6 102.8L307.1 80.8L307.6 85.0L308.1 96.8L308.6 101.0L309.1 105.6L309.6 145.0L310.0 158.6L310.5 149.3L311.0 136.1L311.5 126.2L312.0 136.2L312.5 188.6L313.0 245.3L313.5 261.0L314.0 234.6L314.5 189.5L315.0 137.0L315.5 90.3L315.9 61.2L316.4 77.6L316.9 136.5L317.4 130.2L317.9 98.5L318.4 81.1L318.9 102.1L319.4 138.8L319.9 166.3L320.4 154.1L320.9 109.0L321.4 96.5L321.8 125.4L322.3 154.4L322.8 149.6L323.3 121.1L323.8 84.4L324.3 54.6L324.8 47.8L325.3 84.0L325.8 144.5L326.3 205.3L326.8 242.4L327.3 228.1L327.7 172.5L328.2 106.7L328.7 62.7L329.2 68.6L329.7 107.3L330.2 140.6L330.7 115.1L331.2 78.8L331.7 126.4L332.2 158.4L332.7 136.1L333.2 100.5L333.6 79.8L334.1 100.0L334.6 133.1L335.1 139.0L335.6 119.2L336.1 94.4L336.6 81.7L337.1 92.6L337.6 113.4L338.1 132.0L338.6 135.5L339.1 114.9L339.5 87.7L340.0 74.6L340.5 99.5L341.0 145.1L341.5 185.1L342.0 192.7L342.5 161.4L343.0 112.8L343.5 67.1L344.0 43.1L344.5 72.3L345.0 129.5L345.4 160.1L345.9 124.4L346.4 65.6L346.9 33.9L347.4 86.7L347.9 141.4L348.4 125.1L348.9 139.9L349.4 157.9L349.9 134.3L350.4 98.8L350.9 79.7L351.4 101.7L351.8 134.3L352.3 138.4L352.8 117.9L353.3 93.3L353.8 81.9L354.3 93.5L354.8 114.5L355.3 132.6L355.8 134.9L356.3 113.5L356.8 86.5L357.3 74.8L357.7 93.8L358.2 126.2L358.7 151.9L359.2 146.8L359.7 105.5L360.2 73.9L360.7 116.7L361.2 177.6L361.7 156.4L362.2 109.5L362.7 81.7L363.2 99.2L363.6 129.8L364.1 144.1L364.6 92.5L365.1 53.8L365.6 64.7L366.1 85.3L366.6 109.2L367.1 129.0L367.6 138.7L368.1 132.7L368.6 120.2L369.1 107.5L369.5 100.6L370.0 130.2L370.5 174.4L371.0 163.9L371.5 118.4L372.0 83.9L372.5 94.0L373.0 124.2L373.5 144.6L374.0 105.5L374.5 54.4L375.0 61.7L375.4 80.8L375.9 104.7L376.4 125.8L376.9 137.8L377.4 134.5L377.9 122.9L378.4 109.6L378.9 101.2L379.4 108.8L379.9 133.0L380.4 153.8L380.9 154.2L381.3 143.3L381.8 132.6L382.3 132.4L382.8 144.6L383.3 158.3L383.8 160.9L384.3 146.8L384.8 138.7L385.3 166.4L385.8 190.1L386.3 154.3L386.8 132.9L387.2 131.2L387.7 116.7L388.2 97.5L388.7 84.0L389.2 88.6L389.7 111.4L390.2 133.1L390.7 133.2L391.2 110.0L391.7 83.9L392.2 78.1L392.7 125.4L393.1 199.1L393.6 256.7L394.1 255.2L394.6 195.2L395.1 111.4L395.6 38.5L396.1 31.0L396.6 55.6L397.1 116.2L397.6 120.9L398.1 92.1L398.6 66.2L399.0 72.6L399.5 106.8L400.0 143.6L400.5 157.4L401.0 131.9L401.5 99.8L402.0 94.1L402.5 100.4L403.0 102.0L403.5 92.1L404.0 87.7L404.5 106.3L404.9 136.6L405.4 162.1L405.9 160.2L406.4 99.9L406.9 83.7L407.4 119.9L407.9 162.7L408.4 174.1L408.9 127.3L409.4 87.4L409.9 91.0L410.4 99.3L410.8 104.6L411.3 96.0L411.8 78.6L412.3 68.6L412.8 85.7L413.3 118.7L413.8 147.9L414.3 155.0L414.8 144.1L415.3 131.9L415.8 134.4L416.3 158.8L416.7 151.1L417.2 103.2L417.7 56.2L418.2 60.6L418.7 144.7L419.2 238.4L419.7 263.5L420.2 225.7L420.7 164.9L421.2 103.9L421.7 65.7L422.2 80.2L422.6 144.5L423.1 214.7L423.6 246.8L424.1 209.9L424.6 146.4L425.1 100.3L425.6 116.6L426.1 178.6L426.6 225.4L427.1 200.4L427.6 131.2L428.1 79.9L428.5 93.9L429.0 135.3L429.5 150.2L430.0 117.6L430.5 97.7L431.0 124.9L431.5 158.1L432.0 149.9L432.5 96.0L433.0 45.8L433.5 49.1L434.0 98.0L434.4 142.2L434.9 119.5L435.4 79.5L435.9 92.3L436.4 106.3L436.9 98.3L437.4 76.1L437.9 80.0L438.4 92.0L438.9 96.7L439.4 100.8L439.9 140.1L440.3 155.0L440.8 146.1L441.3 133.1L441.8 123.2L442.3 127.2L442.8 154.8L443.3 185.4L443.8 194.3L444.3 176.8L444.8 146.4L445.3 110.6L445.8 78.7L446.2 58.6L446.7 74.9L447.2 134.6L447.7 130.1L448.2 98.7L448.7 80.4L449.2 99.0L449.7 120.2L450.2 113.7L450.7 97.3L451.2 90.2L451.7 97.9L452.1 112.1L452.6 129.3L453.1 145.0L453.6 155.4L454.1 148.4L454.6 111.9L455.1 115.7L455.6 137.7L456.1 158.1L456.6 158.5L457.1 135.4L457.6 104.5L458.0 82.6L458.5 105.8L459.0 158.4L459.5 150.7L460.0 137.5L460.5 131.5L461.0 152.6L461.5 162.2L462.0 124.0L462.5 71.6L463.0 47.5L463.5 67.8L463.9 100.0L464.4 118.7L464.9 111.9L465.4 96.8L465.9 79.4L466.4 66.2L466.9 68.7L467.4 122.1L467.9 197.9L468.4 249.4L468.9 234.1L469.4 173.1L469.8 113.8L470.3 98.2L470.8 109.4L471.3 118.7L471.8 112.9L472.3 98.4L472.8 80.9L473.3 67.1L473.8 65.6L474.3 103.8L474.8 162.0L475.3 204.4L475.8 198.2L476.2 155.8L476.7 111.8L477.2 100.8L477.7 143.3L478.2 195.3L478.7 203.5L479.2 153.1L479.7 94.9L480.2 82.1L480.7 118.6L481.2 151.6L481.7 135.4L482.1 101.4L482.6 110.7L483.1 146.8L483.6 162.9L484.1 122.9L484.6 64.6L485.1 39.9L485.6 98.4L486.1 146.3L486.6 128.1L487.1 147.3L487.6 161.0L488.0 135.1L488.5 100.0L489.0 84.7L489.5 109.4L490.0 140.8L490.5 141.3L491.0 119.6L491.5 95.6L492.0 87.4L492.5 115.0L493.0 130.2L493.5 107.3L493.9 76.9L494.4 69.6L494.9 97.1L495.4 136.0L495.9 160.8L496.4 147.2L496.9 112.9L497.4 96.6L497.9 101.8L498.4 106.6L498.9 99.6L499.4 90.4L499.8 101.2L500.3 129.1L500.8 158.2L501.3 172.6L501.8 125.4L502.3 81.8L502.8 107.9L503.3 152.6L503.8 180.5L504.3 150.1L504.8 98.8L505.3 101.1L505.7 142.1L506.2 166.1L506.7 132.8L507.2 92.9L507.7 101.0L508.2 135.6L508.7 174.1L509.2 195.7L509.7 189.9L510.2 174.8L510.7 154.7L511.2 134.0L511.6 117.5L512.1 108.7L512.6 117.0L513.1 138.5L513.6 167.3L514.1 196.4L514.6 218.6L515.1 227.8L515.6 180.1L516.1 98.5L516.6 43.6L517.1 97.1L517.5 167.1L518.0 155.5L518.5 143.1L519.0 162.1L519.5 192.5L520.0 170.9L520.5 137.3L521.0 137.7L521.5 125.9L522.0 106.9L522.5 91.1L523.0 88.3L523.4 98.5L523.9 109.0L524.4 103.1L524.9 70.7L525.4 41.6L525.9 50.5L526.4 95.3L526.9 149.5L527.4 185.1L527.9 171.8L528.4 118.3L528.9 65.4L529.3 51.6L529.8 66.7L530.3 92.4L530.8 124.4L531.3 157.3L531.8 185.5L532.3 204.1L532.8 203.1L533.3 155.8L533.8 103.8L534.3 96.4L534.8 121.6L535.2 149.5L535.7 155.6L536.2 136.3L536.7 104.7L537.2 71.2L537.7 46.7L538.2 44.7L538.7 86.9L539.2 135.0L539.7 141.2L540.2 131.1L540.7 159.2L541.1 154.5L541.6 121.6L542.1 90.9L542.6 91.8L543.1 124.1L543.6 147.0L544.1 135.0L544.6 110.3L545.1 90.1L545.6 90.9L546.1 108.4L546.6 129.6L547.0 142.3L547.5 131.4L548.0 104.7L548.5 82.7L549.0 89.9L549.5 130.5L550.0 178.7L550.5 206.5L551.0 188.9L551.5 144.5L552.0 93.1L552.5 56.0L552.9 53.9L553.4 84.9L553.9 107.2L554.4 102.0L554.9 91.8L555.4 85.4L555.9 94.0L556.4 111.3L556.9 123.3L557.4 113.7L557.9 89.8L558.4 78.5L558.8 91.3L559.3 112.0L559.8 126.2L560.3 115.5L560.8 83.3L561.3 54.6L561.8 52.6L562.3 69.0L562.8 78.9L563.3 76.3L563.8 72.5L564.3 74.8L564.7 110.8L565.2 154.3L565.7 160.9L566.2 118.4L566.7 67.4L567.2 50.3L567.7 73.5L568.2 105.4L568.7 120.2L569.2 111.8L569.7 96.1L570.2 78.8L570.6 66.6L571.1 71.5L571.6 113.2L572.1 166.4L572.6 198.6L573.1 182.6L573.6 141.6L574.1 105.8L574.6 110.6L575.1 171.6L575.6 230.3L576.1 222.2L576.5 153.6L577.0 89.9L577.5 88.3L578.0 127.9L578.5 174.8L579.0 200.4L579.5 158.0L580.0 76.4L580.5 31.0L581.0 64.9L581.5 134.3L582.0 149.8L582.4 114.7L582.9 102.2L583.4 133.0L583.9 163.3L584.4 146.0L584.9 89.3L585.4 43.9L585.9 69.3L586.4 137.2L586.9 137.3L587.4 133.3L587.9 155.9L588.3 167.8L588.8 155.3L589.3 143.8L589.8 165.8L590.3 194.5L590.8 168.2L591.3 138.4L591.8 138.3L592.3 125.6L592.8 106.5L593.3 91.4L593.8 89.5L594.2 97.1L594.7 105.5L595.2 107.2L595.7 99.1L596.2 89.4L596.7 87.6L597.2 100.8L597.7 117.7L598.2 123.8L598.7 105.9L599.2 83.7L599.7 82.4L600.1 99.5L600.6 119.3L601.1 127.1L601.6 105.7L602.1 71.9L602.6 50.9L603.1 59.1L603.6 75.6L604.1 79.3L604.6 75.9L605.1 72.7L605.6 77.2L606.1 94.3L606.5 117.1L607.0 137.0L607.5 146.5L608.0 136.3L608.5 115.5L609.0 90.8L609.5 70.2L610.0 60.5L610.5 70.3L611.0 87.7L611.5 99.2L612.0 98.8L612.4 125.6L612.9 157.8L613.4 152.6L613.9 140.7L614.4 128.9L614.9 124.6L615.4 146.4L615.9 181.4L616.4 203.8L616.9 193.8L617.4 166.9L617.9 131.0L618.3 95.3L618.8 68.8L619.3 61.6L619.8 116.9L620.3 140.6L620.8 114.4L621.3 87.3L621.8 92.3L622.3 116.9L622.8 121.3L623.3 106.7L623.8 94.0L624.2 97.1L624.7 108.8L625.2 125.0L625.7 141.5L626.2 154.1L626.7 159.1L627.2 127.2L627.7 111.1L628.2 111.5L628.7 112.1L629.2 112.7L629.7 110.3L630.1 83.6L630.6 50.9L631.1 50.2L631.6 112.4L632.1 162.3L632.6 145.7L633.1 112.4L633.6 99.5L634.1 105.0L634.6 109.1L635.1 101.1L635.6 93.0L636.0 106.0L636.5 134.0L637.0 161.5L637.5 171.9L638.0 121.1L638.5 86.0L639.0 114.4L639.5 157.7L640.0 181.8L640.5 146.2L641.0 98.6L641.5 95.3L641.9 103.0L642.4 109.5L642.9 105.3L643.4 89.1L643.9 76.2L644.4 88.0L644.9 121.2L645.4 142.2L645.9 138.8L646.4 138.7L646.9 142.6L647.4 125.4L647.8 97.8L648.3 83.4L648.8 94.0L649.3 112.1L649.8 123.8L650.3 116.6L650.8 100.8L651.3 94.5L651.8 102.2L652.3 116.0L652.8 132.6L653.3 147.7L653.7 157.5L654.2 149.4L654.7 114.7L655.2 125.4L655.7 164.6L656.2 210.0L656.7 239.4L657.2 211.4L657.7 118.4L658.2 47.8L658.7 63.0L659.2 114.0L659.6 157.2L660.1 156.5L660.6 125.7L661.1 95.3L661.6 93.7L662.1 123.9L662.6 147.5L663.1 137.6L663.6 114.2L664.1 94.1L664.6 93.5L665.1 109.7L665.5 130.1L666.0 143.0L666.5 134.2L667.0 109.0L667.5 87.2L668.0 91.4L668.5 127.8L669.0 172.7L669.5 200.3L670.0 186.4L670.5 146.1L671.0 98.0L671.4 62.1L671.9 59.6L672.4 99.6L672.9 132.6L673.4 120.5L673.9 90.8L674.4 72.3L674.9 89.7L675.4 125.6L675.9 156.4L676.4 157.4L676.9 127.3L677.3 102.1L677.8 107.1L678.3 124.4L678.8 139.7L679.3 138.3L679.8 114.5L680.3 90.1L680.8 92.3L681.3 133.5L681.8 180.7L682.3 195.9L682.8 155.2L683.2 100.1L683.7 79.6L684.2 111.4L684.7 153.8L685.2 165.4L685.7 137.0L686.2 114.6L686.7 120.0L687.2 129.8L687.7 133.2L688.2 112.3L688.7 83.4L689.1 75.0L689.6 100.1L690.1 136.9L690.6 161.3L691.1 150.0L691.6 117.7L692.1 101.0L692.6 105.7L693.1 110.4L693.6 104.3L694.1 95.4L694.6 104.7L695.0 130.6L695.5 158.2L696.0 172.7L696.5 130.8L697.0 87.0L697.5 110.3L698.0 152.3L698.5 179.7L699.0 153.5L699.5 104.6L700.0 96.5L700.5 103.5L700.9 110.4L701.4 108.4L701.9 93.5L702.4 79.7L702.9 86.7L703.4 117.8L703.9 141.5L704.4 139.9L704.9 138.6L705.4 143.2L705.9 129.7L706.4 103.0L706.8 86.0L707.3 134.8L707.8 224.4L708.3 238.2L708.8 117.7L709.3 84.1L709.8 94.6L710.3 102.6L710.8 101.9L711.3 130.0L711.8 158.2L712.3 152.2L712.7 140.7L713.2 129.9L713.7 127.1L714.2 151.9L714.7 189.0L715.2 211.0L715.7 199.0L716.2 171.0L716.7 134.5L717.2 98.8L717.7 73.1L718.2 68.7L718.6 123.1L719.1 140.7L719.6 114.8L720.1 90.4L720.6 97.4L721.1 120.5L721.6 122.8L722.1 108.6L722.6 97.3L723.1 112.5L723.6 143.6L724.1 135.3L724.5 86.8L725.0 96.8L725.5 110.9L726.0 108.5L726.5 86.8L727.0 86.6L727.5 97.5L728.0 103.8L728.5 104.0L729.0 125.5L729.5 162.3L730.0 194.9L730.5 202.9L730.9 174.7L731.4 128.5L731.9 83.5L732.4 58.4L732.9 78.1L733.4 120.3L733.9 133.0L734.4 110.1L734.9 83.0L735.4 79.8L735.9 107.1L736.4 142.7L736.8 163.3L737.3 147.0L737.8 115.6L738.3 103.5L738.8 108.7L739.3 112.6L739.8 105.1L740.3 97.4L740.8 109.8L741.3 136.2L741.8 162.1L742.3 171.8L742.7 123.9L743.2 90.9L743.7 117.8L744.2 158.6L744.7 181.2L745.2 147.6L745.7 102.9L746.2 99.8L746.7 107.1L747.2 113.2L747.7 109.2L748.2 93.9L748.6 81.8L749.1 93.0L749.6 124.4L750.1 144.1L750.6 140.9L751.1 138.3L751.6 132.7L752.1 128.7L752.6 115.9L753.1 90.7L753.6 71.8L754.1 82.1L754.5 118.6L755.0 146.2L755.5 141.8L756.0 124.8L756.5 104.8L757.0 90.4L757.5 96.9L758.0 142.2L758.5 201.0L759.0 241.1L759.5 232.2L760.0 186.2L760.4 137.6L760.9 119.9L761.4 142.6L761.9 164.4L762.4 154.7L762.9 129.1L763.4 102.7L763.9 90.1L764.4 139.2L764.9 159.7L765.4 149.5L765.9 138.8L766.3 146.1L766.8 185.0L767.3 192.0L767.8 161.6L768.3 124.0L768.8 105.9L769.3 134.3L769.8 179.4L770.3 198.1L770.8 162.8L771.3 111.5L771.8 89.2L772.2 116.9L772.7 151.2L773.2 147.2L773.7 114.7L774.2 113.0L774.7 143.9L775.2 166.5L775.7 140.1L776.2 87.3L776.7 53.7L777.2 92.8L777.7 147.5L778.1 137.0L778.6 145.2L779.1 165.5L779.6 147.0L780.1 115.1L780.6 95.1L781.1 110.9L781.6 140.9L782.1 148.5L782.6 131.6L783.1 109.1L783.6 96.6L784.0 105.3L784.5 123.7L785.0 140.8L785.5 145.3L786.0 128.0L786.5 103.5L787.0 90.1L787.5 90.0L788.0 89.8L788.5 89.6L789.0 89.0L789.5 85.8L789.9 83.0L790.4 92.4L790.9 122.8L791.4 162.5L791.9 196.3L792.4 211.2L792.9 193.7L793.4 159.4L793.9 119.3L794.4 86.6L794.9 72.5L795.4 91.2L795.8 126.0L796.3 158.9L796.8 171.9L797.3 140.6L797.8 106.9L798.3 134.2L798.8 202.7L799.3 235.7L799.8 206.8L800.3 154.5L800.8 100.1L801.3 66.4L801.7 79.3L802.2 128.1L802.7 168.5L803.2 167.8L803.7 149.7L804.2 138.1L804.7 147.0L805.2 160.9L805.7 158.2L806.2 122.9L806.7 92.0L807.2 121.8L807.6 180.7L808.1 168.0L808.6 126.6L809.1 98.4L809.6 110.7L810.1 137.9L810.6 154.2L811.1 113.5L811.6 72.4L812.1 92.8L812.6 127.7L813.1 146.3L813.5 142.7L814.0 143.3L814.5 145.2L815.0 108.9L815.5 55.6L816.0 32.9L816.5 82.1L817.0 160.3L817.5 209.6L818.0 184.8L818.5 126.6L819.0 86.9L819.4 103.7L819.9 144.7L820.4 170.3L820.9 151.8L821.4 123.9L821.9 120.8L822.4 124.6L822.9 129.2L823.4 132.2L823.9 136.2L824.4 147.2L824.9 155.6L825.3 141.4L825.8 110.4L826.3 110.5L826.8 148.5L827.3 168.0L827.8 135.5L828.3 102.2L828.8 114.7L829.3 151.5L829.8 190.5L830.3 210.5L830.8 202.6L831.2 186.1L831.7 164.5L832.2 142.8L832.7 125.8L833.2 117.3L833.7 128.2L834.2 152.3L834.7 183.7L835.2 214.6L835.7 237.7L836.2 244.3L836.7 188.1L837.1 100.8L837.6 47.0L838.1 110.0L838.6 169.3L839.1 158.1L839.6 147.9L840.1 167.9L840.6 193.4L841.1 169.4L841.6 143.1L842.1 142.9L842.6 131.5L843.0 114.4L843.5 100.9L844.0 99.2L844.5 106.1L845.0 113.6L845.5 115.0L846.0 107.7L846.5 99.0L847.0 97.5L847.5 109.4L848.0 124.6L848.5 129.9L848.9 113.7L849.4 93.7L849.9 92.8L850.4 108.2L850.9 126.0L851.4 132.8L851.9 113.3L852.4 82.9L852.9 64.1L853.4 71.7L853.9 86.5L854.4 89.8L854.9 86.6L855.3 83.7L855.8 87.9L856.3 103.4L856.8 123.9L857.3 141.8L857.8 150.3L858.3 141.0L858.8 122.1L859.3 99.7L859.8 81.2L860.3 72.6L860.8 90.4L861.2 124.8L861.7 158.2L862.2 172.7L862.7 142.8L863.2 107.9L863.7 116.9L864.2 147.2L864.7 163.1L865.2 147.2L865.7 117.3L866.2 85.7L866.7 65.5L867.1 70.3L867.6 95.1L868.1 127.6L868.6 154.8L869.1 164.9L869.6 147.5L870.1 117.0L870.6 88.3L871.1 75.9L871.6 98.9L872.1 135.4L872.6 153.6L873.0 102.2L873.5 96.2L874.0 110.3L874.5 117.6L875.0 99.4L875.5 88.9L876.0 97.6L876.5 106.9L877.0 107.3L877.5 124.8L878.0 158.4L878.5 157.2L878.9 147.0L879.4 135.8L879.9 129.8L880.4 150.9L880.9 193.2L881.4 225.1L881.9 220.3L882.4 193.6L882.9 155.7L883.4 116.3L883.9 85.3L884.4 70.4L884.8 113.5L885.3 146.8L885.8 126.0L886.3 99.3L886.8 97.8L887.3 119.9L887.8 128.5L888.3 116.6L888.8 103.6L889.3 104.0L889.8 113.7L890.3 128.0L890.7 143.3L891.2 155.6L891.7 162.0L892.2 138.7L892.7 117.8L893.2 118.2L893.7 118.7L894.2 119.3L894.7 118.9L895.2 98.1L895.7 66.9L896.2 56.0L896.6 84.9L897.1 132.7L897.6 174.7L898.1 186.0L898.6 149.7L899.1 97.5L899.6 65.5L900.1 75.2L900.6 100.7L901.1 136.3L901.6 176.0L902.1 213.0L902.5 241.0L903.0 255.5L903.5 218.6L904.0 144.6L904.5 102.1L905.0 117.1L905.5 143.6L906.0 160.8L906.5 150.4L907.0 123.4L907.5 89.6L908.0 60.0L908.4 44.2L908.9 71.6L909.4 120.0L909.9 126.0L910.4 112.5L910.9 95.7L911.4 84.7L911.9 111.8L912.4 168.7L912.9 166.5L913.4 148.0L913.9 138.3L914.3 148.4L914.8 161.8L915.3 156.0L915.8 119.3L916.3 90.8L916.8 128.0L917.3 183.0L917.8 164.7L918.3 122.9L918.8 97.6L919.3 112.9L919.8 140.2L920.2 153.4L920.7 107.9L921.2 72.7L921.7 82.3L922.2 100.5L922.7 121.9L923.2 139.7L923.7 148.5L924.2 143.2L924.7 132.1L925.2 120.7L925.7 114.5L926.1 125.1L926.6 147.5L927.1 163.7L927.6 160.9L928.1 150.5L928.6 142.0L929.1 146.9L929.6 167.0L930.1 180.3L930.6 150.2L931.1 123.6L931.6 128.3L932.0 129.4L932.5 111.6L933.0 86.7L933.5 73.2L934.0 94.8L934.5 131.6L935.0 149.5L935.5 139.5L936.0 121.1L936.5 102.2L937.0 91.0L937.5 96.3L937.9 112.5L938.4 129.8L938.9 138.9L939.4 135.4L939.9 128.1L940.4 122.0L940.9 126.4L941.4 152.7L941.9 165.8L942.4 149.6L942.9 122.5L943.4 99.2L943.8 100.6L944.3 155.7L944.8 158.8L945.3 147.3L945.8 138.7L946.3 150.5L946.8 168.6L947.3 144.9L947.8 97.8L948.3 65.1L948.8 74.3L949.3 102.3L949.7 124.6L950.2 123.8L950.7 112.1L951.2 96.5L951.7 83.1L952.2 77.0L952.7 107.8L953.2 165.3L953.7 214.4L954.2 219.7L954.7 180.0L955.2 131.2L955.6 107.9L956.1 139.2L956.6 188.6L957.1 208.7L957.6 170.4L958.1 115.0L958.6 91.1L959.1 118.7L959.6 152.5L960.1 148.2L960.6 116.1L961.1 114.7L961.5 145.3L962.0 167.6L962.5 141.0L963.0 88.5L963.5 55.4L964.0 94.7L964.5 148.8L965.0 138.1L965.5 146.4L966.0 166.5L966.5 147.8L967.0 116.1L967.4 96.3L967.9 112.2L968.4 142.1L968.9 149.4L969.4 132.4L969.9 110.0L970.4 97.6L970.9 106.4L971.4 124.7L971.9 141.7L972.4 146.1L972.9 128.6L973.3 104.2L973.8 90.9L974.3 112.5L974.8 154.8L975.3 193.4L975.8 203.0L976.3 175.4L976.8 130.7L977.3 87.5L977.8 63.7L978.3 83.5L978.8 124.2L979.2 135.8L979.7 113.3L980.2 87.2L980.7 84.6L981.2 111.4L981.7 145.8L982.2 165.4L982.7 148.9L983.2 118.5L983.7 107.2L984.2 112.3L984.7 115.9L985.2 108.4L985.6 101.1L986.1 113.4L986.6 139.2L987.1 164.3L987.6 173.1L988.1 125.8L988.6 94.8L989.1 121.4L989.6 161.1L990.1 182.4L990.6 148.9L991.1 105.7L991.5 103.2L992.0 110.3L992.5 116.1L993.0 112.0L993.5 97.0L994.0 85.3L994.5 96.7L995.0 127.4L995.5 146.3L996.0 142.9L996.5 143.0L997.0 146.4L997.4 130.2L997.9 104.8L998.4 92.4L998.9 126.7L999.4 184.9L999.9 224.0L1000.4 199.8L1000.9 135.4L1001.4 88.3L1001.9 101.7L1002.4 142.3L1002.9 169.8L1003.3 153.7L1003.8 125.0L1004.3 125.0L1004.8 146.0L1005.3 164.4L1005.8 157.9L1006.3 128.3L1006.8 92.1L1007.3 67.0L1007.8 69.6L1008.3 94.6L1008.8 129.2L1009.2 161.0L1009.7 178.7L1010.2 172.8L1010.7 155.4L1011.2 136.7L1011.7 126.1L1012.2 133.6L1012.7 148.9L1013.2 153.9L1013.7 136.7L1014.2 116.7L1014.7 114.2L1015.1 119.8L1015.6 127.0L1016.1 132.4L1016.6 123.3L1017.1 80.9L1017.6 72.9L1018.1 83.7L1018.6 98.8L1019.1 112.0L1019.6 117.8L1020.1 121.6L1020.6 127.3L1021.0 129.0L1021.5 117.9L1022.0 104.3L1022.5 103.5L1023.0 112.7L1023.5 126.7L1024.0 142.1L1024.5 154.8L1025.0 161.8L1025.5 141.8L1026.0 117.8L1026.5 118.1L1026.9 118.7L1027.4 119.2L1027.9 119.4L1028.4 100.6L1028.9 69.1L1029.4 55.1L1029.9 84.1L1030.4 134.9L1030.9 179.9L1031.4 190.1L1031.9 152.2L1032.4 143.8L1032.8 139.1L1033.3 124.2L1033.8 107.5L1034.3 98.1L1034.8 101.5L1035.3 109.5L1035.8 115.3L1036.3 112.4L1036.8 103.4L1037.3 96.6L1037.8 101.3L1038.3 116.1L1038.7 128.6L1039.2 124.6L1039.7 103.8L1040.2 89.5L1040.7 125.0L1041.2 198.5L1041.7 258.4L1042.2 249.2L1042.7 170.9L1043.2 88.8L1043.7 64.7L1044.2 78.1L1044.6 89.5L1045.1 88.2L1045.6 84.7L1046.1 83.2L1046.6 93.0L1047.1 111.6L1047.6 131.9L1048.1 146.4L1048.6 147.2L1049.1 133.2L1049.6 111.9L1050.1 90.3L1050.5 75.4L1051.0 76.8L1051.5 103.4L1052.0 139.8L1052.5 167.1L1053.0 163.5L1053.5 124.1L1054.0 104.5L1054.5 106.9L1055.0 111.0L1055.5 114.4L1056.0 113.9L1056.4 106.2L1056.9 97.7L1057.4 97.3L1057.9 109.9L1058.4 124.7L1058.9 128.4L1059.4 111.0L1059.9 91.8L1060.4 92.8L1060.9 108.9L1061.4 126.2L1061.9 131.1L1062.3 110.1L1062.8 79.8L1063.3 62.7L1063.8 98.3L1064.3 169.1L1064.8 227.3L1065.3 227.1L1065.8 177.1L1066.3 120.4L1066.8 97.0L1067.3 108.3L1067.8 127.2L1068.2 142.8L1068.7 143.1L1069.2 123.1L1069.7 99.4L1070.2 91.8L1070.7 126.1L1071.2 182.0L1071.7 227.1L1072.2 229.8L1072.7 190.8L1073.2 134.4L1073.7 84.4L1074.1 61.8L1074.6 99.1L1075.1 152.8L1075.6 158.9L1076.1 114.1L1076.6 65.9L1077.1 64.4L1077.6 125.7L1078.1 146.8L1078.6 134.4L1079.1 158.6L1079.6 158.8L1080.0 130.8L1080.5 101.9L1081.0 98.7L1081.5 126.2L1082.0 149.1L1082.5 141.1L1083.0 119.5L1083.5 100.3L1084.0 102.4L1084.5 135.7L1085.0 163.5L1085.5 141.3L1085.9 82.8L1086.4 36.5L1086.9 52.9L1087.4 116.8L1087.9 149.5L1088.4 135.6L1088.9 113.1L1089.4 97.3L1089.9 101.6L1090.4 118.5L1090.9 136.8L1091.4 145.8L1091.8 132.1L1092.3 107.6L1092.8 90.4L1093.3 105.6L1093.8 151.5L1094.3 200.1L1094.8 222.7L1095.3 197.9L1095.8 150.1L1096.3 98.8L1096.8 65.4L1097.3 73.5L1097.7 113.9L1098.2 136.0L1098.7 117.8L1099.2 90.0L1099.7 81.0L1100.2 126.7L1100.7 185.9L1101.2 196.4L1101.7 154.7L1102.2 109.9L1102.7 104.6L1103.2 127.4L1103.6 152.0L1104.1 156.9L1104.6 139.7L1105.1 112.1L1105.6 83.0L1106.1 61.9L1106.6 61.3L1107.1 100.0L1107.6 126.9L1108.1 118.4L1108.6 102.2L1109.1 87.1L1109.6 83.4L1110.0 115.0L1110.5 156.9L1111.0 169.9L1111.5 154.5L1112.0 138.2L1112.5 140.0L1113.0 154.0L1113.5 161.8L1114.0 135.8L1114.5 98.0L1115.0 98.2L1115.5 161.7L1115.9 176.5L1116.4 140.3L1116.9 102.8L1117.4 100.7L1117.9 125.4L1118.4 148.5L1118.9 132.6L1119.4 78.4L1119.9 74.2L1120.4 89.0L1120.9 109.7L1121.4 130.0L1121.8 143.5L1122.3 144.4L1122.8 135.4L1123.3 123.4L1123.8 114.2L1124.3 119.5L1124.8 160.8L1125.3 216.7L1125.8 257.2L1126.3 244.5L1126.8 169.6L1127.3 99.9L1127.7 97.0L1128.2 132.8L1128.7 156.0L1129.2 132.2L1129.7 106.4L1130.2 146.7L1130.7 219.1L1131.2 231.8L1131.7 160.3L1132.2 77.5L1132.7 60.7L1133.2 120.5L1133.6 147.1L1134.1 132.8L1134.6 156.1L1135.1 159.2L1135.6 132.2L1136.1 102.6L1136.6 96.7L1137.1 123.2L1137.6 147.6L1138.1 141.5L1138.6 120.3L1139.1 100.5L1139.5 97.4L1140.0 111.3L1140.5 130.5L1141.0 143.8L1141.5 138.4L1142.0 115.7L1142.5 94.0L1143.0 96.1L1143.5 140.7L1144.0 194.2L1144.5 216.8L1145.0 206.5L1145.4 187.2L1145.9 163.2L1146.4 139.8L1146.9 122.4L1147.4 115.3L1147.9 126.0L1148.4 146.5L1148.9 171.9L1149.4 196.1L1149.9 213.1L1150.4 212.6L1150.9 156.6L1151.3 81.8L1151.8 44.6L1152.3 123.4L1152.8 166.2L1153.3 153.7L1153.8 146.1L1154.3 170.5L1154.8 192.2L1155.3 160.7L1155.8 139.4L1156.3 125.9L1156.8 105.6L1157.2 90.5L1157.7 87.2L1158.2 83.8L1158.7 81.2L1159.2 87.3L1159.7 103.9L1160.2 124.6L1160.7 141.4L1161.2 147.4L1161.7 136.5L1162.2 116.7L1162.7 94.4L1163.1 77.0L1163.6 71.4L1164.1 92.4L1164.6 127.8L1165.1 159.5L1165.6 168.5L1166.1 134.3L1166.6 103.6L1167.1 118.6L1167.6 148.9L1168.1 159.7L1168.6 141.3L1169.0 110.2L1169.5 79.5L1170.0 61.8L1170.5 70.7L1171.0 97.4L1171.5 129.9L1172.0 155.3L1172.5 161.4L1173.0 141.4L1173.5 110.2L1174.0 82.9L1174.5 75.1L1174.9 101.7L1175.4 137.6L1175.9 147.7L1176.4 94.0L1176.9 95.7L1177.4 109.9L1177.9 114.1L1178.4 94.0L1178.9 87.4L1179.4 97.0L1179.9 105.3L1180.4 104.9L1180.8 142.1L1181.3 210.8L1181.8 223.8L1182.3 161.0L1182.8 117.6L1183.3 131.4L1183.8 153.9L1184.3 163.5L1184.8 143.7L1185.3 108.9L1185.8 75.8L1186.3 61.1L1186.7 77.1L1187.2 108.0L1187.7 142.9L1188.2 169.3L1188.7 176.0L1189.2 163.2L1189.7 143.9L1190.2 128.0L1190.7 124.5L1191.2 131.7L1191.7 140.6L1192.2 143.8L1192.6 139.8L1193.1 141.9L1193.6 142.3L1194.1 122.3L1194.6 97.8L1195.1 93.0L1195.6 126.8L1196.1 172.5L1196.6 195.6L1197.1 164.3L1197.6 111.9L1198.1 83.0L1198.5 107.6L1199.0 148.6L1199.5 167.6L1200.0 144.4L1200.5 119.2L1201.0 126.5L1201.5 148.8L1202.0 163.9L1202.5 150.5L1203.0 117.9L1203.5 82.7L1204.0 62.0L1204.4 71.5L1204.9 99.6L1205.4 134.8L1205.9 164.2L1206.4 177.3L1206.9 167.3L1207.4 148.7L1207.9 131.0L1208.4 123.8L1208.9 134.7L1209.4 149.3L1209.9 149.3L1210.3 129.3L1210.8 112.0L1211.3 111.1L1211.8 112.2L1212.3 113.3L1212.8 112.6L1213.3 103.5L1213.8 100.0L1214.3 117.0L1214.8 144.0L1215.3 166.6L1215.8 163.5L1216.2 109.4L1216.7 96.5L1217.2 129.3L1217.7 167.2L1218.2 176.1L1218.7 133.6L1219.2 99.0L1219.7 127.0L1220.2 164.3L1220.7 148.2L1221.2 102.1L1221.7 65.3L1222.1 69.1L1222.6 95.9L1223.1 120.4L1223.6 122.6L1224.1 111.8L1224.6 96.4L1225.1 82.3L1225.6 74.8L1226.1 95.6L1226.6 143.5L1227.1 188.7L1227.6 200.3L1228.0 170.7L1228.5 129.7L1229.0 105.7L1229.5 113.5L1230.0 185.3L1230.5 324.8L1231.0 407.4L1231.5 440.3L1232.0 466.0L1232.5 499.9L1233.0 523.3L1233.5 558.9L1234.0 554.8L1234.4 569.9L1234.9 562.9L1235.4 579.2L1235.9 574.4L1236.4 589.8L1236.9 581.4L1237.4 604.7L1237.9 591.2L1238.4 610.9L1238.9 603.5L1239.4 618.6L1239.9 607.2L1240.3 621.4L1240.8 611.4L1241.3 625.2L1241.8 612.4L1242.3 636.3L1242.8 614.7L1243.3 634.3L1243.8 622.7L1244.3 639.0L1244.8 622.8L1245.3 641.2L1245.8 626.4L1246.2 658.1L1246.7 633.6L1247.2 650.3L1247.7 633.9L1248.2 654.8L1248.7 634.7L1249.2 656.7L1249.7 640.2L1250.2 664.0L1250.7 635.9L1251.2 661.6L1251.7 643.5L1252.1 664.2L1252.6 645.9L1253.1 667.5L1253.6 645.3L1254.1 675.8L1254.6 648.4L1255.1 673.4L1255.6 653.4L1256.1 678.5L1256.6 657.4L1257.1 683.3L1257.6 656.7L1258.0 680.7L1258.5 652.6L1259.0 686.2L1259.5 663.9L1260.0 710.0L1260.5 661.0L1261.0 688.6L1261.5 658.9L1262.0 689.9L1262.5 666.2L1263.0 694.4L1263.5 672.3L1263.9 701.9L1264.4 663.5L1264.9 711.2L1265.4 664.7L1265.9 699.4L1266.4 667.4L1266.9 710.5L1267.4 671.8L1267.9 718.4L1268.4 668.5L1268.9 708.9L1269.4 674.8L1269.8 723.9L1270.3 669.5L1270.8 709.2L1271.3 674.0L1271.8 719.3L1272.3 668.6L1272.8 734.7L1273.3 683.9L1273.8 724.5L1274.3 678.2L1274.8 742.2L1275.3 681.0L1275.7 720.4L1276.2 678.5L1276.7 735.0L1277.2 680.4L1277.7 741.3L1278.2 694.5L1278.7 724.9L1279.2 674.4L1279.7 731.0L1280.2 691.2L1280.7 736.9L1281.2 686.8L1281.6 735.0L1282.1 690.7L1282.6 747.8L1283.1 699.2L1283.6 750.0L1284.1 683.3L1284.6 741.4L1285.1 694.7L1285.6 757.5L1286.1 680.9L1286.6 741.7L1287.1 692.4L1287.5 741.7L1288.0 694.9L1288.5 741.6L1289.0 709.2L1289.5 743.4L1290.0 699.9L1290.5 751.5L1291.0 699.2L1291.5 748.9L1292.0 699.1L1292.5 750.5L1293.0 699.0L1293.4 750.9L1293.9 693.6L1294.4 762.6L1294.9 706.1L1295.4 769.2L1295.9 706.9L1296.4 769.5L1296.9 695.8L1297.4 760.1L1297.9 709.4L1298.4 757.3L1298.9 704.3L1299.3 773.2L1299.8 694.5L1300.3 767.6L1300.8 705.0L1301.3 760.0L1301.8 713.9L1302.3 762.1L1302.8 720.0L1303.3 766.6L1303.8 715.0L1304.3 765.3L1304.8 708.8L1305.2 799.7L1305.7 717.3L1306.2 799.3L1306.7 729.4L1307.2 794.5L1307.7 712.8L1308.2 777.7L1308.7 731.7L1309.2 775.6L1309.7 713.1L1310.2 784.4L1310.7 721.5L1311.1 795.4L1311.6 729.4L1312.1 788.5L1312.6 717.6L1313.1 789.0L1313.6 732.6L1314.1 792.8L1314.6 720.5L1315.1 834.0L1315.6 725.8L1316.1 788.0L1316.6 720.5L1317.0 815.4L1317.5 730.6L1318.0 790.4L1318.5 724.6L1319.0 806.6L1319.5 717.5L1320.0 790.9L1320.5 726.5L1321.0 786.5L1321.5 726.1L1322.0 817.1L1322.5 721.2L1322.9 789.6L1323.4 729.4L1323.9 790.1L1324.4 722.1L1324.9 793.7L1325.4 728.4L1325.9 812.0L1326.4 734.1L1326.9 796.7L1327.4 737.1L1327.9 795.4L1328.4 722.5L1328.8 806.8L1329.3 732.9L1329.8 832.3L1330.3 734.3L1330.8 801.4L1331.3 726.5L1331.8 812.6L1332.3 745.2L1332.8 800.9L1333.3 733.1L1333.8 804.6L1334.3 749.2L1334.7 804.3L1335.2 734.4L1335.7 803.1L1336.2 736.1L1336.7 804.8L1337.2 753.8L1337.7 827.5L1338.2 744.3L1338.7 837.0L1339.2 738.2L1339.7 807.9L1340.2 749.9L1340.6 810.8L1341.1 737.8L1341.6 847.2L1342.1 742.1L1342.6 833.2L1343.1 740.8L1343.6 816.8L1344.1 733.7L1344.6 816.1L1345.1 730.2L1345.6 849.8L1346.1 735.3L1346.5 824.5L1347.0 742.7L1347.5 831.8L1348.0 746.0L1348.5 817.7L1349.0 745.7L1349.5 840.0L1350.0 747.5L1350.5 821.4L1351.0 741.1L1351.5 828.1L1352.0 732.9L1352.4 825.2L1352.9 757.9L1353.4 822.5L1353.9 734.0L1354.4 831.4L1354.9 748.1L1355.4 824.7L1355.9 760.0L1356.4 834.6L1356.9 758.0L1357.4 832.4L1357.9 735.3L1358.4 835.4L1358.8 754.0L1359.3 844.3L1359.8 747.9L1360.3 834.6L1360.8 751.1L1361.3 853.1L1361.8 769.3L1362.3 839.8L1362.8 770.0L1363.3 833.0L1363.8 756.4L1364.3 836.1L1364.7 739.6L1365.2 844.5L1365.7 760.6L1366.2 846.5L1366.7 766.0L1367.2 838.4L1367.7 764.6L1368.2 852.0L1368.7 760.0L1369.2 857.8L1369.7 761.8L1370.2 841.8L1370.6 748.9L1371.1 856.9L1371.6 776.2L1372.1 845.0L1372.6 752.8L1373.1 864.9L1373.6 772.5L1374.1 864.8L1374.6 770.7L1375.1 853.1L1375.6 773.4L1376.1 852.0L1376.5 754.0L1377.0 914.7L1377.5 765.5L1378.0 884.6L1378.5 767.8L1379.0 855.2L1379.5 750.0L1380.0 863.2L1380.5 772.9L1381.0 855.0L1381.5 772.7L1382.0 863.9L1382.4 771.3L1382.9 855.2L1383.4 757.3L1383.9 879.7L1384.4 757.0L1384.9 860.8L1385.4 777.4L1385.9 905.4L1386.4 772.2L1386.9 858.2L1387.4 764.5L1387.9 867.3L1388.3 786.5L1388.8 876.1L1389.3 772.1L1389.8 879.1L1390.3 772.8L1390.8 867.0L1391.3 788.4L1391.8 877.9L1392.3 775.6L1392.8 875.6L1393.3 764.5L1393.8 869.5L1394.2 767.8L1394.7 875.0L1395.2 764.8L1395.7 879.4L1396.2 781.8L1396.7 903.3L1397.2 783.6L1397.7 877.4L1398.2 758.8L1398.7 882.2L1399.2 780.6L1399.7 895.8L1400.1 765.2L1400.6 870.9L1401.1 775.1L1401.6 881.9L1402.1 774.7L1402.6 875.7L1403.1 792.1L1403.6 873.9L1404.1 796.3L1404.6 877.6L1405.1 795.3L1405.6 878.4L1406.0 782.9L1406.5 877.5L1407.0 785.4L1407.5 893.6L1408.0 788.8L1408.5 883.2L1409.0 781.9L1409.5 883.1L1410.0 771.4L1410.5 905.5L1411.0 774.0L1411.5 891.5L1411.9 783.9L1412.4 891.8L1412.9 794.3L1413.4 902.6L1413.9 795.7L1414.4 956.9L1414.9 784.5L1415.4 907.7L1415.9 777.8L1416.4 891.4L1416.9 792.7L1417.4 892.0L1417.8 797.3L1418.3 896.6L1418.8 786.6L1419.3 906.2L1419.8 780.2L1420.3 895.4L1420.8 791.0L1421.3 901.0L1421.8 788.2L1422.3 906.6L1422.8 802.2L1423.3 934.8L1423.7 808.4L1424.2 917.3L1424.7 808.9L1425.2 908.4L1425.7 786.8L1426.2 921.0L1426.7 798.3L1427.2 910.9L1427.7 777.6L1428.2 898.1L1428.7 793.2L1429.2 906.0L1429.6 799.0L1430.1 902.8L1430.6 797.9L1431.1 900.2L1431.6 805.2L1432.1 904.4L1432.6 806.0L1433.1 903.9L1433.6 804.9L1434.1 901.5L1434.6 792.2L1435.1 911.3L1435.5 788.9L1436.0 907.6L1436.5 807.6L1437.0 912.1L1437.5 792.7L1438.0 928.5L1438.5 783.5L1439.0 921.3L1439.5 788.6L1440.0 970.1L1440.5 795.8L1441.0 935.2L1441.4 800.6L1441.9 908.0L1442.4 790.3L1442.9 910.4L1443.4 787.3L1443.9 923.4L1444.4 804.0L1444.9 931.4L1445.4 799.9L1445.9 919.9L1446.4 797.4L1446.9 915.8L1447.3 791.9L1447.8 914.3L1448.3 799.2L1448.8 912.9L1449.3 792.0L1449.8 912.7L1450.3 792.7L1450.8 927.0L1451.3 801.9L1451.8 917.8L1452.3 811.6L1452.8 939.7L1453.2 804.5L1453.7 916.2L1454.2 795.4L1454.7 919.4L1455.2 784.3L1455.7 916.7L1456.2 807.6L1456.7 931.2L1457.2 819.0L1457.7 932.0L1458.2 799.6L1458.7 951.4L1459.1 810.8L1459.6 914.2L1460.1 811.3L1460.6 919.7L1461.1 804.9L1461.6 920.8L1462.1 808.5L1462.6 924.6L1463.1 797.7L1463.6 924.0L1464.1 813.1L1464.6 939.6L1465.0 813.0L1465.5 919.9L1466.0 805.9L1466.5 953.0L1467.0 828.5L1467.5 934.3L1468.0 814.1L1468.5 939.5L1469.0 808.6L1469.5 943.3L1470.0 807.1L1470.5 950.7L1470.9 811.3L1471.4 929.1L1471.9 816.2L1472.4 937.4L1472.9 811.7L1473.4 931.0L1473.9 801.9L1474.4 939.9L1474.9 826.2L1475.4 938.1L1475.9 815.4L1476.4 932.8L1476.8 804.2L1477.3 937.8L1477.8 819.4L1478.3 927.5L1478.8 815.1L1479.3 931.8L1479.8 807.4L1480.3 931.1L1480.8 814.6L1481.3 963.1L1481.8 823.3L1482.3 935.3L1482.8 821.4L1483.2 942.6L1483.7 809.3L1484.2 957.0L1484.7 823.7L1485.2 999.1L1485.7 816.1L1486.2 953.4L1486.7 805.9L1487.2 942.1L1487.7 822.0L1488.2 936.0L1488.7 819.9L1489.1 939.5L1489.6 812.0L1490.1 999.8L1490.6 826.2L1491.1 970.2L1491.6 811.5L1492.1 977.6L1492.6 825.3L1493.1 941.1L1493.6 807.0L1494.1 953.2L1494.6 811.6L1495.0 944.8L1495.5 812.0L1496.0 948.9L1496.5 830.6L1497.0 951.1L1497.5 822.5L1498.0 963.5L1498.5 832.6L1499.0 937.7L1499.5 813.3L1500.0 938.2L1500.5 827.5L1500.9 941.5L1501.4 821.7L1501.9 939.4L1502.4 814.1L1502.9 937.5L1503.4 820.1L1503.9 945.2L1504.4 839.4L1504.9 940.3L1505.4 815.6L1505.9 945.4L1506.4 817.2L1506.8 940.2L1507.3 813.5L1507.8 948.6L1508.3 843.8L1508.8 947.5L1509.3 848.3L1509.8 975.6L1510.3 829.3L1510.8 959.5L1511.3 835.4L1511.8 955.0L1512.3 835.5L1512.7 987.7L1513.2 855.5L1513.7 969.8L1514.2 851.9L1514.7 954.6L1515.2 835.9L1515.7 966.3L1516.2 832.8L1516.7 1015.5L1517.2 834.1L1517.7 969.1L1518.2 826.1L1518.6 951.7L1519.1 821.5L1519.6 1020.6L1520.1 827.1L1520.6 941.4L1521.1 840.3L1521.6 954.7L1522.1 836.9L1522.6 972.8L1523.1 844.1L1523.6 947.9L1524.1 833.6L1524.5 960.5L1525.0 835.6L1525.5 955.8L1526.0 838.2L1526.5 969.7L1527.0 843.8L1527.5 974.2L1528.0 842.3L1528.5 1012.3L1529.0 831.8L1529.5 959.8L1530.0 826.9L1530.4 962.6L1530.9 840.8L1531.4 977.9L1531.9 844.6L1532.4 974.6L1532.9 846.3L1533.4 965.5L1533.9 836.7L1534.4 958.7L1534.9 847.6L1535.4 970.8L1535.9 834.8L1536.3 958.4L1536.8 861.7L1537.3 993.0L1537.8 865.6L1538.3 966.3L1538.8 861.1L1539.3 966.2L1539.8 845.8L1540.3 972.4L1540.8 836.2L1541.3 952.5L1541.8 837.9L1542.2 962.3L1542.7 845.7L1543.2 970.3L1543.7 855.4L1544.2 980.4L1544.7 860.5L1545.2 971.0L1545.7 839.9L1546.2 970.2L1546.7 841.7L1547.2 979.1L1547.7 841.6L1548.1 967.0L1548.6 849.3L1549.1 978.4L1549.6 861.8L1550.1 973.9L1550.6 865.7L1551.1 977.2L1551.6 854.4L1552.1 973.3L1552.6 853.5L1553.1 962.1L1553.6 844.8L1554.0 960.5L1554.5 855.5L1555.0 978.5L1555.5 864.9L1556.0 980.0L1556.5 859.3L1557.0 989.9L1557.5 866.5L1558.0 1016.7L1558.5 844.8L1559.0 954.8L1559.5 831.9L1559.9 1017.6L1560.4 844.5L1560.9 971.4L1561.4 856.2L1561.9 1013.0L1562.4 863.3L1562.9 968.2L1563.4 842.1L1563.9 990.9L1564.4 861.1L1564.9 1001.2L1565.4 870.9L1565.8 996.1L1566.3 864.8L1566.8 1012.1L1567.3 857.3L1567.8 978.4L1568.3 860.7L1568.8 980.7L1569.3 833.4L1569.8 964.6L1570.3 841.6L1570.8 981.1L1571.3 860.3L1571.7 992.6L1572.2 874.7L1572.7 987.7L1573.2 875.3L1573.7 989.5L1574.2 865.4L1574.7 976.6L1575.2 852.1L1575.7 985.5L1576.2 872.1L1576.7 994.4L1577.2 843.6L1577.6 971.8L1578.1 853.0L1578.6 973.0L1579.1 852.4L1579.6 1002.7L1580.1 855.8L1580.6 1003.0L1581.1 849.6L1581.6 1008.2L1582.1 851.0L1582.6 996.9L1583.1 867.2L1583.5 979.3L1584.0 882.5L1584.5 998.9L1585.0 868.6L1585.5 999.9L1586.0 876.5L1586.5 1011.4L1587.0 894.5L1587.5 1002.9L1588.0 865.4L1588.5 980.0L1589.0 861.3L1589.4 990.6L1589.9 847.4L1590.4 1000.2L1590.9 887.6L1591.4 1006.1L1591.9 878.6L1592.4 1012.1L1592.9 881.2L1593.4 1010.4L1593.9 888.4L1594.4 1004.2L1594.9 874.0L1595.3 1015.7L1595.8 872.6L1596.3 1012.0L1596.8 884.4L1597.3 1004.1L1597.8 894.5L1598.3 1010.2L1598.8 869.9L1599.3 999.5L1599.8 862.6L1600.3 997.0L1600.8 860.0L1601.2 967.4L1601.7 834.2L1602.2 1012.2L1602.7 894.6L1603.2 995.4L1603.7 869.2L1604.2 1005.2L1604.7 889.5L1605.2 1001.7L1605.7 891.4L1606.2 977.9L1606.7 874.9L1607.1 969.3L1607.6 864.9L1608.1 1001.4L1608.6 846.0L1609.1 993.5L1609.6 895.9L1610.1 1002.4L1610.6 890.2L1611.1 1008.0L1611.6 869.7L1612.1 1001.9L1612.6 882.1L1613.1 974.8L1613.5 869.8L1614.0 995.4L1614.5 902.9L1615.0 1013.8L1615.5 905.8L1616.0 1025.6L1616.5 889.8L1617.0 1035.3L1617.5 879.1L1618.0 986.2L1618.5 867.3L1619.0 1005.8L1619.4 880.3L1619.9 1003.2L1620.4 902.0L1620.9 997.4L1621.4 888.2L1621.9 1014.0L1622.4 925.7L1622.9 1003.5L1623.4 874.9L1623.9 972.6L1624.4 881.9L1624.9 1002.9L1625.3 877.7L1625.8 982.7L1626.3 871.4L1626.8 973.7L1627.3 856.5L1627.8 992.5L1628.3 884.6L1628.8 994.0L1629.3 914.7L1629.8 1039.2L1630.3 914.0L1630.8 1007.1L1631.2 884.8L1631.7 999.3L1632.2 875.5L1632.7 1024.1L1633.2 917.4L1633.7 1055.8L1634.2 969.3L1634.7 1059.6L1635.2 933.6L1635.7 1018.6L1636.2 888.9L1636.7 971.3L1637.1 875.2L1637.6 1008.3L1638.1 903.8L1638.6 1038.6L1639.1 939.6L1639.6 1013.1L1640.1 894.1L1640.6 1016.2L1641.1 923.7L1641.6 1052.9L1642.1 963.3L1642.6 1027.9L1643.0 913.0L1643.5 1009.8L1644.0 899.0L1644.5 1007.2L1645.0 896.6L1645.5 1020.1L1646.0 918.2L1646.5 1028.5L1647.0 918.9L1647.5 996.9L1648.0 930.2L1648.5 1045.0L1648.9 950.2L1649.4 1038.8L1649.9 956.0L1650.4 1080.5L1650.9 998.5L1651.4 1132.8L1651.9 1047.5L1652.4 1083.4L1652.9 970.8L1653.4 1042.0L1653.9 929.5L1654.4 1004.8L1654.8 904.7L1655.3 1002.0L1655.8 882.6L1656.3 976.5L1656.8 902.9L1657.3 1040.1L1657.8 950.7L1658.3 1048.9L1658.8 939.6L1659.3 1019.9L1659.8 899.8L1660.3 1009.6L1660.7 942.9L1661.2 1133.5L1661.7 1022.5L1662.2 1043.7L1662.7 938.0L1663.2 1025.4L1663.7 935.7L1664.2 1064.6L1664.7 949.9L1665.2 1031.4L1665.7 942.7L1666.2 1055.2L1666.6 934.6L1667.1 1048.0L1667.6 962.3L1668.1 1092.4L1668.6 990.0L1669.1 1063.7L1669.6 970.0L1670.1 1073.0L1670.6 958.7L1671.1 1041.4L1671.6 957.4L1672.1 1037.8L1672.5 932.4L1673.0 1056.9L1673.5 949.9L1674.0 1045.1L1674.5 968.8L1675.0 1022.5L1675.5 938.7L1676.0 1035.9L1676.5 950.7L1677.0 1096.9L1677.5 974.1L1678.0 1070.3L1678.4 1013.7L1678.9 1104.6L1679.4 966.1L1679.9 1055.8L1680.4 945.7L1680.9 1023.9L1681.4 918.0L1681.9 1048.2L1682.4 988.0L1682.9 1075.0L1683.4 943.8L1683.9 1047.2L1684.3 974.0L1684.8 1089.2L1685.3 975.6L1685.8 1028.3L1686.3 940.1L1686.8 1088.1L1687.3 983.9L1687.8 1086.9L1688.3 983.5L1688.8 1039.5L1689.3 967.6L1689.8 1051.6L1690.2 962.5L1690.7 1046.9L1691.2 967.0L1691.7 1081.0L1692.2 1002.3L1692.7 1098.6L1693.2 973.9L1693.7 1017.9L1694.2 906.9L1694.7 1028.8L1695.2 978.2L1695.7 1071.0L1696.1 920.5L1696.6 988.0L1697.1 922.9L1697.6 1041.5L1698.1 984.3L1698.6 1155.2L1699.1 1056.4L1699.6 1104.1L1700.1 990.7L1700.6 1119.1L1701.1 980.0L1701.6 1059.5L1702.0 999.3L1702.5 1119.5L1703.0 1052.8L1703.5 1161.8L1704.0 1008.8L1704.5 1083.0L1705.0 987.9L1705.5 1053.1L1706.0 954.5L1706.5 1024.8L1707.0 990.7L1707.5 1104.8L1707.9 1045.6L1708.4 1107.4L1708.9 1009.8L1709.4 1072.4L1709.9 977.5L1710.4 1076.2L1710.9 989.2L1711.4 1085.5L1711.9 955.8L1712.4 1070.0L1712.9 1061.1L1713.4 1204.9L1713.8 1110.0L1714.3 1171.5L1714.8 1077.1L1715.3 1130.0L1715.8 1077.9L1716.3 1107.5L1716.8 1007.8L1717.3 1081.1L1717.8 1028.8L1718.3 1156.9L1718.8 1014.9L1719.3 1066.3L1719.7 985.3L1720.2 1064.0L1720.7 999.5L1721.2 1079.2L1721.7 1030.3L1722.2 1125.3L1722.7 1019.0L1723.2 1077.8L1723.7 1008.2L1724.2 1096.3L1724.7 1073.5L1725.2 1170.1L1725.6 1114.8L1726.1 1191.2L1726.6 1144.3L1727.1 1212.7L1727.6 1091.5L1728.1 1197.5L1728.6 1174.2L1729.1 1164.5L1729.6 1042.7L1730.1 1165.6L1730.6 1086.2L1731.1 1174.7L1731.5 1087.5L1732.0 1117.8L1732.5 1034.6L1733.0 1109.8L1733.5 1025.7L1734.0 1048.9L1734.5 988.2L1735.0 1082.1L1735.5 1032.7L1736.0 1123.4L1736.5 1076.3L1737.0 1181.7L1737.5 1075.7L1737.9 1081.5L1738.4 1041.7L1738.9 1117.7L1739.4 1075.6L1739.9 1191.0L1740.4 1125.7L1740.9 1158.2L1741.4 1061.5L1741.9 1091.6L1742.4 1055.3L1742.9 1112.0L1743.4 1034.3L1743.8 1140.7L1744.3 1096.5L1744.8 1134.0L1745.3 1041.0L1745.8 1129.4L1746.3 1081.4L1746.8 1202.3L1747.3 1085.9L1747.8 1129.3L1748.3 1047.4L1748.8 1122.2L1749.3 1114.9L1749.7 1120.2L1750.2 1042.6L1750.7 1138.8L1751.2 1055.9L1751.7 1140.5L1752.2 1104.3L1752.7 1134.2L1753.2 1005.8L1753.7 1070.6L1754.2 1047.7L1754.7 1185.0L1755.2 1217.4L1755.6 1280.6L1756.1 1158.2L1756.6 1162.7L1757.1 1140.5L1757.6 1205.2L1758.1 1120.5L1758.6 1129.7L1759.1 1073.8L1759.6 1142.1L1760.1 1089.4L1760.6 1096.9L1761.1 1027.8L1761.5 1085.9L1762.0 1063.3L1762.5 1169.1L1763.0 1090.6L1763.5 1147.9L1764.0 1096.0L1764.5 1129.8L1765.0 1072.2L1765.5 1162.9L1766.0 1150.7L1766.5 1178.7L1767.0 1114.2L1767.4 1159.1L1767.9 1073.2L1768.4 1120.6L1768.9 1115.1L1769.4 1140.5L1769.9 1095.3L1770.4 1150.8L1770.9 1119.4L1771.4 1192.6L1771.9 1110.8L1772.4 1144.4L1772.9 1099.4L1773.3 1145.6L1773.8 1135.3L1774.3 1173.1L1774.8 1129.8L1775.3 1128.5L1775.8 1054.6L1776.3 1070.6L1776.8 1084.6L1777.3 1230.8L1777.8 1213.0L1778.3 1189.9L1778.8 1152.7L1779.2 1195.5L1779.7 1200.8L1780.2 1249.3L1780.7 1124.8L1781.2 1144.6L1781.7 1121.3L1782.2 1191.4L1782.7 1189.9L1783.2 1186.7L1783.7 1128.0L1784.2 1124.9L1784.7 1063.3L1785.1 1077.2L1785.6 1076.2L1786.1 1148.1L1786.6 1141.2L1787.1 1198.2L1787.6 1152.8L1788.1 1199.7L1788.6 1109.8L1789.1 1120.0L1789.6 1097.6L1790.1 1168.9L1790.6 1138.8L1791.0 1137.1L1791.5 1100.5L1792.0 1192.7L1792.5 1165.0L1793.0 1152.8L1793.5 1119.1L1794.0 1167.6L1794.5 1106.2L1795.0 1103.2L1795.5 1085.1L1796.0 1179.4L1796.5 1159.6L1796.9 1158.0L1797.4 1152.5L1797.9 1164.3L1798.4 1118.7L1798.9 1147.6L1799.4 1161.0L1799.9 1222.8L1800.4 1211.2L1800.9 1266.8L1801.4 1151.7L1801.9 1105.2L1802.4 1060.5L1802.8 1122.0L1803.3 1128.3L1803.8 1174.1L1804.3 1155.2L1804.8 1129.7L1805.3 1076.4L1805.8 1154.1L1806.3 1151.6L1806.8 1153.3L1807.3 1098.6L1807.8 1095.0L1808.3 1069.4L1808.7 1093.9L1809.2 1097.7L1809.7 1143.9L1810.2 1139.1L1810.7 1166.5L1811.2 1172.1L1811.7 1241.3L1812.2 1243.9L1812.7 1251.2L1813.2 1200.5L1813.7 1197.8L1814.2 1134.0L1814.6 1160.7L1815.1 1165.9L1815.6 1196.0L1816.1 1090.6L1816.6 1142.2L1817.1 1146.7L1817.6 1217.4L1818.1 1152.7L1818.6 1145.7L1819.1 1102.7L1819.6 1134.7L1820.1 1111.4L1820.5 1160.8L1821.0 1101.9L1821.5 1158.4L1822.0 1175.8L1822.5 1201.6L1823.0 1176.8L1823.5 1187.8L1824.0 1171.2L1824.5 1192.7L1825.0 1153.3L1825.5 1151.7L1826.0 1147.9L1826.4 1139.5L1826.9 1143.4L1827.4 1202.4L1827.9 1197.8L1828.4 1189.9L1828.9 1155.5L1829.4 1181.6L1829.9 1165.2L1830.4 1156.8L1830.9 1109.8L1831.4 1162.5L1831.9 1197.7L1832.3 1224.2L1832.8 1161.6L1833.3 1176.5L1833.8 1125.4L1834.3 1112.6L1834.8 1062.6L1835.3 1094.7L1835.8 1097.0L1836.3 1098.7L1836.8 1089.3L1837.3 1135.0L1837.8 1144.9L1838.2 1251.2L1838.7 1243.8L1839.2 1275.8L1839.7 1237.0L1840.2 1243.3L1840.7 1171.1L1841.2 1199.2L1841.7 1197.2L1842.2 1231.7L1842.7 1202.3L1843.2 1221.8L1843.7 1109.1L1844.1 1121.5L1844.6 1089.0L1845.1 1163.1L1845.6 1202.0L1846.1 1229.7L1846.6 1207.1L1847.1 1196.8L1847.6 1139.6L1848.1 1151.1L1848.6 1166.6L1849.1 1214.8L1849.6 1174.0L1850.0 1174.1L1850.5 1157.2L1851.0 1144.8L1851.5 1136.9L1852.0 1207.5L1852.5 1190.6L1853.0 1172.2L1853.5 1139.3L1854.0 1180.1L1854.5 1195.9L1855.0 1193.1L1855.5 1128.4L1855.9 1130.6L1856.4 1112.0L1856.9 1144.6L1857.4 1136.6L1857.9 1146.8L1858.4 1132.8L1858.9 1181.3L1859.4 1194.6L1859.9 1205.7L1860.4 1201.3L1860.9 1195.8L1861.4 1140.0L1861.9 1193.2L1862.3 1167.4L1862.8 1132.8L1863.3 1131.1L1863.8 1194.8L1864.3 1181.6L1864.8 1146.4L1865.3 1133.1L1865.8 1150.8L1866.3 1158.2L1866.8 1215.6L1867.3 1191.1L1867.8 1251.1L1868.2 1253.9L1868.7 1273.2L1869.2 1223.0L1869.7 1212.9L1870.2 1204.8L1870.7 1242.0L1871.2 1279.9L1871.7 1296.8L1872.2 1196.3L1872.7 1191.2L1873.2 1163.9L1873.7 1212.1L1874.1 1261.8L1874.6 1306.9L1875.1 1278.5L1875.6 1263.4L1876.1 1194.0L1876.6 1193.8L1877.1 1183.0L1877.6 1155.3L1878.1 1146.6L1878.6 1197.1L1879.1 1177.3L1879.6 1184.6L1880.0 1169.7L1880.5 1226.3L1881.0 1213.2L1881.5 1229.2L1882.0 1182.1L1882.5 1195.5L1883.0 1169.0L1883.5 1213.2L1884.0 1211.6L1884.5 1185.3L1885.0 1159.6L1885.5 1169.9L1885.9 1153.6L1886.4 1216.0L1886.9 1234.0L1887.4 1278.7L1887.9 1234.7L1888.4 1264.5L1888.9 1187.4L1889.4 1137.3L1889.9 1111.5L1890.4 1146.1L1890.9 1220.2L1891.4 1229.5L1891.8 1150.2L1892.3 1164.7L1892.8 1142.1L1893.3 1167.6L1893.8 1169.5L1894.3 1224.1L1894.8 1253.3L1895.3 1245.1L1895.8 1206.9L1896.3 1220.6L1896.8 1228.7L1897.3 1290.1L1897.7 1251.3L1898.2 1238.7L1898.7 1196.8L1899.2 1209.9L1899.7 1176.7L1900.2 1201.7L1900.7 1179.0L1901.2 1175.4L1901.7 1185.7L1902.2 1209.0L1902.7 1189.0L1903.2 1227.6L1903.6 1200.0L1904.1 1194.4L1904.6 1164.1L1905.1 1148.2L1905.6 1118.0L1906.1 1104.4L1906.6 1102.0L1907.1 1161.9L1907.6 1217.6L1908.1 1211.0L1908.6 1155.4L1909.1 1169.4L1909.5 1187.5L1910.0 1226.2L1910.5 1250.6L1911.0 1274.0L1911.5 1205.4L1912.0 1139.9L1912.5 1100.1L1913.0 1119.3L1913.5 1087.1L1914.0 1109.1L1914.5 1114.5L1915.0 1218.6L1915.4 1203.9L1915.9 1186.4L1916.4 1160.7L1916.9 1162.5L1917.4 1161.1L1917.9 1176.9L1918.4 1177.0L1918.9 1212.4L1919.4 1202.2L1919.9 1220.1L1920.4 1231.4L1920.9 1255.6L1921.3 1199.0L1921.8 1201.4L1922.3 1191.5L1922.8 1220.0L1923.3 1173.4L1923.8 1154.8L1924.3 1134.1L1924.8 1218.5L1925.3 1247.6L1925.8 1255.3L1926.3 1212.9L1926.8 1244.9L1927.2 1192.8L1927.7 1205.6L1928.2 1194.1L1928.7 1192.4L1929.2 1165.8L1929.7 1222.7L1930.2 1301.0L1930.7 1400.0L1931.2 1317.4L1931.7 1258.4L1932.2 1201.2L1932.7 1187.8L1933.1 1232.1L1933.6 1232.5L1934.1 1185.7L1934.6 1210.3L1935.1 1221.4L1935.6 1263.6L1936.1 1244.7L1936.6 1244.0L1937.1 1224.5L1937.6 1223.0L1938.1 1175.4L1938.6 1231.2L1939.0 1251.2L1939.5 1259.1L1940.0 1192.9L1940.5 1224.5L1941.0 1255.1L1941.5 1276.0L1942.0 1201.8L1942.5 1167.7L1943.0 1135.0L1943.5 1159.0L1944.0 1117.2L1944.5 1140.2L1944.9 1141.8L1945.4 1204.4L1945.9 1217.6L1946.4 1237.6L1946.9 1214.7L1947.4 1226.4L1947.9 1201.4L1948.4 1269.5L1948.9 1275.8L1949.4 1245.4L1949.9 1227.7L1950.4 1256.1L1950.8 1202.5L1951.3 1196.9L1951.8 1196.7L1952.3 1212.0L1952.8 1197.3L1953.3 1199.7L1953.8 1140.7L1954.3 1168.5L1954.8 1212.1L1955.3 1265.7L1955.8 1236.2L1956.3 1249.2L1956.7 1185.0L1957.2 1245.5L1957.7 1232.7L1958.2 1218.7L1958.7 1201.1L1959.2 1279.0L1959.7 1382.6L1960.2 1318.4L1960.7 1217.2L1961.2 1249.5L1961.7 1275.3L1962.2 1299.0L1962.6 1244.5L1963.1 1260.6L1963.6 1276.6L1964.1 1309.5L1964.6 1257.7L1965.1 1264.3L1965.6 1227.8L1966.1 1238.5L1966.6 1203.9L1967.1 1215.7L1967.6 1185.5L1968.1 1214.0L1968.5 1252.6L1969.0 1258.5L1969.5 1194.1L1970.0 1163.9L1970.5 1156.4L1971.0 1234.4L1971.5 1252.5L1972.0 1298.3L1972.5 1234.8L1973.0 1237.4L1973.5 1206.5L1974.0 1257.2L1974.4 1236.5L1974.9 1220.9L1975.4 1182.1L1975.9 1199.9L1976.4 1171.9L1976.9 1222.7L1977.4 1223.5L1977.9 1291.9L1978.4 1242.8L1978.9 1258.2L1979.4 1198.7L1979.9 1168.3L1980.3 1154.0L1980.8 1187.5L1981.3 1254.1L1981.8 1334.8L1982.3 1355.2L1982.8 1368.7L1983.3 1301.9L1983.8 1315.9L1984.3 1290.1L1984.8 1289.9L1985.3 1232.9L1985.8 1214.8L1986.2 1211.4L1986.7 1267.9L1987.2 1269.9L1987.7 1273.4L1988.2 1264.2L1988.7 1287.5L1989.2 1277.8L1989.7 1230.1L1990.2 1182.2L1990.7 1181.1L1991.2 1220.8L1991.7 1275.3L1992.2 1226.6L1992.6 1245.5L1993.1 1248.7L1993.6 1275.4L1994.1 1240.3L1994.6 1264.7L1995.1 1227.0L1995.6 1239.8L1996.1 1219.0L1996.6 1224.8L1997.1 1235.6L1997.6 1185.3L1998.1 1184.1L1998.5 1216.4L1999.0 1225.4L1999.5 1236.8L2000.0 1202.1L2000.5 1206.6L2001.0 1207.8L2001.5 1237.7L2002.0 1281.6L2002.5 1267.0L2003.0 1233.0L2003.5 1244.3L2004.0 1239.0L2004.4 1226.0L2004.9 1192.1L2005.4 1218.1L2005.9 1232.9L2006.4 1271.5L2006.9 1211.2L2007.4 1233.4L2007.9 1203.0L2008.4 1266.5L2008.9 1336.3L2009.4 1400.7L2009.9 1343.7L2010.3 1330.5L2010.8 1296.0L2011.3 1255.9L2011.8 1229.7L2012.3 1224.0L2012.8 1212.1L2013.3 1207.6L2013.8 1193.1L2014.3 1254.0L2014.8 1294.9L2015.3 1263.3L2015.8 1227.8L2016.2 1215.0L2016.7 1211.1L2017.2 1231.5L2017.7 1224.0L2018.2 1269.3L2018.7 1269.6L2019.2 1271.8L2019.7 1262.6L2020.2 1239.4L2020.7 1251.7L2021.2 1282.5L2021.7 1255.4L2022.1 1284.4L2022.6 1243.6L2023.1 1252.9L2023.6 1237.1L2024.1 1284.5L2024.6 1308.0L2025.1 1309.3L2025.6 1234.8L2026.1 1249.9L2026.6 1256.3L2027.1 1287.2L2027.6 1349.4L2028.0 1278.9L2028.5 1189.3L2029.0 1206.6L2029.5 1225.0L2030.0 1315.8L2030.5 1293.1L2031.0 1259.9L2031.5 1247.8L2032.0 1325.4L2032.5 1279.7L2033.0 1264.6L2033.5 1236.7L2033.9 1267.9L2034.4 1259.1L2034.9 1232.4L2035.4 1220.4L2035.9 1226.8L2036.4 1232.2L2036.9 1268.8L2037.4 1219.0L2037.9 1249.9L2038.4 1211.8L2038.9 1239.3L2039.4 1257.9L2039.8 1279.7L2040.3 1253.3L2040.8 1260.6L2041.3 1257.3L2041.8 1297.9L2042.3 1261.1L2042.8 1252.7L2043.3 1220.6L2043.8 1254.0L2044.3 1251.3L2044.8 1311.6L2045.3 1272.4L2045.7 1295.4L2046.2 1295.8L2046.7 1287.4L2047.2 1258.2L2047.7 1251.6L2048.2 1253.4L2048.7 1257.7L2049.2 1242.0L2049.7 1287.6L2050.2 1292.0L2050.7 1273.8L2051.2 1233.9L2051.6 1279.4L2052.1 1279.8L2052.6 1300.8L2053.1 1287.2L2053.6 1334.5L2054.1 1303.3L2054.6 1245.6L2055.1 1188.6L2055.6 1191.3L2056.1 1210.7L2056.6 1272.3L2057.1 1258.6L2057.5 1215.7L2058.0 1180.2L2058.5 1250.3L2059.0 1301.4L2059.5 1314.4L2060.0 1284.9L2060.5 1287.1L2061.0 1275.4L2061.5 1297.7L2062.0 1312.5L2062.5 1306.2L2063.0 1275.6L2063.4 1324.6L2063.9 1320.9L2064.4 1295.2L2064.9 1290.3L2065.4 1352.5L2065.9 1334.7L2066.4 1325.5L2066.9 1296.7L2067.4 1279.3L2067.9 1244.7L2068.4 1269.4L2068.9 1276.4L2069.3 1301.3L2069.8 1253.0L2070.3 1280.6L2070.8 1306.5L2071.3 1376.0L2071.8 1269.6L2072.3 1228.7L2072.8 1177.0L2073.3 1226.4L2073.8 1212.3L2074.3 1269.2L2074.8 1269.1L2075.2 1323.0L2075.7 1311.1L2076.2 1346.4L2076.7 1320.0L2077.2 1327.8L2077.7 1327.9L2078.2 1305.7L2078.7 1279.0L2079.2 1286.0L2079.7 1266.3L2080.2 1247.9L2080.7 1231.1L2081.1 1240.9L2081.6 1239.0L2082.1 1275.3L2082.6 1247.7L2083.1 1282.7L2083.6 1268.6L2084.1 1254.3L2084.6 1213.2L2085.1 1230.4L2085.6 1224.8L2086.1 1259.1L2086.6 1291.1L2087.0 1321.5L2087.5 1283.2L2088.0 1255.7L2088.5 1225.2L2089.0 1243.0L2089.5 1266.2L2090.0 1247.7L2090.5 1230.7L2091.0 1268.1L2091.5 1296.8L2092.0 1307.3L2092.5 1267.3L2092.9 1286.6L2093.4 1268.0L2093.9 1305.0L2094.4 1270.9L2094.9 1301.5L2095.4 1299.6L2095.9 1287.3L2096.4 1276.6L2096.9 1337.1L2097.4 1273.7L2097.9 1287.2L2098.4 1303.9L2098.8 1295.5L2099.3 1243.6L2099.8 1273.8L2100.3 1283.6L2100.8 1325.4L2101.3 1269.5L2101.8 1241.0L2102.3 1226.4L2102.8 1287.2L2103.3 1286.7L2103.8 1308.6L2104.3 1271.7L2104.7 1337.5L2105.2 1331.5L2105.7 1333.1L2106.2 1316.3L2106.7 1301.7L2107.2 1283.2L2107.7 1271.0L2108.2 1241.0L2108.7 1257.2L2109.2 1240.0L2109.7 1268.6L2110.2 1275.9L2110.6 1284.9L2111.1 1262.6L2111.6 1269.0L2112.1 1245.9L2112.6 1248.5L2113.1 1220.9L2113.6 1255.4L2114.1 1270.1L2114.6 1332.4L2115.1 1328.4L2115.6 1377.8L2116.1 1348.3L2116.6 1329.9L2117.0 1294.7L2117.5 1339.6L2118.0 1315.4L2118.5 1325.8L2119.0 1272.3L2119.5 1264.2L2120.0 1260.3L2120.5 1326.9L2121.0 1379.7L2121.5 1351.3L2122.0 1319.1L2122.5 1327.1L2122.9 1365.1L2123.4 1396.7L2123.9 1349.1L2124.4 1353.9L2124.9 1281.8L2125.4 1257.5L2125.9 1238.1L2126.4 1276.7L2126.9 1285.2L2127.4 1363.4L2127.9 1336.7L2128.4 1332.4L2128.8 1312.8L2129.3 1324.1L2129.8 1348.7L2130.3 1392.3L2130.8 1336.8L2131.3 1336.2L2131.8 1318.4L2132.3 1317.1L2132.8 1309.6L2133.3 1297.2L2133.8 1302.5L2134.3 1353.9L2134.7 1307.0L2135.2 1271.7L2135.7 1300.1L2136.2 1334.7L2136.7 1334.7L2137.2 1371.2L2137.7 1388.8L2138.2 1436.8L2138.7 1327.1L2139.2 1284.9L2139.7 1262.3L2140.2 1346.5L2140.6 1378.8L2141.1 1383.2L2141.6 1335.8L2142.1 1372.6L2142.6 1337.0L2143.1 1343.7L2143.6 1312.0L2144.1 1328.7L2144.6 1321.0L2145.1 1365.4L2145.6 1351.6L2146.1 1370.1L2146.5 1352.5L2147.0 1371.1L2147.5 1335.4L2148.0 1308.8L2148.5 1278.9L2149.0 1268.5L2149.5 1280.6L2150.0 1320.1L2150.5 1313.8L2151.0 1304.4L2151.5 1265.1L2152.0 1290.8L2152.4 1261.0L2152.9 1267.0L2153.4 1279.5L2153.9 1337.2L2154.4 1384.7L2154.9 1362.6L2155.4 1306.9L2155.9 1341.9L2156.4 1361.2L2156.9 1404.6L2157.4 1340.3L2157.9 1309.2L2158.3 1257.5L2158.8 1298.1L2159.3 1273.3L2159.8 1327.2L2160.3 1335.0L2160.8 1404.2L2161.3 1345.1L2161.8 1323.7L2162.3 1300.2L2162.8 1317.5L2163.3 1328.2L2163.8 1350.0L2164.2 1322.7L2164.7 1293.8L2165.2 1297.6L2165.7 1313.0L2166.2 1284.6L2166.7 1314.2L2167.2 1343.0L2167.7 1393.9L2168.2 1377.3L2168.7 1369.6L2169.2 1379.7L2169.7 1395.4L2170.1 1321.6L2170.6 1313.8L2171.1 1310.7L2171.6 1369.4L2172.1 1406.1L2172.6 1410.0L2173.1 1373.3L2173.6 1379.7L2174.1 1363.8L2174.6 1403.9L2175.1 1368.7L2175.6 1368.2L2176.0 1341.1L2176.5 1369.7L2177.0 1325.0L2177.5 1348.6L2178.0 1312.8L2178.5 1302.9L2179.0 1265.9L2179.5 1285.6L2180.0 1240.9L2180.5 1267.1L2181.0 1260.7L2181.5 1324.0L2181.9 1406.3L2182.4 1404.5L2182.9 1361.5L2183.4 1334.3L2183.9 1287.3L2184.4 1295.6L2184.9 1286.4L2185.4 1288.4L2185.9 1243.0L2186.4 1300.4L2186.9 1323.7L2187.4 1368.3L2187.8 1322.9L2188.3 1324.6L2188.8 1295.3L2189.3 1353.9L2189.8 1320.2L2190.3 1339.9L2190.8 1311.9L2191.3 1377.3L2191.8 1381.5L2192.3 1410.8L2192.8 1438.1L2193.3 1473.8L2193.7 1366.7L2194.2 1381.0L2194.7 1345.1L2195.2 1362.9L2195.7 1339.3L2196.2 1345.7L2196.7 1324.6L2197.2 1327.0L2197.7 1329.8L2198.2 1333.5L2198.7 1295.1L2199.2 1328.0L2199.6 1342.6L2200.1 1366.0L2200.6 1366.1L2201.1 1370.3L2201.6 1329.4L2202.1 1384.2L2202.6 1406.6L2203.1 1412.5L2203.6 1335.8L2204.1 1372.5L2204.6 1307.4L2205.1 1353.0L2205.5 1331.2L2206.0 1386.2L2206.5 1327.2L2207.0 1340.6L2207.5 1336.4L2208.0 1390.0L2208.5 1357.3L2209.0 1391.6L2209.5 1404.4L2210.0 1429.2L2210.5 1376.0L2211.0 1354.0L2211.4 1358.0L2211.9 1380.0L2212.4 1333.7L2212.9 1319.3L2213.4 1305.8L2213.9 1325.6L2214.4 1300.4L2214.9 1347.7L2215.4 1341.8L2215.9 1367.2L2216.4 1361.5L2216.9 1424.5L2217.3 1416.1L2217.8 1409.2L2218.3 1355.4L2218.8 1391.4L2219.3 1374.9L2219.8 1404.1L2220.3 1470.4L2220.8 1477.5L2221.3 1362.7L2221.8 1341.8L2222.3 1339.8L2222.8 1361.9L2223.2 1342.3L2223.7 1350.0L2224.2 1336.1L2224.7 1337.9L2225.2 1327.1L2225.7 1339.9L2226.2 1337.2L2226.7 1367.4L2227.2 1337.4L2227.7 1346.9L2228.2 1316.1L2228.7 1355.1L2229.1 1386.8L2229.6 1447.0L2230.1 1477.4L2230.6 1428.2L2231.1 1345.6L2231.6 1314.3L2232.1 1273.7L2232.6 1309.2L2233.1 1292.1L2233.6 1335.4L2234.1 1330.6L2234.6 1357.0L2235.0 1363.6L2235.5 1452.6L2236.0 1502.7L2236.5 1535.0L2237.0 1517.3L2237.5 1395.1L2238.0 1303.8"/>
</g>
<rect x="1495" y="43.2" width="724" height="234.5" fill="#fff" stroke="#262626" stroke-width="4.6" shape-rendering="crispEdges"/>
<g stroke-width="4" fill="none" shape-rendering="crispEdges">
<path stroke="#f00" d="M1513 87.6H1700"/><path stroke="#000" d="M1513 160.6H1700"/><path stroke="#00f" d="M1513 234.2H1700"/>
</g>
<g fill="#000" font-size="55.75">
<text transform="translate(1714.5 111.3) scale(1 1.035)">The ideal equalized</text>
<text transform="translate(1714.5 183.4) scale(1 1.035)">The original Rx</text>
<text transform="translate(1714.5 256.4) scale(1 1.035)">The proposed</text>
</g>
<ellipse cx="888.5" cy="122.3" rx="116" ry="61.8" fill="none" stroke="#000" stroke-width="7.4" shape-rendering="crispEdges"/>
<path d="M869.4 187L637.6 963" stroke="#000" stroke-width="4.6" fill="none" shape-rendering="crispEdges"/>
<path d="M624.4 1008.2L618.8 939.8L637 966.4L665 954.6Z" fill="#000" stroke="#000" stroke-width="3" stroke-linejoin="round"/>
<rect x="313.6" y="1046.0" width="974.4" height="472.29999999999995" fill="#fff"/>
<g stroke="#262626" stroke-width="4.1" fill="none" shape-rendering="crispEdges">
<rect x="313.6" y="1046.0" width="974.4" height="472.29999999999995"/>
<path d="M332.0 1518.3v-11.5M332.0 1046.0v11.5"/>
<path d="M534.0 1518.3v-11.5M534.0 1046.0v11.5"/>
<path d="M736.0 1518.3v-11.5M736.0 1046.0v11.5"/>
<path d="M938.0 1518.3v-11.5M938.0 1046.0v11.5"/>
<path d="M1140.0 1518.3v-11.5M1140.0 1046.0v11.5"/>
<path d="M313.6 1134.0h11.5M1288.0 1134.0h-11.5"/>
<path d="M313.6 1281.5h11.5M1288.0 1281.5h-11.5"/>
<path d="M313.6 1429.0h11.5M1288.0 1429.0h-11.5"/>
</g>
<g fill="#262626" font-size="49.6">
<text transform="translate(331.2 1582.2) scale(1 1.03)" text-anchor="middle">75</text>
<text transform="translate(533.2 1582.2) scale(1 1.03)" text-anchor="middle">80</text>
<text transform="translate(735.2 1582.2) scale(1 1.03)" text-anchor="middle">85</text>
<text transform="translate(937.2 1582.2) scale(1 1.03)" text-anchor="middle">90</text>
<text transform="translate(1139.2 1582.2) scale(1 1.03)" text-anchor="middle">95</text>
<text transform="translate(301.6 1154.5) scale(1 1.03)" text-anchor="end">-2</text>
<text transform="translate(301.6 1302.0) scale(1 1.03)" text-anchor="end">-4</text>
<text transform="translate(301.6 1449.5) scale(1 1.03)" text-anchor="end">-6</text>
</g>
<g clip-path="url(#ci)" fill="none" stroke-width="12.8" stroke-linejoin="round" stroke-linecap="round" shape-rendering="crispEdges">
<path stroke="#f00" d="M308.6 1324.9L309.8 1331.7L311.0 1345.8L312.2 1364.0L313.4 1382.0L314.7 1395.6L315.7 1401.4L315.9 1400.6L317.1 1375.8L318.3 1328.9L319.5 1276.7L320.7 1238.4L321.5 1227.7L321.9 1233.7L323.1 1273.7L324.3 1336.5L325.6 1399.0L326.8 1438.7L327.2 1444.4L328.0 1430.2L329.2 1380.4L330.4 1313.0L331.6 1252.7L332.8 1221.2L332.9 1220.3L334.0 1238.4L335.3 1278.5L336.5 1335.1L337.7 1400.4L338.9 1465.6L340.1 1521.6L341.3 1561.0L342.4 1577.9L342.5 1577.2L343.7 1567.4L345.0 1550.0L346.2 1525.9L347.4 1496.3L348.6 1462.8L349.8 1427.2L351.0 1391.6L352.2 1358.0L353.4 1328.1L354.6 1303.8L355.9 1286.1L357.1 1275.9L357.3 1275.0L358.3 1285.1L359.5 1307.8L360.7 1340.9L361.9 1382.6L363.1 1430.5L364.3 1481.8L365.6 1533.3L366.8 1581.8L368.0 1624.6L369.2 1659.1L370.4 1683.3L371.6 1695.9L371.6 1695.4L372.8 1645.3L374.0 1544.1L375.3 1409.6L376.5 1267.4L377.7 1144.5L378.9 1063.7L379.6 1041.7L380.1 1061.5L381.3 1184.2L382.5 1344.7L383.7 1441.6L383.9 1445.8L384.9 1438.0L386.2 1418.8L387.4 1396.0L388.6 1378.9L389.3 1374.2L389.8 1379.2L391.0 1412.7L392.2 1462.9L393.4 1507.2L394.5 1525.8L394.6 1524.2L395.9 1484.8L397.1 1418.5L398.3 1367.3L398.8 1358.7L399.5 1359.9L400.7 1362.7L400.8 1362.7L401.9 1355.0L403.1 1338.1L404.3 1314.3L405.6 1286.9L406.8 1259.5L408.0 1236.0L409.2 1219.6L410.2 1212.5L410.4 1212.8L411.6 1218.1L412.8 1228.2L414.0 1241.0L415.2 1253.9L416.5 1264.4L417.7 1270.4L418.0 1271.0L418.9 1267.6L420.1 1257.7L421.3 1243.8L422.5 1228.8L423.7 1216.0L424.9 1208.1L425.4 1206.8L426.2 1210.9L427.4 1225.8L428.6 1248.2L429.8 1273.6L431.0 1296.9L432.2 1313.2L433.2 1319.2L433.4 1317.6L434.6 1300.2L435.9 1269.6L437.1 1234.1L438.3 1203.7L439.5 1186.7L439.7 1185.3L440.7 1192.4L441.9 1211.1L443.1 1237.8L444.3 1268.0L445.5 1296.1L446.8 1317.3L448.0 1328.1L448.0 1328.3L449.2 1312.9L450.4 1278.9L451.6 1232.8L452.8 1183.1L454.0 1139.5L455.2 1110.0L456.1 1100.8L456.5 1102.6L457.7 1117.0L458.9 1140.4L460.1 1165.1L461.3 1182.9L462.1 1187.9L462.5 1187.4L463.7 1184.3L464.9 1179.3L466.2 1173.5L467.4 1168.5L468.6 1165.6L468.9 1165.2L469.8 1170.8L471.0 1186.5L472.2 1210.3L473.4 1240.0L474.6 1272.9L475.8 1305.9L477.1 1335.9L478.3 1360.1L479.5 1376.3L480.4 1382.5L480.7 1381.0L481.9 1368.9L483.1 1347.9L484.3 1319.6L485.5 1286.2L486.8 1250.2L488.0 1214.8L489.2 1182.8L490.4 1156.7L491.6 1138.5L492.7 1130.0L492.8 1130.8L494.0 1150.5L495.2 1188.2L496.5 1239.4L497.7 1297.6L498.9 1355.4L500.1 1405.1L501.3 1440.4L502.4 1457.0L502.5 1456.5L503.7 1426.3L504.9 1367.2L506.1 1300.5L507.4 1250.4L508.2 1235.5L508.6 1239.1L509.8 1266.1L511.0 1310.8L512.2 1361.1L513.4 1402.8L514.6 1424.6L514.8 1425.5L515.8 1412.6L517.1 1384.0L518.3 1342.9L519.5 1293.4L520.7 1240.7L521.9 1190.2L523.1 1147.1L524.3 1115.9L525.5 1099.4L525.6 1098.7L526.8 1111.9L528.0 1140.2L529.2 1180.7L530.4 1229.5L531.6 1282.0L532.8 1332.9L534.0 1377.1L535.2 1410.4L536.4 1429.8L536.8 1432.7L537.7 1423.5L538.9 1396.9L540.1 1356.9L541.3 1308.3L542.5 1256.9L543.7 1209.1L544.9 1170.7L546.1 1146.2L546.8 1139.4L547.4 1145.6L548.6 1177.7L549.8 1229.3L551.0 1289.3L552.2 1344.5L553.4 1382.8L554.3 1395.4L554.6 1387.2L555.8 1308.8L557.1 1216.5L557.8 1192.5L558.3 1194.9L559.5 1209.0L560.7 1230.9L561.9 1254.1L563.1 1271.6L564.1 1277.9L564.3 1276.1L565.5 1253.3L566.7 1217.2L568.0 1188.0L568.6 1181.0L569.2 1183.0L570.4 1193.7L571.6 1210.3L572.8 1227.7L574.0 1240.7L574.9 1245.2L575.2 1245.0L576.4 1243.1L577.2 1242.3L577.7 1248.1L578.9 1289.8L580.1 1351.3L581.3 1402.0L582.1 1416.9L582.5 1415.6L583.7 1407.7L584.9 1394.1L586.1 1376.8L587.4 1358.0L588.6 1340.4L589.8 1326.3L591.0 1317.6L591.5 1315.7L592.2 1325.2L593.4 1363.6L594.6 1423.1L595.8 1492.8L597.0 1559.3L598.3 1610.1L599.5 1636.1L599.6 1636.9L600.7 1622.2L601.9 1592.3L603.1 1549.4L604.3 1496.0L605.5 1435.3L606.7 1371.1L608.0 1307.4L609.2 1248.4L610.4 1197.5L611.6 1158.0L612.8 1132.1L613.6 1123.1L614.0 1132.0L615.2 1197.8L616.4 1292.0L617.7 1361.8L618.2 1373.9L618.9 1366.4L620.1 1336.4L621.3 1292.3L622.5 1246.2L623.7 1211.1L624.8 1196.8L624.9 1197.7L626.1 1217.0L627.3 1251.9L628.6 1288.5L629.8 1312.1L630.2 1315.4L631.0 1310.7L632.2 1294.5L633.4 1271.4L634.6 1247.9L635.8 1230.4L636.8 1224.0L637.0 1224.9L638.3 1232.4L639.5 1245.3L640.7 1263.1L641.9 1284.5L643.1 1308.4L644.3 1333.1L645.5 1357.2L646.7 1379.1L648.0 1397.5L649.2 1411.2L650.4 1419.6L650.8 1421.2L651.6 1407.1L652.8 1357.1L654.0 1302.1L655.1 1277.0L655.2 1277.0L656.4 1277.3L657.6 1277.9L658.9 1278.8L660.1 1279.7L661.3 1280.6L662.5 1281.5L663.7 1282.1L664.9 1282.4L665.1 1282.5L666.1 1268.5L667.3 1232.4L668.6 1183.1L669.8 1132.1L671.0 1091.6L672.2 1070.8L672.3 1070.1L673.4 1091.3L674.6 1138.0L675.8 1204.2L677.0 1281.4L678.3 1359.7L679.5 1428.8L680.7 1480.0L681.9 1507.2L682.0 1508.6L683.1 1485.0L684.3 1429.5L685.5 1352.3L686.7 1266.9L687.9 1188.4L689.2 1130.7L690.3 1103.6L690.4 1103.9L691.6 1119.2L692.8 1146.3L694.0 1184.3L695.2 1231.9L696.4 1287.1L697.6 1347.6L698.9 1411.0L700.1 1474.5L701.3 1535.5L702.5 1591.4L703.7 1639.9L704.9 1679.0L706.1 1707.4L707.3 1724.0L707.5 1725.4L708.6 1690.5L709.8 1604.2L711.0 1487.5L712.2 1368.0L713.4 1274.1L714.6 1226.9L714.7 1226.0L715.8 1240.0L717.0 1270.6L718.2 1311.6L719.5 1354.8L720.7 1391.3L721.9 1413.8L722.4 1418.1L723.1 1411.3L724.3 1388.3L725.5 1352.5L726.7 1306.6L727.9 1254.1L729.2 1199.3L730.4 1146.7L731.6 1100.6L732.8 1064.6L734.0 1041.4L734.7 1034.4L735.2 1043.4L736.4 1096.5L737.6 1177.5L738.9 1257.0L740.1 1306.0L740.4 1312.0L741.3 1307.1L742.5 1292.3L743.7 1270.1L744.9 1243.5L746.1 1216.1L747.3 1191.6L748.5 1173.5L749.8 1163.8L749.9 1163.3L751.0 1203.5L752.2 1296.9L753.4 1396.6L754.6 1452.9L754.8 1455.3L755.8 1445.7L757.0 1422.5L758.2 1392.2L759.5 1363.3L760.7 1343.8L761.3 1339.0L761.9 1341.6L763.1 1355.8L764.3 1377.9L765.5 1401.2L766.7 1418.5L767.6 1424.4L767.9 1421.3L769.2 1389.1L770.4 1333.1L771.6 1268.6L772.8 1213.5L774.0 1182.9L774.2 1180.6L775.2 1216.9L776.4 1312.6L777.6 1419.6L778.8 1484.4L779.1 1489.1L780.1 1471.5L781.3 1424.1L782.5 1358.5L783.7 1290.2L784.9 1235.5L786.1 1206.7L786.3 1205.4L787.3 1218.9L788.5 1251.1L789.8 1294.2L791.0 1338.1L792.2 1372.2L793.4 1389.0L793.4 1389.1L794.6 1346.3L795.8 1258.6L797.0 1169.6L798.2 1123.3L798.3 1122.7L799.5 1131.3L800.7 1148.6L801.9 1173.3L803.1 1203.6L804.3 1237.2L805.5 1271.5L806.7 1303.7L807.9 1331.5L809.1 1352.7L810.4 1365.9L810.9 1369.0L811.6 1366.7L812.8 1357.4L814.0 1342.9L815.2 1324.8L816.4 1305.2L817.6 1286.6L818.8 1271.2L820.1 1260.8L820.9 1257.0L821.3 1258.9L822.5 1275.7L823.7 1305.2L824.9 1341.6L826.1 1377.4L827.3 1405.3L828.5 1420.0L828.7 1420.7L829.8 1415.5L831.0 1403.3L832.2 1386.7L833.4 1369.0L834.6 1353.7L835.8 1344.0L836.4 1341.8L837.0 1346.3L838.2 1367.1L839.4 1398.5L840.7 1432.0L841.9 1458.2L843.0 1469.7L843.1 1468.9L844.3 1431.8L845.5 1364.4L846.7 1304.2L847.6 1284.8L847.9 1285.4L849.1 1291.5L850.4 1300.5L851.6 1307.5L852.2 1308.8L852.8 1303.7L854.0 1281.6L855.2 1247.1L856.4 1206.4L857.6 1167.3L858.8 1137.2L860.1 1121.5L860.2 1120.8L861.3 1139.3L862.5 1183.0L863.7 1241.4L864.9 1300.6L866.1 1346.6L867.3 1368.9L867.3 1369.0L868.5 1359.7L869.7 1341.1L871.0 1315.0L872.2 1284.2L873.4 1252.0L874.6 1222.1L875.8 1197.5L877.0 1181.0L877.9 1174.8L878.2 1176.1L879.4 1187.6L880.7 1207.9L881.9 1234.6L883.1 1263.8L884.3 1291.6L885.5 1314.2L886.7 1328.6L887.4 1332.3L887.9 1331.0L889.1 1324.9L890.4 1315.2L891.6 1303.3L892.8 1291.2L894.0 1280.9L895.2 1274.1L896.0 1272.0L896.4 1276.0L897.6 1303.4L898.8 1346.5L900.0 1389.6L901.3 1416.9L901.7 1420.9L902.5 1413.7L903.7 1390.3L904.9 1354.6L906.1 1311.5L907.3 1266.7L908.5 1226.4L909.7 1196.2L911.0 1179.8L911.1 1178.6L912.2 1217.9L913.4 1311.7L914.6 1391.8L915.2 1407.0L915.8 1404.2L917.0 1392.7L918.2 1375.1L919.4 1355.6L920.7 1338.7L921.9 1328.4L922.3 1326.8L923.1 1335.4L924.3 1366.5L925.5 1403.3L926.7 1425.1L926.9 1426.2L927.9 1405.2L929.1 1353.1L930.3 1280.9L931.6 1203.3L932.8 1136.1L934.0 1092.7L934.6 1082.2L935.2 1087.5L936.4 1112.6L937.6 1152.6L938.8 1199.6L940.0 1243.9L941.3 1276.4L942.4 1290.6L942.5 1290.3L943.7 1282.6L944.9 1268.1L946.1 1248.2L947.3 1224.5L948.5 1199.3L949.7 1175.0L951.0 1153.8L952.2 1137.7L953.4 1128.1L953.8 1126.4L954.6 1142.1L955.8 1194.3L957.0 1273.2L958.2 1367.1L959.4 1461.4L960.6 1541.3L961.9 1594.8L962.7 1612.1L963.1 1607.0L964.3 1570.0L965.5 1506.8L966.7 1428.0L967.9 1347.6L969.1 1279.9L970.3 1236.5L971.0 1225.8L971.6 1235.1L972.8 1281.0L974.0 1353.2L975.2 1434.9L976.4 1506.7L977.6 1551.8L978.2 1560.5L978.8 1547.1L980.0 1493.6L981.3 1412.1L982.5 1320.2L983.7 1238.2L984.9 1183.7L985.6 1169.3L986.1 1175.6L987.3 1211.9L988.5 1268.7L989.7 1329.0L990.9 1374.5L991.9 1390.9L992.2 1388.4L993.4 1356.9L994.6 1304.4L995.8 1254.1L997.0 1228.3L997.0 1228.1L998.2 1248.1L999.4 1291.4L1000.6 1345.0L1001.9 1392.6L1003.1 1419.9L1003.3 1422.4L1004.3 1402.0L1005.5 1345.1L1006.7 1264.9L1007.9 1178.9L1009.1 1106.0L1010.3 1061.8L1010.8 1054.6L1011.6 1077.0L1012.8 1158.9L1014.0 1264.6L1015.2 1346.7L1015.9 1369.3L1016.4 1364.9L1017.6 1335.0L1018.8 1313.7L1018.8 1313.8L1020.0 1337.8L1021.2 1381.9L1022.5 1414.5L1022.8 1418.0L1023.7 1407.5L1024.9 1375.3L1026.1 1328.4L1027.3 1276.3L1028.5 1229.6L1029.7 1197.8L1030.6 1187.9L1030.9 1191.5L1032.2 1219.1L1033.4 1264.6L1034.6 1314.4L1035.8 1353.3L1036.9 1369.3L1037.0 1368.5L1038.2 1354.5L1039.4 1327.9L1040.6 1293.2L1041.9 1256.5L1043.1 1224.1L1044.3 1201.7L1045.2 1193.6L1045.5 1194.9L1046.7 1207.3L1047.9 1229.4L1049.1 1258.1L1050.3 1289.2L1051.5 1318.3L1052.8 1341.1L1054.0 1354.4L1054.4 1356.4L1055.2 1348.8L1056.4 1324.8L1057.6 1289.4L1058.8 1249.3L1060.0 1211.9L1061.2 1184.5L1062.4 1172.0L1062.5 1172.7L1063.7 1196.9L1064.9 1244.0L1066.1 1307.8L1067.3 1379.1L1068.5 1447.4L1069.7 1502.8L1070.9 1537.5L1071.5 1545.6L1072.2 1537.5L1073.4 1504.9L1074.6 1452.8L1075.8 1386.2L1077.0 1312.0L1078.2 1237.8L1079.4 1171.5L1080.6 1119.9L1081.8 1087.8L1082.4 1080.3L1083.1 1090.2L1084.3 1133.6L1085.5 1198.1L1086.7 1264.2L1087.9 1311.8L1088.7 1326.2L1089.1 1323.0L1090.3 1299.7L1091.5 1260.6L1092.8 1214.6L1094.0 1172.8L1095.2 1144.9L1095.9 1137.6L1096.4 1142.8L1097.6 1170.0L1098.8 1214.5L1100.0 1269.3L1101.2 1325.2L1102.5 1373.0L1103.7 1405.0L1104.5 1415.0L1104.9 1411.3L1106.1 1384.0L1107.3 1338.9L1108.5 1288.3L1109.7 1246.3L1110.9 1224.4L1111.1 1223.6L1112.1 1227.0L1113.4 1235.1L1114.6 1244.6L1115.8 1251.6L1116.5 1253.3L1117.0 1251.5L1118.2 1240.5L1119.4 1224.5L1120.6 1210.5L1121.7 1204.9L1121.8 1206.1L1123.1 1222.2L1124.3 1252.1L1125.5 1291.9L1126.7 1336.3L1127.9 1379.0L1129.1 1414.2L1130.3 1437.4L1131.1 1444.5L1131.5 1435.6L1132.8 1372.3L1134.0 1279.2L1135.2 1202.7L1136.0 1180.5L1136.4 1185.3L1137.6 1217.1L1138.8 1270.6L1140.0 1335.1L1141.2 1397.6L1142.4 1445.3L1143.7 1469.1L1143.7 1469.4L1144.9 1437.5L1146.1 1369.0L1147.3 1288.7L1148.5 1226.1L1149.4 1204.3L1149.7 1204.8L1150.9 1210.4L1152.1 1220.2L1153.4 1232.3L1154.6 1243.9L1155.8 1252.4L1156.9 1256.1L1157.0 1255.7L1158.2 1245.3L1159.4 1225.1L1160.6 1199.8L1161.8 1175.4L1163.1 1157.7L1164.0 1150.9L1164.3 1152.7L1165.5 1176.2L1166.7 1218.7L1167.9 1269.6L1169.1 1315.8L1170.3 1345.6L1170.9 1351.8L1171.5 1350.5L1172.7 1344.2L1174.0 1337.9L1174.6 1336.4L1175.2 1337.7L1176.4 1345.1L1177.6 1352.2L1178.1 1353.3L1178.8 1346.2L1180.0 1320.9L1181.2 1283.2L1182.4 1241.2L1183.7 1204.3L1184.9 1180.4L1185.5 1174.7L1186.1 1185.3L1187.3 1235.1L1188.5 1314.5L1189.7 1409.0L1190.9 1500.4L1192.1 1571.4L1193.4 1609.4L1193.5 1611.7L1194.6 1581.6L1195.8 1507.4L1197.0 1405.8L1198.2 1299.1L1199.4 1210.7L1200.6 1159.4L1201.0 1153.2L1201.8 1167.8L1203.0 1212.2L1204.3 1275.5L1205.5 1342.7L1206.7 1397.8L1207.9 1428.2L1208.1 1430.6L1209.1 1415.7L1210.3 1375.8L1211.5 1325.7L1212.7 1283.8L1213.9 1265.5L1214.0 1266.0L1215.2 1280.9L1216.4 1309.9L1217.6 1346.4L1218.8 1381.8L1220.0 1407.7L1221.0 1417.7L1221.2 1415.9L1222.4 1394.9L1223.7 1356.6L1224.9 1305.3L1226.1 1247.1L1227.3 1189.3L1228.5 1138.8L1229.7 1101.8L1230.9 1082.3L1231.0 1081.5L1232.1 1095.0L1233.3 1124.4L1234.6 1166.6L1235.8 1218.1L1237.0 1274.4L1238.2 1330.3L1239.4 1380.8L1240.6 1421.6L1241.8 1449.1L1242.8 1460.1L1243.0 1458.8L1244.3 1446.9L1245.5 1425.6L1246.7 1397.4L1247.9 1366.0L1249.1 1335.5L1250.3 1309.7L1251.5 1292.0L1252.5 1284.9L1252.7 1285.8L1254.0 1297.7L1255.2 1319.3L1256.4 1344.5L1257.6 1366.5L1258.8 1379.1L1259.1 1380.3L1260.0 1371.4L1261.2 1345.7L1262.4 1310.5L1263.6 1275.7L1264.9 1251.0L1265.7 1243.3L1266.1 1244.0L1267.3 1248.7L1268.5 1256.8L1269.7 1267.3L1270.9 1278.9L1272.1 1290.2L1273.3 1299.9L1274.6 1306.8L1275.7 1310.1L1275.8 1309.5L1277.0 1273.3L1278.2 1204.8L1279.4 1137.8L1280.6 1105.7L1280.6 1105.8L1281.8 1113.2L1283.0 1127.5L1284.3 1147.4L1285.5 1171.0L1286.7 1195.7L1287.9 1219.0L1289.1 1238.5L1290.3 1252.2L1291.5 1258.8"/>
<path stroke="#00f" d="M308.6 1316.0L309.8 1322.9L311.0 1337.0L312.2 1355.2L313.4 1373.2L314.7 1386.7L315.7 1392.6L315.9 1391.7L317.1 1367.0L318.3 1320.1L319.5 1267.9L320.7 1229.6L321.5 1218.9L321.9 1224.8L323.1 1264.9L324.3 1327.6L325.6 1390.2L326.8 1429.9L327.2 1435.6L328.0 1421.4L329.2 1371.6L330.4 1304.2L331.6 1243.9L332.8 1212.3L332.9 1211.4L334.0 1229.5L335.3 1269.7L336.5 1326.2L337.7 1391.6L338.9 1456.7L340.1 1512.8L341.3 1552.1L342.4 1569.1L342.5 1568.4L343.7 1558.6L345.0 1541.2L346.2 1517.1L347.4 1487.4L348.6 1453.9L349.8 1418.4L351.0 1382.8L352.2 1349.1L353.4 1319.3L354.6 1294.9L355.9 1277.2L357.1 1267.1L357.3 1266.2L358.3 1276.3L359.5 1298.9L360.7 1332.0L361.9 1373.8L363.1 1421.7L364.3 1472.9L365.6 1524.4L366.8 1573.0L368.0 1615.8L369.2 1650.2L370.4 1674.4L371.6 1687.0L371.6 1686.5L372.8 1636.5L374.0 1535.2L375.3 1400.8L376.5 1258.6L377.7 1135.6L378.9 1054.8L379.6 1032.9L380.1 1052.6L381.3 1175.4L382.5 1335.8L383.7 1432.7L383.9 1437.0L384.9 1429.1L386.2 1409.9L387.4 1387.1L388.6 1370.0L389.3 1365.3L389.8 1370.3L391.0 1403.8L392.2 1454.0L393.4 1498.4L394.5 1517.0L394.6 1515.4L395.9 1475.9L397.1 1409.6L398.3 1358.4L398.8 1349.9L399.5 1351.0L400.7 1353.8L400.8 1353.9L401.9 1346.2L403.1 1329.3L404.3 1305.5L405.6 1278.0L406.8 1250.7L408.0 1227.2L409.2 1210.7L410.2 1203.7L410.4 1204.0L411.6 1209.3L412.8 1219.3L414.0 1232.1L415.2 1245.1L416.5 1255.6L417.7 1261.5L418.0 1262.2L418.9 1258.7L420.1 1248.9L421.3 1234.9L422.5 1219.9L423.7 1207.1L424.9 1199.3L425.4 1198.0L426.2 1202.1L427.4 1217.0L428.6 1239.4L429.8 1264.8L431.0 1288.0L432.2 1304.4L433.2 1310.3L433.4 1308.7L434.6 1291.3L435.9 1260.7L437.1 1225.3L438.3 1194.9L439.5 1177.9L439.7 1176.5L440.7 1183.5L441.9 1202.2L443.1 1229.0L444.3 1259.1L445.5 1287.3L446.8 1308.5L448.0 1319.2L448.0 1319.5L449.2 1304.0L450.4 1270.0L451.6 1223.9L452.8 1174.3L454.0 1130.7L455.2 1101.1L456.1 1091.9L456.5 1093.8L457.7 1108.2L458.9 1131.6L460.1 1156.2L461.3 1174.0L462.1 1179.0L462.5 1178.6L463.7 1175.5L464.9 1170.4L466.2 1164.7L467.4 1159.7L468.6 1156.8L468.9 1156.4L469.8 1161.9L471.0 1177.6L472.2 1201.4L473.4 1231.1L474.6 1264.0L475.8 1297.0L477.1 1327.0L478.3 1351.2L479.5 1367.5L480.4 1373.6L480.7 1372.1L481.9 1360.1L483.1 1339.1L484.3 1310.8L485.5 1277.3L486.8 1241.4L488.0 1206.0L489.2 1173.9L490.4 1147.8L491.6 1129.7L492.7 1121.1L492.8 1121.9L494.0 1141.6L495.2 1179.3L496.5 1230.5L497.7 1288.8L498.9 1346.5L500.1 1396.2L501.3 1431.6L502.4 1448.2L502.5 1447.6L503.7 1417.4L504.9 1358.4L506.1 1291.6L507.4 1241.6L508.2 1226.6L508.6 1230.3L509.8 1257.2L511.0 1302.0L512.2 1352.2L513.4 1393.9L514.6 1415.8L514.8 1416.6L515.8 1403.8L517.1 1375.2L518.3 1334.1L519.5 1284.6L520.7 1231.8L521.9 1181.3L523.1 1138.3L524.3 1107.1L525.5 1090.6L525.6 1089.9L526.8 1103.0L528.0 1131.3L529.2 1171.8L530.4 1220.7L531.6 1273.2L532.8 1324.0L534.0 1368.2L535.2 1401.5L536.4 1421.0L536.8 1423.8L537.7 1414.7L538.9 1388.0L540.1 1348.1L541.3 1299.4L542.5 1248.1L543.7 1200.3L544.9 1161.9L546.1 1137.3L546.8 1130.6L547.4 1136.7L548.6 1168.9L549.8 1220.5L551.0 1280.5L552.2 1335.6L553.4 1374.0L554.3 1386.5L554.6 1378.4L555.8 1299.9L557.1 1207.6L557.8 1183.6L558.3 1186.1L559.5 1200.1L560.7 1222.1L561.9 1245.3L563.1 1262.8L564.1 1269.0L564.3 1267.2L565.5 1244.4L566.7 1208.3L568.0 1179.1L568.6 1172.2L569.2 1174.2L570.4 1184.9L571.6 1201.4L572.8 1218.9L574.0 1231.9L574.9 1236.4L575.2 1236.2L576.4 1234.3L577.2 1233.5L577.7 1239.2L578.9 1280.9L580.1 1342.5L581.3 1393.1L582.1 1408.0L582.5 1406.8L583.7 1398.8L584.9 1385.3L586.1 1368.0L587.4 1349.2L588.6 1331.5L589.8 1317.4L591.0 1308.7L591.5 1306.9L592.2 1316.3L593.4 1354.8L594.6 1414.3L595.8 1484.0L597.0 1550.5L598.3 1601.3L599.5 1627.2L599.6 1628.0L600.7 1613.4L601.9 1583.5L603.1 1540.6L604.3 1487.2L605.5 1426.4L606.7 1362.2L608.0 1298.6L609.2 1239.5L610.4 1188.7L611.6 1149.2L612.8 1123.2L613.6 1114.3L614.0 1123.1L615.2 1188.9L616.4 1283.1L617.7 1353.0L618.2 1365.0L618.9 1357.5L620.1 1327.6L621.3 1283.5L622.5 1237.4L623.7 1202.2L624.8 1187.9L624.9 1188.9L626.1 1208.1L627.3 1243.1L628.6 1279.7L629.8 1303.3L630.2 1306.6L631.0 1301.9L632.2 1285.7L633.4 1262.6L634.6 1239.0L635.8 1221.5L636.8 1215.1L637.0 1216.0L638.3 1223.5L639.5 1236.5L640.7 1254.2L641.9 1275.7L643.1 1299.5L644.3 1324.3L645.5 1348.3L646.7 1370.2L648.0 1388.6L649.2 1402.4L650.4 1410.7L650.8 1412.3L651.6 1398.2L652.8 1348.3L654.0 1293.2L655.1 1268.2L655.2 1268.2L656.4 1268.5L657.6 1269.1L658.9 1269.9L660.1 1270.9L661.3 1271.8L662.5 1272.6L663.7 1273.2L664.9 1273.6L665.1 1273.6L666.1 1259.7L667.3 1223.6L668.6 1174.2L669.8 1123.2L671.0 1082.7L672.2 1061.9L672.3 1061.2L673.4 1082.4L674.6 1129.2L675.8 1195.4L677.0 1272.6L678.3 1350.8L679.5 1419.9L680.7 1471.1L681.9 1498.3L682.0 1499.8L683.1 1476.2L684.3 1420.7L685.5 1343.5L686.7 1258.0L687.9 1179.6L689.2 1121.9L690.3 1094.8L690.4 1095.1L691.6 1110.3L692.8 1137.4L694.0 1175.5L695.2 1223.0L696.4 1278.2L697.6 1338.8L698.9 1402.1L700.1 1465.6L701.3 1526.6L702.5 1582.5L703.7 1631.0L704.9 1670.2L706.1 1698.6L707.3 1715.1L707.5 1716.5L708.6 1681.6L709.8 1595.3L711.0 1478.7L712.2 1359.2L713.4 1265.2L714.6 1218.1L714.7 1217.2L715.8 1231.2L717.0 1261.8L718.2 1303.0L719.5 1346.3L720.7 1382.9L721.9 1405.5L722.4 1409.8L723.1 1403.1L724.3 1380.2L725.5 1344.5L726.7 1298.6L727.9 1246.2L729.2 1191.5L730.4 1139.1L731.6 1093.0L732.8 1057.2L734.0 1034.1L734.7 1027.1L735.2 1036.1L736.4 1089.3L737.6 1170.4L738.9 1250.0L740.1 1299.1L740.4 1305.1L741.3 1300.3L742.5 1285.6L743.7 1263.5L744.9 1237.0L746.1 1209.7L747.3 1185.4L748.5 1167.3L749.8 1157.7L749.9 1157.3L751.0 1197.5L752.2 1291.0L753.4 1390.8L754.6 1447.2L754.8 1449.6L755.8 1440.1L757.0 1417.0L758.2 1386.8L759.5 1358.0L760.7 1338.6L761.3 1333.8L761.9 1336.5L763.1 1350.8L764.3 1373.0L765.5 1396.3L766.7 1413.7L767.6 1419.8L767.9 1416.7L769.2 1384.6L770.4 1328.7L771.6 1264.3L772.8 1209.3L774.0 1178.8L774.2 1176.5L775.2 1212.8L776.4 1308.7L777.6 1415.7L778.8 1480.6L779.1 1485.4L780.1 1467.9L781.3 1420.5L782.5 1355.0L783.7 1286.9L784.9 1232.2L786.1 1203.5L786.3 1202.3L787.3 1215.8L788.5 1248.1L789.8 1291.4L791.0 1335.3L792.2 1369.6L793.4 1386.4L793.4 1386.5L794.6 1343.8L795.8 1256.3L797.0 1167.4L798.2 1121.1L798.3 1120.6L799.5 1129.3L800.7 1146.7L801.9 1171.5L803.1 1201.9L804.3 1235.5L805.5 1269.9L806.7 1302.2L807.9 1330.1L809.1 1351.4L810.4 1364.7L810.9 1367.9L811.6 1365.6L812.8 1356.5L814.0 1342.1L815.2 1324.0L816.4 1304.5L817.6 1286.0L818.8 1270.7L820.1 1260.4L820.9 1256.7L821.3 1258.6L822.5 1275.5L823.7 1305.1L824.9 1341.6L826.1 1377.5L827.3 1405.5L828.5 1420.2L828.7 1420.9L829.8 1415.8L831.0 1403.8L832.2 1387.2L833.4 1369.6L834.6 1354.5L835.8 1344.8L836.4 1342.7L837.0 1347.3L838.2 1368.1L839.4 1399.6L840.7 1433.2L841.9 1459.5L843.0 1471.1L843.1 1470.3L844.3 1433.2L845.5 1365.9L846.7 1305.9L847.6 1286.5L847.9 1287.2L849.1 1293.3L850.4 1302.4L851.6 1309.5L852.2 1310.9L852.8 1305.8L854.0 1283.8L855.2 1249.4L856.4 1208.8L857.6 1169.8L858.8 1139.8L860.1 1124.1L860.2 1123.4L861.3 1142.1L862.5 1185.9L863.7 1244.3L864.9 1303.6L866.1 1349.7L867.3 1372.1L867.3 1372.2L868.5 1363.0L869.7 1344.5L871.0 1318.4L872.2 1287.7L873.4 1255.7L874.6 1225.8L875.8 1201.3L877.0 1184.9L877.9 1178.7L878.2 1180.1L879.4 1191.6L880.7 1212.1L881.9 1238.8L883.1 1268.2L884.3 1296.1L885.5 1318.8L886.7 1333.2L887.4 1337.0L887.9 1335.7L889.1 1329.8L890.4 1320.1L891.6 1308.3L892.8 1296.3L894.0 1286.1L895.2 1279.4L896.0 1277.3L896.4 1281.4L897.6 1308.9L898.8 1352.1L900.0 1395.2L901.3 1422.7L901.7 1426.7L902.5 1419.5L903.7 1396.2L904.9 1360.6L906.1 1317.6L907.3 1272.9L908.5 1232.7L909.7 1202.6L911.0 1186.2L911.1 1185.1L912.2 1224.4L913.4 1318.3L914.6 1398.5L915.2 1413.8L915.8 1411.1L917.0 1399.6L918.2 1382.1L919.4 1362.7L920.7 1345.9L921.9 1335.7L922.3 1334.1L923.1 1342.7L924.3 1374.0L925.5 1410.8L926.7 1432.7L926.9 1433.8L927.9 1412.9L929.1 1360.9L930.3 1288.8L931.6 1211.3L932.8 1144.2L934.0 1100.9L934.6 1090.5L935.2 1095.8L936.4 1121.0L937.6 1161.1L938.8 1208.1L940.0 1252.4L941.3 1284.9L942.4 1299.1L942.5 1298.8L943.7 1291.1L944.9 1276.6L946.1 1256.7L947.3 1233.0L948.5 1207.8L949.7 1183.5L951.0 1162.3L952.2 1146.2L953.4 1136.6L953.8 1134.9L954.6 1150.7L955.8 1202.8L957.0 1281.7L958.2 1375.6L959.4 1469.9L960.6 1549.8L961.9 1603.3L962.7 1620.7L963.1 1615.5L964.3 1578.5L965.5 1515.3L966.7 1436.5L967.9 1356.1L969.1 1288.4L970.3 1245.0L971.0 1234.4L971.6 1243.7L972.8 1289.5L974.0 1361.7L975.2 1443.4L976.4 1515.2L977.6 1560.4L978.2 1569.1L978.8 1555.6L980.0 1502.1L981.3 1420.6L982.5 1328.7L983.7 1246.7L984.9 1192.3L985.6 1177.9L986.1 1184.2L987.3 1220.4L988.5 1277.3L989.7 1337.6L990.9 1383.0L991.9 1399.4L992.2 1396.9L993.4 1365.5L994.6 1313.0L995.8 1262.7L997.0 1236.9L997.0 1236.6L998.2 1256.7L999.4 1300.0L1000.6 1353.6L1001.9 1401.2L1003.1 1428.5L1003.3 1431.0L1004.3 1410.6L1005.5 1353.7L1006.7 1273.5L1007.9 1187.5L1009.1 1114.6L1010.3 1070.4L1010.8 1063.2L1011.6 1085.6L1012.8 1167.6L1014.0 1273.3L1015.2 1355.3L1015.9 1377.9L1016.4 1373.5L1017.6 1343.7L1018.8 1322.3L1018.8 1322.4L1020.0 1346.5L1021.2 1390.6L1022.5 1423.1L1022.8 1426.7L1023.7 1416.2L1024.9 1383.9L1026.1 1337.0L1027.3 1284.9L1028.5 1238.3L1029.7 1206.5L1030.6 1196.5L1030.9 1200.1L1032.2 1227.7L1033.4 1273.2L1034.6 1323.0L1035.8 1361.9L1036.9 1377.9L1037.0 1377.2L1038.2 1363.2L1039.4 1336.6L1040.6 1301.9L1041.9 1265.1L1043.1 1232.8L1044.3 1210.3L1045.2 1202.3L1045.5 1203.6L1046.7 1216.0L1047.9 1238.1L1049.1 1266.8L1050.3 1297.9L1051.5 1327.0L1052.8 1349.8L1054.0 1363.1L1054.4 1365.0L1055.2 1357.5L1056.4 1333.5L1057.6 1298.1L1058.8 1258.0L1060.0 1220.6L1061.2 1193.2L1062.4 1180.8L1062.5 1181.4L1063.7 1205.6L1064.9 1252.7L1066.1 1316.5L1067.3 1387.8L1068.5 1456.1L1069.7 1511.5L1070.9 1546.2L1071.5 1554.3L1072.2 1546.2L1073.4 1513.6L1074.6 1461.5L1075.8 1394.9L1077.0 1320.7L1078.2 1246.6L1079.4 1180.3L1080.6 1128.6L1081.8 1096.5L1082.4 1089.0L1083.1 1098.9L1084.3 1142.3L1085.5 1206.9L1086.7 1272.9L1087.9 1320.5L1088.7 1335.0L1089.1 1331.7L1090.3 1308.5L1091.5 1269.3L1092.8 1223.4L1094.0 1181.6L1095.2 1153.6L1095.9 1146.4L1096.4 1151.6L1097.6 1178.7L1098.8 1223.3L1100.0 1278.0L1101.2 1334.0L1102.5 1381.8L1103.7 1413.8L1104.5 1423.8L1104.9 1420.1L1106.1 1392.8L1107.3 1347.7L1108.5 1297.1L1109.7 1255.1L1110.9 1233.2L1111.1 1232.3L1112.1 1235.8L1113.4 1243.9L1114.6 1253.4L1115.8 1260.4L1116.5 1262.2L1117.0 1260.3L1118.2 1249.4L1119.4 1233.3L1120.6 1219.3L1121.7 1213.7L1121.8 1214.9L1123.1 1231.1L1124.3 1260.9L1125.5 1300.8L1126.7 1345.1L1127.9 1387.8L1129.1 1423.1L1130.3 1446.2L1131.1 1453.3L1131.5 1444.4L1132.8 1381.1L1134.0 1288.0L1135.2 1211.6L1136.0 1189.4L1136.4 1194.1L1137.6 1225.9L1138.8 1279.4L1140.0 1344.0L1141.2 1406.5L1142.4 1454.2L1143.7 1477.9L1143.7 1478.3L1144.9 1446.3L1146.1 1377.9L1147.3 1297.6L1148.5 1234.9L1149.4 1213.1L1149.7 1213.7L1150.9 1219.3L1152.1 1229.1L1153.4 1241.2L1154.6 1252.7L1155.8 1261.3L1156.9 1265.0L1157.0 1264.6L1158.2 1254.1L1159.4 1234.0L1160.6 1208.7L1161.8 1184.3L1163.1 1166.6L1164.0 1159.8L1164.3 1161.6L1165.5 1185.1L1166.7 1227.6L1167.9 1278.5L1169.1 1324.7L1170.3 1354.5L1170.9 1360.7L1171.5 1359.4L1172.7 1353.1L1174.0 1346.8L1174.6 1345.3L1175.2 1346.6L1176.4 1354.0L1177.6 1361.1L1178.1 1362.2L1178.8 1355.1L1180.0 1329.8L1181.2 1292.1L1182.4 1250.2L1183.7 1213.2L1184.9 1189.3L1185.5 1183.6L1186.1 1194.2L1187.3 1244.0L1188.5 1323.5L1189.7 1417.9L1190.9 1509.3L1192.1 1580.4L1193.4 1618.4L1193.5 1620.7L1194.6 1590.6L1195.8 1516.3L1197.0 1414.7L1198.2 1308.0L1199.4 1219.6L1200.6 1168.4L1201.0 1162.1L1201.8 1176.7L1203.0 1221.2L1204.3 1284.5L1205.5 1351.7L1206.7 1406.8L1207.9 1437.2L1208.1 1439.6L1209.1 1424.6L1210.3 1384.7L1211.5 1334.7L1212.7 1292.8L1213.9 1274.5L1214.0 1275.0L1215.2 1289.9L1216.4 1318.9L1217.6 1355.4L1218.8 1390.8L1220.0 1416.7L1221.0 1426.7L1221.2 1424.9L1222.4 1403.9L1223.7 1365.6L1224.9 1314.3L1226.1 1256.1L1227.3 1198.3L1228.5 1147.8L1229.7 1110.8L1230.9 1091.3L1231.0 1090.5L1232.1 1104.1L1233.3 1133.4L1234.6 1175.6L1235.8 1227.1L1237.0 1283.4L1238.2 1339.3L1239.4 1389.9L1240.6 1430.6L1241.8 1458.2L1242.8 1469.1L1243.0 1467.9L1244.3 1455.9L1245.5 1434.6L1246.7 1406.5L1247.9 1375.1L1249.1 1344.5L1250.3 1318.8L1251.5 1301.0L1252.5 1294.0L1252.7 1294.8L1254.0 1306.8L1255.2 1328.3L1256.4 1353.6L1257.6 1375.5L1258.8 1388.2L1259.1 1389.4L1260.0 1380.5L1261.2 1354.7L1262.4 1319.6L1263.6 1284.8L1264.9 1260.0L1265.7 1252.4L1266.1 1253.1L1267.3 1257.8L1268.5 1265.9L1269.7 1276.3L1270.9 1288.0L1272.1 1299.3L1273.3 1309.0L1274.6 1315.9L1275.7 1319.2L1275.8 1318.6L1277.0 1282.4L1278.2 1213.9L1279.4 1146.9L1280.6 1114.8L1280.6 1115.0L1281.8 1122.3L1283.0 1136.6L1284.3 1156.6L1285.5 1180.1L1286.7 1204.8L1287.9 1228.1L1289.1 1247.6L1290.3 1261.4L1291.5 1267.9"/>
</g>
</svg>
</body></html>
